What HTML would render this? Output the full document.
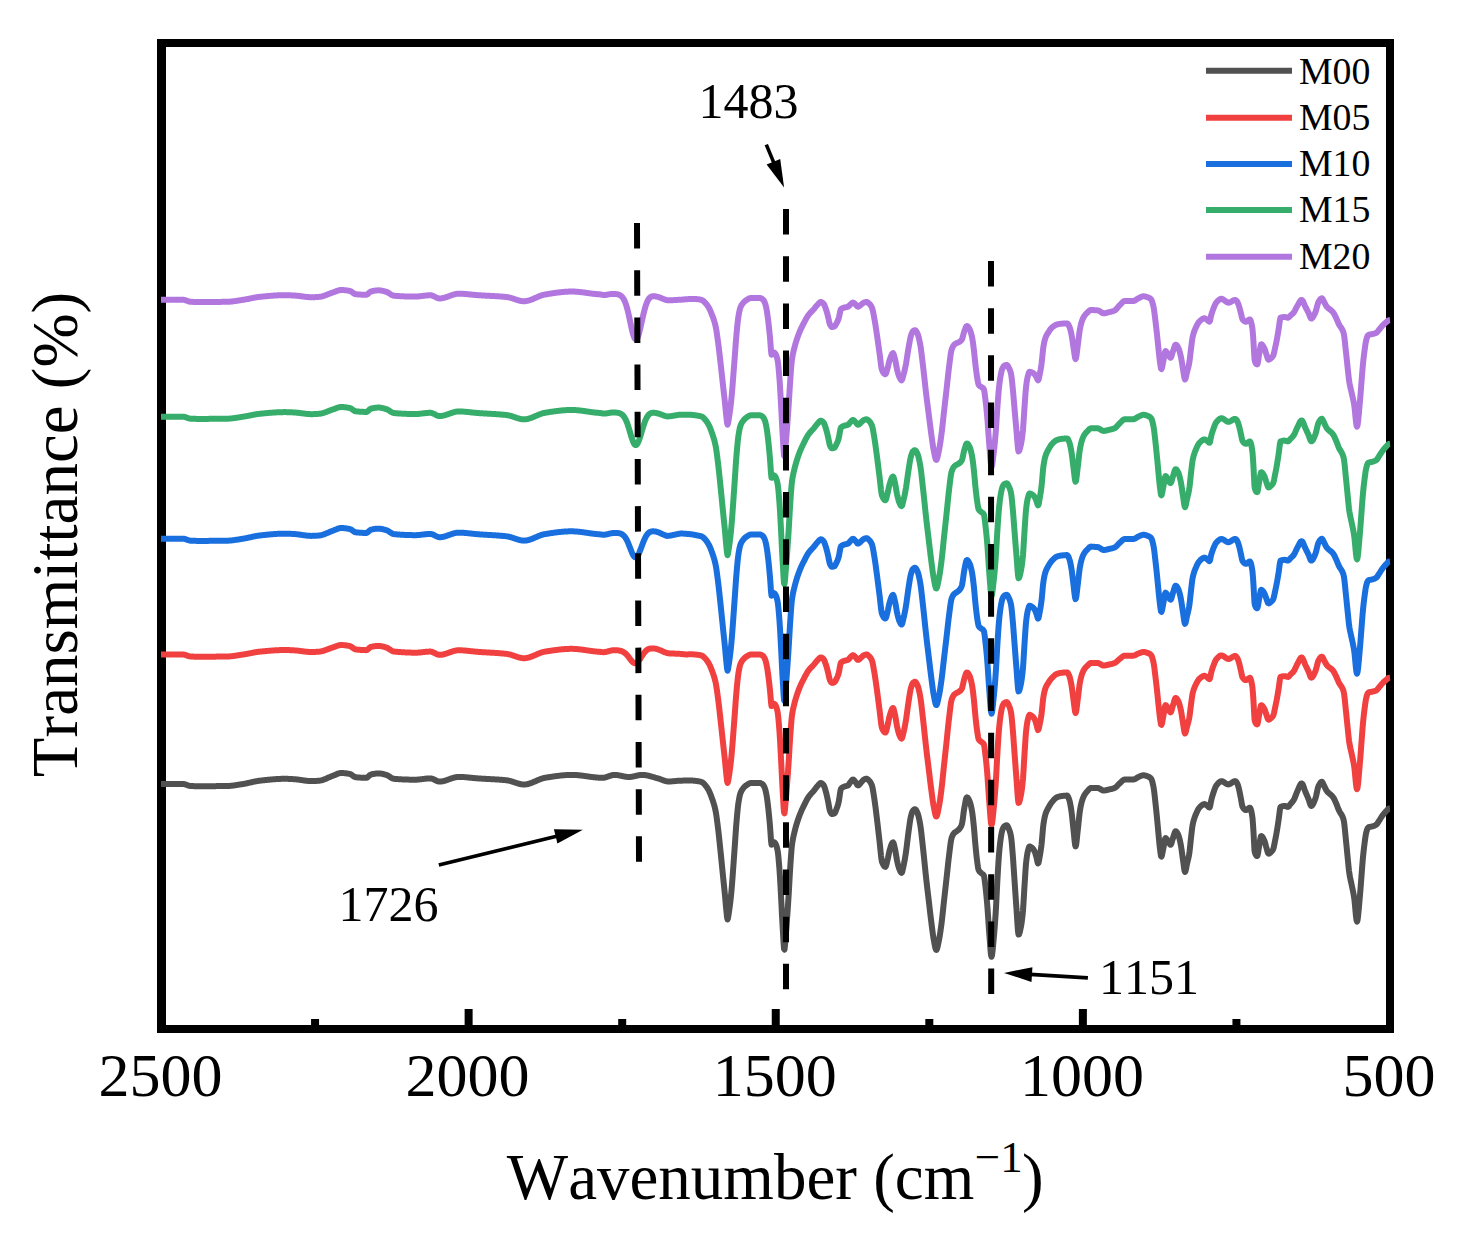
<!DOCTYPE html>
<html><head><meta charset="utf-8"><title>FTIR spectra</title>
<style>html,body{margin:0;padding:0;background:#fff;overflow:hidden}svg{display:block}text{font-family:"Liberation Serif",serif;fill:#000;font-kerning:none;font-feature-settings:"kern" 0}</style>
</head><body>
<svg width="1460" height="1238" viewBox="0 0 1460 1238">
<rect width="1460" height="1238" fill="#fff"/>
<line x1="315.06" y1="1019" x2="315.06" y2="1026" stroke="#000" stroke-width="8"/>
<line x1="622.19" y1="1019" x2="622.19" y2="1026" stroke="#000" stroke-width="8"/>
<line x1="929.31" y1="1019" x2="929.31" y2="1026" stroke="#000" stroke-width="8"/>
<line x1="1236.44" y1="1019" x2="1236.44" y2="1026" stroke="#000" stroke-width="8"/>
<line x1="468.62" y1="1009" x2="468.62" y2="1026" stroke="#000" stroke-width="8"/>
<line x1="775.75" y1="1009" x2="775.75" y2="1026" stroke="#000" stroke-width="8"/>
<line x1="1082.88" y1="1009" x2="1082.88" y2="1026" stroke="#000" stroke-width="8"/>
<line x1="161.5" y1="39" x2="161.5" y2="1033" stroke="#000" stroke-width="9"/>
<line x1="157" y1="43" x2="1394" y2="43" stroke="#000" stroke-width="8"/>
<line x1="1390" y1="39" x2="1390" y2="1033" stroke="#000" stroke-width="8"/>
<line x1="157" y1="1029" x2="1394" y2="1029" stroke="#000" stroke-width="8"/>
<polyline points="161.0,784.00 161.5,784.00 162.0,784.00 162.5,784.00 163.0,784.00 163.5,784.00 164.0,784.00 164.5,784.00 165.0,784.00 165.5,784.00 166.0,784.00 166.5,784.00 167.0,784.00 167.5,784.00 168.0,784.00 168.5,784.00 169.0,784.00 169.5,784.00 170.0,784.00 170.5,784.00 171.0,784.00 171.5,784.00 172.0,784.00 172.5,784.00 173.0,784.00 173.5,784.00 174.0,784.00 174.5,784.00 175.0,784.00 175.5,784.00 176.0,784.00 176.5,784.00 177.0,784.00 177.5,784.00 178.0,784.00 178.5,784.00 179.0,784.00 179.5,784.00 180.0,784.00 180.5,784.00 181.0,784.00 181.5,784.00 182.0,784.00 182.5,784.00 183.0,784.00 183.5,784.02 184.0,784.09 184.5,784.19 185.0,784.32 185.5,784.47 186.0,784.64 186.5,784.82 187.0,785.01 187.5,785.20 188.0,785.38 188.5,785.55 189.0,785.70 189.5,785.83 190.0,785.93 190.5,785.99 191.0,786.01 191.5,786.03 192.0,786.06 192.5,786.07 193.0,786.09 193.5,786.11 194.0,786.13 194.5,786.14 195.0,786.15 195.5,786.16 196.0,786.17 196.5,786.18 197.0,786.19 197.5,786.19 198.0,786.20 198.5,786.20 199.0,786.20 199.5,786.20 200.0,786.20 200.5,786.20 201.0,786.20 201.5,786.20 202.0,786.20 202.5,786.20 203.0,786.20 203.5,786.19 204.0,786.19 204.5,786.19 205.0,786.19 205.5,786.19 206.0,786.19 206.5,786.19 207.0,786.18 207.5,786.18 208.0,786.18 208.5,786.18 209.0,786.17 209.5,786.17 210.0,786.17 210.5,786.17 211.0,786.16 211.5,786.16 212.0,786.16 212.5,786.15 213.0,786.15 213.5,786.15 214.0,786.14 214.5,786.14 215.0,786.14 215.5,786.13 216.0,786.13 216.5,786.12 217.0,786.12 217.5,786.11 218.0,786.11 218.5,786.10 219.0,786.10 219.5,786.09 220.0,786.09 220.5,786.08 221.0,786.08 221.5,786.07 222.0,786.07 222.5,786.06 223.0,786.05 223.5,786.05 224.0,786.04 224.5,786.03 225.0,786.03 225.5,786.02 226.0,786.01 226.5,786.01 227.0,786.00 227.5,785.99 228.0,785.97 228.5,785.95 229.0,785.92 229.5,785.89 230.0,785.86 230.5,785.81 231.0,785.77 231.5,785.72 232.0,785.67 232.5,785.61 233.0,785.55 233.5,785.48 234.0,785.42 234.5,785.35 235.0,785.28 235.5,785.20 236.0,785.13 236.5,785.05 237.0,784.97 237.5,784.90 238.0,784.82 238.5,784.73 239.0,784.65 239.5,784.57 240.0,784.49 240.5,784.41 241.0,784.33 241.5,784.25 242.0,784.18 242.5,784.10 243.0,784.02 243.5,783.94 244.0,783.85 244.5,783.76 245.0,783.67 245.5,783.57 246.0,783.46 246.5,783.36 247.0,783.25 247.5,783.14 248.0,783.03 248.5,782.92 249.0,782.80 249.5,782.69 250.0,782.57 250.5,782.46 251.0,782.34 251.5,782.23 252.0,782.11 252.5,782.00 253.0,781.89 253.5,781.78 254.0,781.67 254.5,781.56 255.0,781.46 255.5,781.36 256.0,781.27 256.5,781.18 257.0,781.09 257.5,781.00 258.0,780.93 258.5,780.85 259.0,780.79 259.5,780.72 260.0,780.67 260.5,780.61 261.0,780.55 261.5,780.50 262.0,780.44 262.5,780.38 263.0,780.33 263.5,780.27 264.0,780.22 264.5,780.16 265.0,780.11 265.5,780.05 266.0,780.00 266.5,779.95 267.0,779.90 267.5,779.84 268.0,779.79 268.5,779.74 269.0,779.69 269.5,779.64 270.0,779.60 270.5,779.55 271.0,779.50 271.5,779.46 272.0,779.41 272.5,779.37 273.0,779.33 273.5,779.29 274.0,779.25 274.5,779.21 275.0,779.18 275.5,779.14 276.0,779.11 276.5,779.08 277.0,779.04 277.5,779.02 278.0,778.99 278.5,778.96 279.0,778.94 279.5,778.92 280.0,778.90 280.5,778.88 281.0,778.86 281.5,778.85 282.0,778.83 282.5,778.82 283.0,778.81 283.5,778.81 284.0,778.80 284.5,778.80 285.0,778.80 285.5,778.80 286.0,778.81 286.5,778.82 287.0,778.83 287.5,778.85 288.0,778.87 288.5,778.89 289.0,778.91 289.5,778.93 290.0,778.96 290.5,778.98 291.0,779.01 291.5,779.04 292.0,779.07 292.5,779.10 293.0,779.13 293.5,779.16 294.0,779.19 294.5,779.22 295.0,779.25 295.5,779.30 296.0,779.34 296.5,779.39 297.0,779.45 297.5,779.51 298.0,779.57 298.5,779.64 299.0,779.70 299.5,779.77 300.0,779.85 300.5,779.92 301.0,780.00 301.5,780.07 302.0,780.15 302.5,780.22 303.0,780.30 303.5,780.37 304.0,780.45 304.5,780.52 305.0,780.59 305.5,780.65 306.0,780.72 306.5,780.78 307.0,780.83 307.5,780.88 308.0,780.93 308.5,780.97 309.0,781.01 309.5,781.04 310.0,781.07 310.5,781.08 311.0,781.10 311.5,781.10 312.0,781.10 312.5,781.09 313.0,781.08 313.5,781.07 314.0,781.05 314.5,781.03 315.0,781.00 315.5,780.97 316.0,780.94 316.5,780.91 317.0,780.87 317.5,780.84 318.0,780.80 318.5,780.76 319.0,780.72 319.5,780.67 320.0,780.61 320.5,780.52 321.0,780.42 321.5,780.30 322.0,780.17 322.5,780.02 323.0,779.86 323.5,779.69 324.0,779.51 324.5,779.32 325.0,779.12 325.5,778.91 326.0,778.70 326.5,778.48 327.0,778.26 327.5,778.03 328.0,777.81 328.5,777.58 329.0,777.36 329.5,777.14 330.0,776.92 330.5,776.71 331.0,776.50 331.5,776.31 332.0,776.12 332.5,775.93 333.0,775.76 333.5,775.56 334.0,775.35 334.5,775.14 335.0,774.92 335.5,774.69 336.0,774.47 336.5,774.25 337.0,774.04 337.5,773.83 338.0,773.65 338.5,773.48 339.0,773.33 339.5,773.20 340.0,773.10 340.5,773.04 341.0,773.00 341.5,773.00 342.0,773.01 342.5,773.03 343.0,773.05 343.5,773.08 344.0,773.12 344.5,773.17 345.0,773.22 345.5,773.28 346.0,773.34 346.5,773.41 347.0,773.48 347.5,773.56 348.0,773.65 348.5,773.73 349.0,773.83 349.5,773.92 350.0,774.02 350.5,774.19 351.0,774.44 351.5,774.74 352.0,775.10 352.5,775.47 353.0,775.85 353.5,776.22 354.0,776.56 354.5,776.84 355.0,777.06 355.5,777.19 356.0,777.24 356.5,777.30 357.0,777.35 357.5,777.39 358.0,777.44 358.5,777.48 359.0,777.52 359.5,777.56 360.0,777.59 360.5,777.62 361.0,777.65 361.5,777.68 362.0,777.70 362.5,777.73 363.0,777.74 363.5,777.76 364.0,777.77 364.5,777.78 365.0,777.79 365.5,777.80 366.0,777.80 366.5,777.77 367.0,777.58 367.5,777.27 368.0,776.86 368.5,776.40 369.0,775.91 369.5,775.44 370.0,775.03 370.5,774.70 371.0,774.50 371.5,774.38 372.0,774.26 372.5,774.15 373.0,774.04 373.5,773.94 374.0,773.84 374.5,773.76 375.0,773.68 375.5,773.61 376.0,773.55 376.5,773.50 377.0,773.46 377.5,773.43 378.0,773.41 378.5,773.40 379.0,773.41 379.5,773.43 380.0,773.47 380.5,773.53 381.0,773.60 381.5,773.69 382.0,773.78 382.5,773.89 383.0,774.01 383.5,774.13 384.0,774.26 384.5,774.40 385.0,774.53 385.5,774.67 386.0,774.82 386.5,774.96 387.0,775.15 387.5,775.38 388.0,775.65 388.5,775.95 389.0,776.27 389.5,776.60 390.0,776.93 390.5,777.26 391.0,777.58 391.5,777.88 392.0,778.16 392.5,778.39 393.0,778.58 393.5,778.72 394.0,778.80 394.5,778.84 395.0,778.89 395.5,778.93 396.0,778.97 396.5,779.01 397.0,779.05 397.5,779.09 398.0,779.12 398.5,779.16 399.0,779.19 399.5,779.23 400.0,779.26 400.5,779.29 401.0,779.32 401.5,779.34 402.0,779.37 402.5,779.40 403.0,779.42 403.5,779.44 404.0,779.47 404.5,779.49 405.0,779.51 405.5,779.53 406.0,779.55 406.5,779.56 407.0,779.58 407.5,779.59 408.0,779.61 408.5,779.62 409.0,779.63 409.5,779.64 410.0,779.65 410.5,779.66 411.0,779.67 411.5,779.68 412.0,779.68 412.5,779.69 413.0,779.69 413.5,779.70 414.0,779.70 414.5,779.70 415.0,779.70 415.5,779.70 416.0,779.68 416.5,779.67 417.0,779.64 417.5,779.61 418.0,779.57 418.5,779.53 419.0,779.48 419.5,779.43 420.0,779.38 420.5,779.32 421.0,779.26 421.5,779.20 422.0,779.14 422.5,779.08 423.0,779.01 423.5,778.95 424.0,778.89 424.5,778.83 425.0,778.77 425.5,778.71 426.0,778.66 426.5,778.61 427.0,778.56 427.5,778.52 428.0,778.48 428.5,778.45 429.0,778.43 429.5,778.41 430.0,778.40 430.5,778.40 431.0,778.44 431.5,778.53 432.0,778.66 432.5,778.82 433.0,779.02 433.5,779.25 434.0,779.49 434.5,779.74 435.0,780.00 435.5,780.26 436.0,780.51 436.5,780.75 437.0,780.98 437.5,781.18 438.0,781.34 438.5,781.47 439.0,781.56 439.5,781.60 440.0,781.59 440.5,781.57 441.0,781.53 441.5,781.47 442.0,781.40 442.5,781.31 443.0,781.21 443.5,781.10 444.0,780.97 444.5,780.84 445.0,780.69 445.5,780.54 446.0,780.38 446.5,780.22 447.0,780.04 447.5,779.87 448.0,779.69 448.5,779.51 449.0,779.32 449.5,779.14 450.0,778.96 450.5,778.78 451.0,778.60 451.5,778.42 452.0,778.25 452.5,778.09 453.0,777.93 453.5,777.78 454.0,777.63 454.5,777.50 455.0,777.38 455.5,777.27 456.0,777.17 456.5,777.09 457.0,777.02 457.5,776.96 458.0,776.92 458.5,776.90 459.0,776.90 459.5,776.90 460.0,776.91 460.5,776.92 461.0,776.94 461.5,776.96 462.0,776.98 462.5,777.00 463.0,777.03 463.5,777.06 464.0,777.10 464.5,777.13 465.0,777.17 465.5,777.21 466.0,777.25 466.5,777.30 467.0,777.34 467.5,777.39 468.0,777.44 468.5,777.49 469.0,777.54 469.5,777.59 470.0,777.64 470.5,777.69 471.0,777.74 471.5,777.80 472.0,777.85 472.5,777.90 473.0,777.95 473.5,778.00 474.0,778.05 474.5,778.10 475.0,778.15 475.5,778.19 476.0,778.24 476.5,778.28 477.0,778.32 477.5,778.36 478.0,778.40 478.5,778.44 479.0,778.47 479.5,778.50 480.0,778.54 480.5,778.57 481.0,778.60 481.5,778.63 482.0,778.66 482.5,778.69 483.0,778.72 483.5,778.75 484.0,778.78 484.5,778.80 485.0,778.83 485.5,778.86 486.0,778.88 486.5,778.91 487.0,778.94 487.5,778.96 488.0,778.99 488.5,779.02 489.0,779.04 489.5,779.07 490.0,779.09 490.5,779.12 491.0,779.14 491.5,779.17 492.0,779.20 492.5,779.22 493.0,779.25 493.5,779.28 494.0,779.31 494.5,779.34 495.0,779.37 495.5,779.40 496.0,779.43 496.5,779.46 497.0,779.49 497.5,779.52 498.0,779.55 498.5,779.59 499.0,779.62 499.5,779.66 500.0,779.69 500.5,779.73 501.0,779.77 501.5,779.81 502.0,779.85 502.5,779.89 503.0,779.94 503.5,779.98 504.0,780.03 504.5,780.07 505.0,780.12 505.5,780.17 506.0,780.23 506.5,780.28 507.0,780.34 507.5,780.41 508.0,780.49 508.5,780.58 509.0,780.69 509.5,780.81 510.0,780.94 510.5,781.07 511.0,781.21 511.5,781.36 512.0,781.52 512.5,781.68 513.0,781.84 513.5,782.01 514.0,782.18 514.5,782.35 515.0,782.52 515.5,782.69 516.0,782.85 516.5,783.02 517.0,783.18 517.5,783.33 518.0,783.48 518.5,783.63 519.0,783.76 519.5,783.89 520.0,784.01 520.5,784.12 521.0,784.21 521.5,784.30 522.0,784.37 522.5,784.42 523.0,784.47 523.5,784.49 524.0,784.50 524.5,784.49 525.0,784.46 525.5,784.42 526.0,784.36 526.5,784.28 527.0,784.19 527.5,784.09 528.0,783.97 528.5,783.84 529.0,783.70 529.5,783.55 530.0,783.38 530.5,783.21 531.0,783.03 531.5,782.85 532.0,782.65 532.5,782.45 533.0,782.25 533.5,782.04 534.0,781.82 534.5,781.61 535.0,781.39 535.5,781.17 536.0,780.95 536.5,780.73 537.0,780.51 537.5,780.29 538.0,780.08 538.5,779.87 539.0,779.66 539.5,779.46 540.0,779.27 540.5,779.08 541.0,778.90 541.5,778.73 542.0,778.56 542.5,778.41 543.0,778.27 543.5,778.13 544.0,778.02 544.5,777.91 545.0,777.82 545.5,777.73 546.0,777.65 546.5,777.57 547.0,777.49 547.5,777.41 548.0,777.33 548.5,777.25 549.0,777.16 549.5,777.09 550.0,777.01 550.5,776.93 551.0,776.85 551.5,776.77 552.0,776.70 552.5,776.62 553.0,776.55 553.5,776.47 554.0,776.40 554.5,776.33 555.0,776.26 555.5,776.19 556.0,776.12 556.5,776.05 557.0,775.99 557.5,775.92 558.0,775.86 558.5,775.80 559.0,775.74 559.5,775.68 560.0,775.62 560.5,775.57 561.0,775.52 561.5,775.46 562.0,775.42 562.5,775.37 563.0,775.32 563.5,775.28 564.0,775.24 564.5,775.20 565.0,775.16 565.5,775.13 566.0,775.09 566.5,775.06 567.0,775.03 567.5,775.01 568.0,774.99 568.5,774.97 569.0,774.95 569.5,774.93 570.0,774.92 570.5,774.91 571.0,774.90 571.5,774.90 572.0,774.90 572.5,774.90 573.0,774.91 573.5,774.92 574.0,774.94 574.5,774.96 575.0,774.98 575.5,775.01 576.0,775.04 576.5,775.08 577.0,775.11 577.5,775.15 578.0,775.20 578.5,775.24 579.0,775.29 579.5,775.35 580.0,775.40 580.5,775.46 581.0,775.51 581.5,775.57 582.0,775.64 582.5,775.70 583.0,775.76 583.5,775.83 584.0,775.90 584.5,775.96 585.0,776.03 585.5,776.10 586.0,776.17 586.5,776.24 587.0,776.31 587.5,776.39 588.0,776.46 588.5,776.53 589.0,776.60 589.5,776.67 590.0,776.74 590.5,776.80 591.0,776.87 591.5,776.94 592.0,777.00 592.5,777.06 593.0,777.13 593.5,777.19 594.0,777.24 594.5,777.30 595.0,777.35 595.5,777.41 596.0,777.46 596.5,777.50 597.0,777.55 597.5,777.59 598.0,777.62 598.5,777.66 599.0,777.69 599.5,777.72 600.0,777.74 600.5,777.76 601.0,777.78 601.5,777.79 602.0,777.80 602.5,777.80 603.0,777.79 603.5,777.75 604.0,777.69 604.5,777.60 605.0,777.49 605.5,777.37 606.0,777.23 606.5,777.07 607.0,776.90 607.5,776.73 608.0,776.55 608.5,776.37 609.0,776.19 609.5,776.01 610.0,775.83 610.5,775.66 611.0,775.51 611.5,775.36 612.0,775.23 612.5,775.12 613.0,775.03 613.5,774.96 614.0,774.91 614.5,774.90 615.0,774.91 615.5,774.93 616.0,774.96 616.5,775.01 617.0,775.07 617.5,775.13 618.0,775.21 618.5,775.29 619.0,775.38 619.5,775.48 620.0,775.58 620.5,775.68 621.0,775.79 621.5,775.90 622.0,776.00 622.5,776.11 623.0,776.22 623.5,776.32 624.0,776.42 624.5,776.52 625.0,776.61 625.5,776.69 626.0,776.77 626.5,776.83 627.0,776.89 627.5,776.94 628.0,776.97 628.5,776.99 629.0,777.00 629.5,776.99 630.0,776.97 630.5,776.92 631.0,776.87 631.5,776.80 632.0,776.72 632.5,776.64 633.0,776.54 633.5,776.43 634.0,776.32 634.5,776.21 635.0,776.09 635.5,775.97 636.0,775.85 636.5,775.74 637.0,775.62 637.5,775.51 638.0,775.40 638.5,775.30 639.0,775.21 639.5,775.13 640.0,775.06 640.5,775.00 641.0,774.95 641.5,774.92 642.0,774.90 642.5,774.90 643.0,774.92 643.5,774.94 644.0,774.98 644.5,775.03 645.0,775.09 645.5,775.16 646.0,775.24 646.5,775.32 647.0,775.42 647.5,775.52 648.0,775.63 648.5,775.75 649.0,775.87 649.5,776.00 650.0,776.13 650.5,776.27 651.0,776.41 651.5,776.55 652.0,776.70 652.5,776.85 653.0,777.00 653.5,777.15 654.0,777.30 654.5,777.45 655.0,777.60 655.5,777.75 656.0,777.89 656.5,778.04 657.0,778.18 657.5,778.32 658.0,778.45 658.5,778.58 659.0,778.73 659.5,778.89 660.0,779.06 660.5,779.24 661.0,779.43 661.5,779.63 662.0,779.82 662.5,780.02 663.0,780.21 663.5,780.40 664.0,780.58 664.5,780.76 665.0,780.92 665.5,781.06 666.0,781.19 666.5,781.30 667.0,781.39 667.5,781.45 668.0,781.49 668.5,781.50 669.0,781.49 669.5,781.48 670.0,781.46 670.5,781.44 671.0,781.41 671.5,781.38 672.0,781.34 672.5,781.30 673.0,781.26 673.5,781.21 674.0,781.16 674.5,781.12 675.0,781.07 675.5,781.02 676.0,780.97 676.5,780.93 677.0,780.88 677.5,780.84 678.0,780.81 678.5,780.77 679.0,780.74 679.5,780.72 680.0,780.70 680.5,780.68 681.0,780.67 681.5,780.65 682.0,780.64 682.5,780.63 683.0,780.61 683.5,780.60 684.0,780.59 684.5,780.57 685.0,780.56 685.5,780.55 686.0,780.54 686.5,780.53 687.0,780.52 687.5,780.52 688.0,780.51 688.5,780.51 689.0,780.50 689.5,780.50 690.0,780.50 690.5,780.50 691.0,780.52 691.5,780.53 692.0,780.56 692.5,780.59 693.0,780.63 693.5,780.67 694.0,780.72 694.5,780.77 695.0,780.83 695.5,780.89 696.0,780.95 696.5,781.02 697.0,781.08 697.5,781.15 698.0,781.23 698.5,781.30 699.0,781.38 699.5,781.47 700.0,781.58 700.5,781.70 701.0,781.85 701.5,782.01 702.0,782.20 702.5,782.46 703.0,782.82 703.5,783.27 704.0,783.78 704.5,784.33 705.0,784.91 705.5,785.50 706.0,786.11 706.5,786.77 707.0,787.48 707.5,788.25 708.0,789.07 708.5,789.95 709.0,790.88 709.5,791.93 710.0,793.08 710.5,794.32 711.0,795.63 711.5,797.00 712.0,798.40 712.5,799.81 713.0,801.28 713.5,802.83 714.0,804.50 714.5,806.32 715.0,808.32 715.5,810.53 716.0,813.13 716.5,816.36 717.0,820.04 717.5,823.98 718.0,828.00 718.5,832.19 719.0,836.68 719.5,841.38 720.0,846.21 720.5,851.07 721.0,855.92 721.5,860.89 722.0,865.93 722.5,870.99 723.0,876.00 723.5,880.90 724.0,885.74 724.5,890.64 725.0,895.70 725.5,901.25 726.0,906.98 726.5,912.00 727.0,916.85 727.5,919.50 728.0,918.06 728.5,914.94 729.0,911.76 729.5,908.37 730.0,904.55 730.5,900.32 731.0,895.70 731.5,890.46 732.0,884.49 732.5,877.99 733.0,871.13 733.5,864.11 734.0,857.11 734.5,850.23 735.0,842.93 735.5,835.47 736.0,828.33 736.5,822.00 737.0,816.29 737.5,810.91 738.0,806.17 738.5,802.40 739.0,799.39 739.5,796.78 740.0,794.62 740.5,793.00 741.0,791.79 741.5,790.79 742.0,789.94 742.5,789.21 743.0,788.54 743.5,787.90 744.0,787.32 744.5,786.78 745.0,786.30 745.5,785.87 746.0,785.50 746.5,785.16 747.0,784.82 747.5,784.48 748.0,784.16 748.5,783.87 749.0,783.60 749.5,783.37 750.0,783.19 750.5,783.07 751.0,783.01 751.5,783.00 752.0,783.00 752.5,783.00 753.0,783.00 753.5,783.00 754.0,783.00 754.5,783.00 755.0,783.00 755.5,783.00 756.0,783.00 756.5,783.00 757.0,783.00 757.5,783.00 758.0,783.00 758.5,783.00 759.0,783.00 759.5,783.00 760.0,783.02 760.5,783.13 761.0,783.32 761.5,783.58 762.0,783.90 762.5,784.27 763.0,784.68 763.5,785.32 764.0,786.20 764.5,787.28 765.0,788.54 765.5,790.29 766.0,792.48 766.5,795.00 767.0,798.03 767.5,801.71 768.0,805.80 768.5,810.20 769.0,815.16 769.5,820.51 770.0,826.00 770.5,832.96 771.0,840.40 771.5,844.65 772.0,844.48 772.5,843.51 773.0,842.48 773.5,842.00 774.0,842.15 774.5,842.51 775.0,843.00 775.5,843.70 776.0,844.76 776.5,846.17 777.0,847.92 777.5,850.00 778.0,853.18 778.5,857.92 779.0,863.70 779.5,870.00 780.0,877.50 780.5,886.45 781.0,895.70 781.5,905.30 782.0,915.40 782.5,924.96 783.0,933.32 783.5,942.11 784.0,948.67 784.5,949.54 785.0,945.25 785.5,938.77 786.0,932.65 786.5,926.39 787.0,919.63 787.5,912.46 788.0,904.98 788.5,897.26 789.0,888.96 789.5,879.85 790.0,871.12 790.5,863.51 791.0,856.15 791.5,849.65 792.0,844.80 792.5,841.41 793.0,838.62 793.5,836.25 794.0,834.10 794.5,832.00 795.0,829.93 795.5,827.99 796.0,826.16 796.5,824.44 797.0,822.80 797.5,821.23 798.0,819.72 798.5,818.27 799.0,816.88 799.5,815.54 800.0,814.25 800.5,813.00 801.0,811.80 801.5,810.65 802.0,809.55 802.5,808.48 803.0,807.43 803.5,806.41 804.0,805.39 804.5,804.38 805.0,803.36 805.5,802.35 806.0,801.36 806.5,800.40 807.0,799.47 807.5,798.59 808.0,797.76 808.5,797.00 809.0,796.30 809.5,795.64 810.0,795.02 810.5,794.44 811.0,793.87 811.5,793.32 812.0,792.78 812.5,792.23 813.0,791.68 813.5,791.10 814.0,790.50 814.5,789.86 815.0,789.19 815.5,788.51 816.0,787.84 816.5,787.18 817.0,786.56 817.5,786.00 818.0,785.43 818.5,784.82 819.0,784.23 819.5,783.70 820.0,783.29 820.5,783.04 821.0,783.02 821.5,783.17 822.0,783.48 822.5,783.91 823.0,784.43 823.5,785.00 824.0,785.85 824.5,787.12 825.0,788.69 825.5,790.42 826.0,792.20 826.5,794.12 827.0,796.31 827.5,798.64 828.0,801.00 828.5,803.66 829.0,806.59 829.5,809.23 830.0,811.00 830.5,812.12 831.0,813.08 831.5,813.75 832.0,814.00 832.5,813.97 833.0,813.88 833.5,813.75 834.0,813.57 834.5,813.34 835.0,812.70 835.5,811.62 836.0,810.32 836.5,809.00 837.0,807.69 837.5,806.25 838.0,804.63 838.5,802.80 839.0,800.35 839.5,796.95 840.0,793.36 840.5,790.38 841.0,788.80 841.5,788.24 842.0,787.80 842.5,787.44 843.0,787.16 843.5,786.92 844.0,786.71 844.5,786.50 845.0,786.32 845.5,786.17 846.0,786.05 846.5,785.94 847.0,785.80 847.5,785.63 848.0,785.40 848.5,784.97 849.0,784.29 849.5,783.48 850.0,782.68 850.5,782.00 851.0,781.37 851.5,780.71 852.0,780.10 852.5,779.67 853.0,779.50 853.5,779.67 854.0,780.10 854.5,780.71 855.0,781.37 855.5,782.00 856.0,782.72 856.5,783.61 857.0,784.48 857.5,785.14 858.0,785.40 858.5,785.27 859.0,784.93 859.5,784.42 860.0,783.82 860.5,783.18 861.0,782.55 861.5,782.00 862.0,781.46 862.5,780.88 863.0,780.31 863.5,779.83 864.0,779.50 864.5,779.27 865.0,779.06 865.5,778.88 866.0,778.76 866.5,778.70 867.0,778.78 867.5,779.05 868.0,779.47 868.5,779.98 869.0,780.50 869.5,781.05 870.0,781.69 870.5,782.45 871.0,783.35 871.5,784.42 872.0,785.68 872.5,787.61 873.0,790.24 873.5,793.33 874.0,796.66 874.5,800.00 875.0,803.45 875.5,807.21 876.0,811.19 876.5,815.29 877.0,819.40 877.5,823.58 878.0,827.91 878.5,832.31 879.0,836.70 879.5,841.00 880.0,845.67 880.5,850.74 881.0,855.56 881.5,859.47 882.0,861.80 882.5,863.06 883.0,864.18 883.5,865.14 884.0,865.91 884.5,866.48 885.0,866.81 885.5,866.87 886.0,866.00 886.5,864.25 887.0,862.09 887.5,860.00 888.0,857.82 888.5,855.33 889.0,852.84 889.5,850.69 890.0,849.04 890.5,847.41 891.0,845.85 891.5,844.45 892.0,843.33 892.5,842.57 893.0,842.30 893.5,842.96 894.0,844.61 894.5,846.78 895.0,849.00 895.5,851.46 896.0,854.43 896.5,857.53 897.0,860.37 897.5,862.65 898.0,864.71 898.5,866.59 899.0,868.22 899.5,869.50 900.0,870.60 900.5,871.63 901.0,872.41 901.5,872.79 902.0,872.31 902.5,870.64 903.0,868.34 903.5,866.00 904.0,863.69 904.5,861.10 905.0,858.26 905.5,855.21 906.0,851.95 906.5,848.21 907.0,844.11 907.5,839.89 908.0,835.78 908.5,832.00 909.0,828.38 909.5,824.74 910.0,821.30 910.5,818.31 911.0,816.00 911.5,814.17 912.0,812.57 912.5,811.30 913.0,810.50 913.5,810.00 914.0,809.59 914.5,809.30 915.0,809.20 915.5,809.42 916.0,810.00 916.5,810.86 917.0,811.89 917.5,813.00 918.0,814.35 918.5,816.13 919.0,818.28 919.5,820.72 920.0,823.38 920.5,826.34 921.0,830.00 921.5,834.21 922.0,838.75 922.5,843.42 923.0,848.00 923.5,852.60 924.0,857.40 924.5,862.32 925.0,867.26 925.5,872.14 926.0,876.87 926.5,881.38 927.0,885.75 927.5,890.03 928.0,894.25 928.5,898.46 929.0,902.71 929.5,907.01 930.0,911.31 930.5,915.54 931.0,919.62 931.5,923.56 932.0,927.55 932.5,931.46 933.0,935.11 933.5,938.34 934.0,941.05 934.5,943.78 935.0,946.37 935.5,948.48 936.0,949.77 936.5,949.90 937.0,948.93 937.5,947.14 938.0,944.87 938.5,942.42 939.0,940.05 939.5,937.37 940.0,934.33 940.5,931.00 941.0,927.45 941.5,923.74 942.0,919.63 942.5,915.12 943.0,910.39 943.5,905.62 944.0,901.00 944.5,896.53 945.0,892.08 945.5,887.63 946.0,883.18 946.5,878.70 947.0,874.09 947.5,869.36 948.0,864.66 948.5,860.16 949.0,856.00 949.5,851.93 950.0,847.79 950.5,843.93 951.0,840.66 951.5,838.33 952.0,836.87 952.5,835.67 953.0,834.68 953.5,833.87 954.0,833.22 954.5,832.71 955.0,832.31 955.5,831.99 956.0,831.68 956.5,831.35 957.0,830.97 957.5,830.60 958.0,830.22 958.5,829.81 959.0,829.33 959.5,828.76 960.0,828.12 960.5,827.36 961.0,826.43 961.5,825.30 962.0,823.80 962.5,821.03 963.0,817.35 963.5,813.37 964.0,809.75 964.5,806.95 965.0,804.19 965.5,801.50 966.0,799.22 966.5,797.72 967.0,797.31 967.5,797.58 968.0,798.16 968.5,798.98 969.0,799.96 969.5,801.00 970.0,802.27 970.5,803.96 971.0,806.00 971.5,808.37 972.0,811.00 972.5,814.28 973.0,818.42 973.5,823.08 974.0,828.08 974.5,834.00 975.0,840.23 975.5,845.85 976.0,851.03 976.5,855.85 977.0,860.00 977.5,863.80 978.0,867.29 978.5,869.76 979.0,870.82 979.5,871.49 980.0,871.98 980.5,872.39 981.0,872.81 981.5,873.27 982.0,873.63 982.5,873.97 983.0,874.37 983.5,874.94 984.0,875.94 984.5,878.71 985.0,882.73 985.5,887.00 986.0,891.40 986.5,896.39 987.0,901.88 987.5,908.00 988.0,915.22 988.5,922.86 989.0,930.14 989.5,936.51 990.0,943.36 990.5,949.92 991.0,954.86 991.5,956.80 992.0,955.29 992.5,951.47 993.0,946.36 993.5,941.01 994.0,935.77 994.5,929.79 995.0,923.10 995.5,915.78 996.0,907.58 996.5,897.74 997.0,887.50 997.5,878.27 998.0,869.59 998.5,861.44 999.0,854.48 999.5,848.94 1000.0,844.14 1000.5,840.07 1001.0,836.73 1001.5,833.74 1002.0,831.24 1002.5,829.50 1003.0,828.31 1003.5,827.32 1004.0,826.55 1004.5,826.06 1005.0,825.79 1005.5,825.56 1006.0,825.40 1006.5,825.31 1007.0,825.41 1007.5,825.99 1008.0,826.93 1008.5,828.07 1009.0,829.23 1009.5,830.49 1010.0,832.02 1010.5,833.92 1011.0,836.30 1011.5,840.06 1012.0,845.43 1012.5,851.54 1013.0,857.87 1013.5,865.10 1014.0,872.73 1014.5,880.15 1015.0,887.52 1015.5,894.91 1016.0,902.13 1016.5,909.00 1017.0,916.52 1017.5,924.57 1018.0,931.23 1018.5,934.59 1019.0,934.34 1019.5,933.04 1020.0,931.12 1020.5,928.90 1021.0,926.54 1021.5,923.57 1022.0,919.92 1022.5,915.61 1023.0,910.42 1023.5,902.94 1024.0,894.24 1024.5,886.00 1025.0,878.14 1025.5,870.33 1026.0,863.78 1026.5,859.29 1027.0,855.65 1027.5,852.75 1028.0,850.62 1028.5,848.78 1029.0,847.27 1029.5,846.52 1030.0,846.55 1030.5,846.75 1031.0,847.05 1031.5,847.42 1032.0,847.83 1032.5,848.27 1033.0,848.82 1033.5,849.50 1034.0,850.29 1034.5,851.20 1035.0,852.31 1035.5,853.83 1036.0,855.58 1036.5,857.37 1037.0,859.73 1037.5,862.12 1038.0,863.45 1038.5,862.83 1039.0,860.60 1039.5,857.69 1040.0,854.92 1040.5,851.96 1041.0,848.61 1041.5,844.80 1042.0,839.78 1042.5,833.74 1043.0,827.99 1043.5,823.82 1044.0,820.70 1044.5,818.02 1045.0,815.78 1045.5,814.00 1046.0,812.57 1046.5,811.35 1047.0,810.28 1047.5,809.31 1048.0,808.41 1048.5,807.50 1049.0,806.59 1049.5,805.71 1050.0,804.87 1050.5,804.07 1051.0,803.33 1051.5,802.65 1052.0,802.03 1052.5,801.42 1053.0,800.82 1053.5,800.24 1054.0,799.68 1054.5,799.15 1055.0,798.67 1055.5,798.24 1056.0,797.86 1056.5,797.54 1057.0,797.30 1057.5,797.10 1058.0,796.92 1058.5,796.76 1059.0,796.61 1059.5,796.47 1060.0,796.35 1060.5,796.24 1061.0,796.15 1061.5,796.07 1062.0,796.00 1062.5,795.94 1063.0,795.88 1063.5,795.83 1064.0,795.77 1064.5,795.73 1065.0,795.69 1065.5,795.65 1066.0,795.63 1066.5,795.61 1067.0,795.60 1067.5,795.81 1068.0,796.58 1068.5,797.74 1069.0,799.13 1069.5,800.64 1070.0,802.70 1070.5,805.31 1071.0,808.31 1071.5,811.59 1072.0,815.68 1072.5,820.47 1073.0,825.42 1073.5,830.00 1074.0,834.81 1074.5,839.97 1075.0,844.26 1075.5,846.43 1076.0,845.55 1076.5,842.27 1077.0,837.62 1077.5,832.68 1078.0,828.27 1078.5,823.45 1079.0,818.43 1079.5,813.84 1080.0,810.29 1080.5,807.44 1081.0,804.96 1081.5,802.82 1082.0,801.00 1082.5,799.43 1083.0,798.03 1083.5,796.82 1084.0,795.79 1084.5,794.90 1085.0,794.11 1085.5,793.38 1086.0,792.72 1086.5,792.11 1087.0,791.54 1087.5,791.00 1088.0,790.44 1088.5,789.84 1089.0,789.26 1089.5,788.74 1090.0,788.33 1090.5,788.07 1091.0,788.00 1091.5,788.00 1092.0,788.00 1092.5,788.00 1093.0,788.00 1093.5,788.00 1094.0,788.00 1094.5,788.00 1095.0,788.00 1095.5,788.00 1096.0,788.00 1096.5,788.00 1097.0,788.00 1097.5,788.00 1098.0,788.02 1098.5,788.13 1099.0,788.31 1099.5,788.56 1100.0,788.84 1100.5,789.15 1101.0,789.47 1101.5,789.78 1102.0,790.05 1102.5,790.27 1103.0,790.43 1103.5,790.50 1104.0,790.49 1104.5,790.45 1105.0,790.39 1105.5,790.31 1106.0,790.21 1106.5,790.10 1107.0,789.98 1107.5,789.86 1108.0,789.74 1108.5,789.61 1109.0,789.50 1109.5,789.39 1110.0,789.29 1110.5,789.18 1111.0,789.07 1111.5,788.96 1112.0,788.84 1112.5,788.71 1113.0,788.57 1113.5,788.41 1114.0,788.24 1114.5,788.04 1115.0,787.80 1115.5,787.46 1116.0,787.04 1116.5,786.57 1117.0,786.05 1117.5,785.52 1118.0,784.97 1118.5,784.44 1119.0,783.95 1119.5,783.50 1120.0,783.06 1120.5,782.58 1121.0,782.08 1121.5,781.58 1122.0,781.09 1122.5,780.64 1123.0,780.24 1123.5,779.90 1124.0,779.66 1124.5,779.52 1125.0,779.50 1125.5,779.50 1126.0,779.50 1126.5,779.50 1127.0,779.50 1127.5,779.50 1128.0,779.50 1128.5,779.50 1129.0,779.50 1129.5,779.50 1130.0,779.50 1130.5,779.50 1131.0,779.50 1131.5,779.50 1132.0,779.50 1132.5,779.50 1133.0,779.50 1133.5,779.49 1134.0,779.41 1134.5,779.25 1135.0,779.02 1135.5,778.75 1136.0,778.45 1136.5,778.13 1137.0,777.81 1137.5,777.50 1138.0,777.23 1138.5,777.00 1139.0,776.79 1139.5,776.57 1140.0,776.34 1140.5,776.12 1141.0,775.90 1141.5,775.71 1142.0,775.54 1142.5,775.41 1143.0,775.33 1143.5,775.30 1144.0,775.32 1144.5,775.38 1145.0,775.48 1145.5,775.60 1146.0,775.75 1146.5,775.92 1147.0,776.11 1147.5,776.30 1148.0,776.50 1148.5,776.71 1149.0,776.96 1149.5,777.25 1150.0,777.61 1150.5,778.05 1151.0,778.58 1151.5,779.38 1152.0,780.71 1152.5,782.50 1153.0,784.63 1153.5,787.00 1154.0,790.11 1154.5,794.20 1155.0,798.75 1155.5,803.30 1156.0,807.98 1156.5,812.92 1157.0,818.00 1157.5,823.30 1158.0,828.81 1158.5,834.22 1159.0,839.44 1159.5,844.62 1160.0,849.00 1160.5,852.94 1161.0,856.05 1161.5,856.55 1162.0,855.13 1162.5,852.73 1163.0,849.99 1163.5,847.53 1164.0,844.66 1164.5,841.54 1165.0,839.03 1165.5,838.00 1166.0,838.21 1166.5,838.74 1167.0,839.47 1167.5,840.27 1168.0,841.00 1168.5,841.80 1169.0,842.75 1169.5,843.69 1170.0,844.43 1170.5,844.79 1171.0,844.44 1171.5,843.21 1172.0,841.47 1172.5,839.60 1173.0,838.00 1173.5,836.50 1174.0,834.83 1174.5,833.24 1175.0,831.98 1175.5,831.27 1176.0,831.27 1176.5,831.69 1177.0,832.41 1177.5,833.32 1178.0,834.36 1178.5,835.47 1179.0,836.94 1179.5,838.79 1180.0,840.94 1180.5,843.31 1181.0,845.88 1181.5,849.10 1182.0,852.77 1182.5,856.53 1183.0,860.00 1183.5,863.68 1184.0,867.60 1184.5,870.73 1185.0,872.00 1185.5,871.15 1186.0,869.07 1186.5,866.46 1187.0,864.00 1187.5,861.92 1188.0,859.85 1188.5,857.62 1189.0,855.07 1189.5,851.92 1190.0,847.57 1190.5,842.65 1191.0,838.00 1191.5,833.58 1192.0,829.20 1192.5,825.58 1193.0,823.13 1193.5,821.11 1194.0,819.35 1194.5,817.82 1195.0,816.45 1195.5,815.19 1196.0,814.00 1196.5,812.84 1197.0,811.72 1197.5,810.67 1198.0,809.70 1198.5,808.83 1199.0,808.09 1199.5,807.50 1200.0,806.99 1200.5,806.49 1201.0,806.01 1201.5,805.57 1202.0,805.16 1202.5,804.81 1203.0,804.51 1203.5,804.29 1204.0,804.15 1204.5,804.10 1205.0,804.19 1205.5,804.44 1206.0,804.77 1206.5,805.15 1207.0,805.50 1207.5,805.90 1208.0,806.41 1208.5,806.90 1209.0,807.30 1209.5,807.49 1210.0,806.73 1210.5,804.30 1211.0,801.42 1211.5,799.22 1212.0,797.34 1212.5,795.59 1213.0,794.00 1213.5,792.49 1214.0,790.98 1214.5,789.52 1215.0,788.18 1215.5,786.99 1216.0,786.00 1216.5,785.27 1217.0,784.64 1217.5,784.03 1218.0,783.45 1218.5,782.92 1219.0,782.43 1219.5,782.02 1220.0,781.68 1220.5,781.42 1221.0,781.26 1221.5,781.20 1222.0,781.25 1222.5,781.39 1223.0,781.60 1223.5,781.87 1224.0,782.18 1224.5,782.52 1225.0,782.87 1225.5,783.22 1226.0,783.55 1226.5,783.85 1227.0,784.09 1227.5,784.28 1228.0,784.38 1228.5,784.39 1229.0,784.31 1229.5,784.14 1230.0,783.91 1230.5,783.63 1231.0,783.31 1231.5,782.96 1232.0,782.61 1232.5,782.26 1233.0,781.93 1233.5,781.64 1234.0,781.40 1234.5,781.22 1235.0,781.12 1235.5,781.14 1236.0,781.53 1236.5,782.20 1237.0,783.00 1237.5,784.05 1238.0,785.48 1238.5,787.15 1239.0,789.06 1239.5,791.37 1240.0,793.92 1240.5,796.50 1241.0,799.04 1241.5,801.98 1242.0,804.79 1242.5,806.70 1243.0,807.55 1243.5,808.27 1244.0,808.89 1244.5,809.38 1245.0,809.74 1245.5,809.95 1246.0,810.00 1246.5,809.86 1247.0,809.57 1247.5,809.19 1248.0,808.76 1248.5,808.35 1249.0,808.00 1249.5,807.76 1250.0,807.72 1250.5,808.39 1251.0,809.89 1251.5,812.05 1252.0,814.72 1252.5,818.09 1253.0,824.43 1253.5,832.00 1254.0,841.65 1254.5,850.57 1255.0,853.01 1255.5,854.26 1256.0,855.19 1256.5,855.79 1257.0,856.07 1257.5,855.67 1258.0,853.44 1258.5,850.14 1259.0,846.72 1259.5,843.92 1260.0,840.84 1260.5,837.95 1261.0,836.18 1261.5,836.06 1262.0,836.43 1262.5,837.06 1263.0,837.90 1263.5,838.88 1264.0,839.94 1264.5,841.03 1265.0,842.50 1265.5,844.34 1266.0,846.26 1266.5,848.00 1267.0,849.77 1267.5,851.63 1268.0,853.10 1268.5,853.70 1269.0,853.60 1269.5,853.32 1270.0,852.93 1270.5,852.47 1271.0,852.00 1271.5,851.53 1272.0,850.99 1272.5,850.33 1273.0,849.50 1273.5,848.36 1274.0,846.30 1274.5,843.65 1275.0,841.00 1275.5,838.53 1276.0,835.97 1276.5,833.26 1277.0,830.34 1277.5,827.19 1278.0,823.92 1278.5,820.65 1279.0,817.02 1279.5,812.78 1280.0,809.06 1280.5,807.01 1281.0,806.72 1281.5,806.52 1282.0,806.36 1282.5,806.23 1283.0,806.13 1283.5,806.06 1284.0,806.02 1284.5,806.00 1285.0,806.04 1285.5,806.16 1286.0,806.35 1286.5,806.55 1287.0,806.74 1287.5,806.86 1288.0,806.89 1288.5,806.63 1289.0,806.09 1289.5,805.39 1290.0,804.66 1290.5,804.00 1291.0,803.44 1291.5,802.90 1292.0,802.35 1292.5,801.77 1293.0,801.13 1293.5,800.40 1294.0,799.51 1294.5,798.43 1295.0,797.23 1295.5,795.93 1296.0,794.61 1296.5,793.29 1297.0,792.05 1297.5,790.91 1298.0,789.83 1298.5,788.64 1299.0,787.43 1299.5,786.25 1300.0,785.18 1300.5,784.30 1301.0,783.69 1301.5,783.41 1302.0,783.57 1302.5,784.19 1303.0,785.18 1303.5,786.44 1304.0,787.86 1304.5,789.34 1305.0,790.78 1305.5,792.07 1306.0,793.21 1306.5,794.34 1307.0,795.49 1307.5,796.64 1308.0,797.81 1308.5,799.00 1309.0,800.40 1309.5,802.03 1310.0,803.65 1310.5,805.00 1311.0,805.85 1311.5,805.97 1312.0,805.67 1312.5,805.07 1313.0,804.24 1313.5,803.22 1314.0,802.06 1314.5,800.83 1315.0,799.56 1315.5,798.25 1316.0,796.45 1316.5,794.25 1317.0,791.88 1317.5,789.58 1318.0,787.57 1318.5,786.11 1319.0,785.13 1319.5,784.21 1320.0,783.38 1320.5,782.68 1321.0,782.15 1321.5,781.85 1322.0,781.85 1322.5,782.40 1323.0,783.35 1323.5,784.49 1324.0,785.61 1324.5,786.58 1325.0,787.63 1325.5,788.70 1326.0,789.70 1326.5,790.56 1327.0,791.23 1327.5,791.82 1328.0,792.35 1328.5,792.82 1329.0,793.26 1329.5,793.67 1330.0,794.07 1330.5,794.48 1331.0,794.90 1331.5,795.36 1332.0,795.86 1332.5,796.43 1333.0,797.06 1333.5,797.81 1334.0,798.70 1334.5,799.69 1335.0,800.77 1335.5,801.88 1336.0,803.00 1336.5,804.17 1337.0,805.44 1337.5,806.75 1338.0,808.05 1338.5,809.30 1339.0,810.44 1339.5,811.41 1340.0,812.26 1340.5,813.04 1341.0,813.81 1341.5,814.62 1342.0,815.54 1342.5,816.61 1343.0,817.89 1343.5,819.45 1344.0,821.82 1344.5,825.71 1345.0,830.56 1345.5,835.78 1346.0,840.80 1346.5,845.73 1347.0,850.91 1347.5,856.01 1348.0,861.07 1348.5,866.22 1349.0,870.85 1349.5,874.37 1350.0,877.14 1350.5,879.53 1351.0,881.74 1351.5,884.02 1352.0,886.48 1352.5,888.86 1353.0,891.26 1353.5,893.81 1354.0,896.68 1354.5,900.44 1355.0,905.57 1355.5,911.19 1356.0,916.35 1356.5,920.13 1357.0,921.60 1357.5,920.32 1358.0,916.92 1358.5,912.06 1359.0,906.40 1359.5,900.58 1360.0,895.10 1360.5,888.89 1361.0,882.22 1361.5,875.73 1362.0,869.17 1362.5,862.72 1363.0,857.00 1363.5,852.12 1364.0,847.72 1364.5,843.75 1365.0,840.00 1365.5,836.45 1366.0,833.56 1366.5,831.59 1367.0,829.89 1367.5,828.53 1368.0,827.67 1368.5,827.35 1369.0,827.14 1369.5,826.98 1370.0,826.86 1370.5,826.76 1371.0,826.68 1371.5,826.58 1372.0,826.47 1372.5,826.33 1373.0,826.17 1373.5,826.00 1374.0,825.83 1374.5,825.64 1375.0,825.43 1375.5,825.18 1376.0,824.89 1376.5,824.54 1377.0,824.00 1377.5,823.29 1378.0,822.49 1378.5,821.65 1379.0,820.85 1379.5,820.10 1380.0,819.31 1380.5,818.52 1381.0,817.73 1381.5,816.95 1382.0,816.22 1382.5,815.53 1383.0,814.87 1383.5,814.23 1384.0,813.62 1384.5,813.01 1385.0,812.43 1385.5,811.87 1386.0,811.32 1386.5,810.78 1387.0,810.19 1387.5,809.59 1388.0,809.07 1388.5,808.71 1389.0,808.56 1389.5,808.47 1390.0,808.42" fill="none" stroke="#515151" stroke-width="6" stroke-linejoin="round" stroke-linecap="butt"/>
<polyline points="161.0,654.50 161.5,654.50 162.0,654.50 162.5,654.50 163.0,654.50 163.5,654.50 164.0,654.50 164.5,654.50 165.0,654.50 165.5,654.50 166.0,654.50 166.5,654.50 167.0,654.50 167.5,654.50 168.0,654.50 168.5,654.50 169.0,654.50 169.5,654.50 170.0,654.50 170.5,654.50 171.0,654.50 171.5,654.50 172.0,654.50 172.5,654.50 173.0,654.50 173.5,654.50 174.0,654.50 174.5,654.50 175.0,654.50 175.5,654.50 176.0,654.50 176.5,654.50 177.0,654.50 177.5,654.50 178.0,654.50 178.5,654.50 179.0,654.50 179.5,654.50 180.0,654.50 180.5,654.50 181.0,654.50 181.5,654.50 182.0,654.50 182.5,654.50 183.0,654.50 183.5,654.52 184.0,654.59 184.5,654.69 185.0,654.82 185.5,654.97 186.0,655.14 186.5,655.32 187.0,655.51 187.5,655.70 188.0,655.88 188.5,656.05 189.0,656.20 189.5,656.33 190.0,656.43 190.5,656.49 191.0,656.51 191.5,656.53 192.0,656.56 192.5,656.57 193.0,656.59 193.5,656.61 194.0,656.63 194.5,656.64 195.0,656.65 195.5,656.66 196.0,656.67 196.5,656.68 197.0,656.69 197.5,656.69 198.0,656.70 198.5,656.70 199.0,656.70 199.5,656.70 200.0,656.70 200.5,656.70 201.0,656.70 201.5,656.70 202.0,656.70 202.5,656.70 203.0,656.70 203.5,656.69 204.0,656.69 204.5,656.69 205.0,656.69 205.5,656.69 206.0,656.69 206.5,656.69 207.0,656.68 207.5,656.68 208.0,656.68 208.5,656.68 209.0,656.67 209.5,656.67 210.0,656.67 210.5,656.67 211.0,656.66 211.5,656.66 212.0,656.66 212.5,656.65 213.0,656.65 213.5,656.65 214.0,656.64 214.5,656.64 215.0,656.64 215.5,656.63 216.0,656.63 216.5,656.62 217.0,656.62 217.5,656.61 218.0,656.61 218.5,656.60 219.0,656.60 219.5,656.59 220.0,656.59 220.5,656.58 221.0,656.58 221.5,656.57 222.0,656.57 222.5,656.56 223.0,656.55 223.5,656.55 224.0,656.54 224.5,656.53 225.0,656.53 225.5,656.52 226.0,656.51 226.5,656.51 227.0,656.50 227.5,656.49 228.0,656.47 228.5,656.45 229.0,656.42 229.5,656.39 230.0,656.36 230.5,656.31 231.0,656.27 231.5,656.22 232.0,656.17 232.5,656.11 233.0,656.05 233.5,655.98 234.0,655.92 234.5,655.85 235.0,655.78 235.5,655.70 236.0,655.63 236.5,655.55 237.0,655.47 237.5,655.40 238.0,655.32 238.5,655.23 239.0,655.15 239.5,655.07 240.0,654.99 240.5,654.91 241.0,654.83 241.5,654.75 242.0,654.68 242.5,654.60 243.0,654.52 243.5,654.45 244.0,654.37 244.5,654.29 245.0,654.21 245.5,654.13 246.0,654.04 246.5,653.95 247.0,653.85 247.5,653.76 248.0,653.66 248.5,653.57 249.0,653.47 249.5,653.37 250.0,653.27 250.5,653.17 251.0,653.07 251.5,652.97 252.0,652.87 252.5,652.77 253.0,652.68 253.5,652.58 254.0,652.49 254.5,652.40 255.0,652.31 255.5,652.22 256.0,652.14 256.5,652.06 257.0,651.99 257.5,651.91 258.0,651.85 258.5,651.78 259.0,651.72 259.5,651.67 260.0,651.62 260.5,651.57 261.0,651.52 261.5,651.47 262.0,651.43 262.5,651.38 263.0,651.33 263.5,651.28 264.0,651.23 264.5,651.19 265.0,651.14 265.5,651.09 266.0,651.05 266.5,651.00 267.0,650.96 267.5,650.91 268.0,650.87 268.5,650.82 269.0,650.78 269.5,650.74 270.0,650.70 270.5,650.66 271.0,650.62 271.5,650.58 272.0,650.54 272.5,650.50 273.0,650.47 273.5,650.43 274.0,650.40 274.5,650.37 275.0,650.33 275.5,650.30 276.0,650.27 276.5,650.25 277.0,650.22 277.5,650.20 278.0,650.17 278.5,650.15 279.0,650.13 279.5,650.11 280.0,650.09 280.5,650.08 281.0,650.06 281.5,650.05 282.0,650.04 282.5,650.03 283.0,650.02 283.5,650.01 284.0,650.01 284.5,650.01 285.0,650.01 285.5,650.01 286.0,650.02 286.5,650.03 287.0,650.04 287.5,650.05 288.0,650.07 288.5,650.08 289.0,650.10 289.5,650.12 290.0,650.15 290.5,650.17 291.0,650.19 291.5,650.22 292.0,650.24 292.5,650.27 293.0,650.29 293.5,650.32 294.0,650.34 294.5,650.37 295.0,650.40 295.5,650.44 296.0,650.48 296.5,650.52 297.0,650.57 297.5,650.62 298.0,650.67 298.5,650.73 299.0,650.79 299.5,650.85 300.0,650.91 300.5,650.98 301.0,651.04 301.5,651.11 302.0,651.17 302.5,651.24 303.0,651.30 303.5,651.37 304.0,651.43 304.5,651.49 305.0,651.55 305.5,651.61 306.0,651.66 306.5,651.72 307.0,651.76 307.5,651.81 308.0,651.85 308.5,651.89 309.0,651.92 309.5,651.95 310.0,651.97 310.5,651.98 311.0,651.99 311.5,652.00 312.0,651.99 312.5,651.99 313.0,651.98 313.5,651.97 314.0,651.95 314.5,651.93 315.0,651.91 315.5,651.89 316.0,651.86 316.5,651.83 317.0,651.80 317.5,651.77 318.0,651.74 318.5,651.70 319.0,651.66 319.5,651.62 320.0,651.57 320.5,651.50 321.0,651.41 321.5,651.31 322.0,651.19 322.5,651.07 323.0,650.93 323.5,650.78 324.0,650.62 324.5,650.45 325.0,650.28 325.5,650.10 326.0,649.92 326.5,649.73 327.0,649.54 327.5,649.35 328.0,649.15 328.5,648.96 329.0,648.77 329.5,648.58 330.0,648.39 330.5,648.21 331.0,648.03 331.5,647.86 332.0,647.69 332.5,647.53 333.0,647.38 333.5,647.21 334.0,647.03 334.5,646.85 335.0,646.66 335.5,646.46 336.0,646.27 336.5,646.08 337.0,645.89 337.5,645.72 338.0,645.56 338.5,645.41 339.0,645.28 339.5,645.17 340.0,645.09 340.5,645.03 341.0,645.00 341.5,645.01 342.0,645.02 342.5,645.05 343.0,645.08 343.5,645.12 344.0,645.16 344.5,645.21 345.0,645.27 345.5,645.34 346.0,645.41 346.5,645.48 347.0,645.56 347.5,645.65 348.0,645.74 348.5,645.83 349.0,645.93 349.5,646.04 350.0,646.14 350.5,646.32 351.0,646.57 351.5,646.89 352.0,647.24 352.5,647.63 353.0,648.01 353.5,648.39 354.0,648.73 354.5,649.02 355.0,649.25 355.5,649.38 356.0,649.45 356.5,649.51 357.0,649.56 357.5,649.62 358.0,649.67 358.5,649.72 359.0,649.76 359.5,649.81 360.0,649.85 360.5,649.89 361.0,649.92 361.5,649.96 362.0,649.99 362.5,650.02 363.0,650.04 363.5,650.06 364.0,650.08 364.5,650.10 365.0,650.12 365.5,650.13 366.0,650.14 366.5,650.11 367.0,649.93 367.5,649.63 368.0,649.23 368.5,648.77 369.0,648.29 369.5,647.83 370.0,647.42 370.5,647.10 371.0,646.90 371.5,646.79 372.0,646.68 372.5,646.57 373.0,646.47 373.5,646.38 374.0,646.29 374.5,646.21 375.0,646.14 375.5,646.08 376.0,646.02 376.5,645.98 377.0,645.94 377.5,645.92 378.0,645.91 378.5,645.91 379.0,645.92 379.5,645.95 380.0,646.00 380.5,646.06 381.0,646.14 381.5,646.23 382.0,646.34 382.5,646.45 383.0,646.57 383.5,646.70 384.0,646.84 384.5,646.98 385.0,647.13 385.5,647.27 386.0,647.42 386.5,647.57 387.0,647.77 387.5,648.01 388.0,648.28 388.5,648.59 389.0,648.91 389.5,649.25 390.0,649.59 390.5,649.93 391.0,650.26 391.5,650.57 392.0,650.84 392.5,651.09 393.0,651.28 393.5,651.43 394.0,651.51 394.5,651.57 395.0,651.62 395.5,651.67 396.0,651.71 396.5,651.76 397.0,651.81 397.5,651.85 398.0,651.89 398.5,651.93 399.0,651.97 399.5,652.01 400.0,652.05 400.5,652.09 401.0,652.13 401.5,652.16 402.0,652.19 402.5,652.23 403.0,652.26 403.5,652.29 404.0,652.32 404.5,652.34 405.0,652.37 405.5,652.40 406.0,652.42 406.5,652.45 407.0,652.47 407.5,652.49 408.0,652.51 408.5,652.53 409.0,652.55 409.5,652.57 410.0,652.58 410.5,652.60 411.0,652.61 411.5,652.63 412.0,652.64 412.5,652.65 413.0,652.66 413.5,652.67 414.0,652.68 414.5,652.69 415.0,652.70 415.5,652.70 416.0,652.70 416.5,652.68 417.0,652.66 417.5,652.64 418.0,652.61 418.5,652.57 419.0,652.53 419.5,652.49 420.0,652.44 420.5,652.39 421.0,652.34 421.5,652.29 422.0,652.23 422.5,652.17 423.0,652.12 423.5,652.06 424.0,652.01 424.5,651.95 425.0,651.90 425.5,651.85 426.0,651.80 426.5,651.76 427.0,651.72 427.5,651.69 428.0,651.66 428.5,651.63 429.0,651.62 429.5,651.61 430.0,651.60 430.5,651.60 431.0,651.64 431.5,651.73 432.0,651.87 432.5,652.04 433.0,652.24 433.5,652.46 434.0,652.71 434.5,652.96 435.0,653.23 435.5,653.49 436.0,653.75 436.5,653.99 437.0,654.21 437.5,654.42 438.0,654.59 438.5,654.72 439.0,654.81 439.5,654.85 440.0,654.85 440.5,654.83 441.0,654.79 441.5,654.73 442.0,654.66 442.5,654.58 443.0,654.48 443.5,654.37 444.0,654.25 444.5,654.11 445.0,653.97 445.5,653.82 446.0,653.67 446.5,653.50 447.0,653.33 447.5,653.16 448.0,652.98 448.5,652.80 449.0,652.62 449.5,652.44 450.0,652.26 450.5,652.08 451.0,651.91 451.5,651.74 452.0,651.57 452.5,651.41 453.0,651.25 453.5,651.10 454.0,650.96 454.5,650.83 455.0,650.71 455.5,650.60 456.0,650.51 456.5,650.43 457.0,650.36 457.5,650.31 458.0,650.27 458.5,650.25 459.0,650.25 459.5,650.26 460.0,650.27 460.5,650.28 461.0,650.30 461.5,650.32 462.0,650.35 462.5,650.38 463.0,650.41 463.5,650.44 464.0,650.48 464.5,650.52 465.0,650.56 465.5,650.60 466.0,650.64 466.5,650.69 467.0,650.74 467.5,650.79 468.0,650.84 468.5,650.89 469.0,650.94 469.5,651.00 470.0,651.05 470.5,651.11 471.0,651.16 471.5,651.22 472.0,651.27 472.5,651.32 473.0,651.38 473.5,651.43 474.0,651.48 474.5,651.54 475.0,651.59 475.5,651.63 476.0,651.68 476.5,651.73 477.0,651.77 477.5,651.81 478.0,651.85 478.5,651.89 479.0,651.93 479.5,651.97 480.0,652.00 480.5,652.04 481.0,652.07 481.5,652.10 482.0,652.14 482.5,652.17 483.0,652.20 483.5,652.23 484.0,652.26 484.5,652.29 485.0,652.32 485.5,652.35 486.0,652.38 486.5,652.41 487.0,652.44 487.5,652.47 488.0,652.50 488.5,652.52 489.0,652.55 489.5,652.58 490.0,652.61 490.5,652.64 491.0,652.67 491.5,652.70 492.0,652.73 492.5,652.76 493.0,652.79 493.5,652.82 494.0,652.85 494.5,652.88 495.0,652.91 495.5,652.94 496.0,652.97 496.5,653.01 497.0,653.04 497.5,653.08 498.0,653.11 498.5,653.15 499.0,653.19 499.5,653.23 500.0,653.26 500.5,653.31 501.0,653.35 501.5,653.39 502.0,653.43 502.5,653.48 503.0,653.52 503.5,653.57 504.0,653.62 504.5,653.67 505.0,653.72 505.5,653.77 506.0,653.83 506.5,653.88 507.0,653.94 507.5,654.02 508.0,654.10 508.5,654.20 509.0,654.31 509.5,654.43 510.0,654.56 510.5,654.70 511.0,654.84 511.5,655.00 512.0,655.15 512.5,655.32 513.0,655.48 513.5,655.65 514.0,655.82 514.5,656.00 515.0,656.17 515.5,656.34 516.0,656.51 516.5,656.68 517.0,656.84 517.5,657.00 518.0,657.15 518.5,657.30 519.0,657.43 519.5,657.56 520.0,657.68 520.5,657.79 521.0,657.89 521.5,657.98 522.0,658.05 522.5,658.11 523.0,658.16 523.5,658.19 524.0,658.20 524.5,658.19 525.0,658.17 525.5,658.13 526.0,658.07 526.5,657.99 527.0,657.91 527.5,657.80 528.0,657.69 528.5,657.56 529.0,657.42 529.5,657.27 530.0,657.11 530.5,656.94 531.0,656.77 531.5,656.58 532.0,656.39 532.5,656.19 533.0,655.99 533.5,655.78 534.0,655.57 534.5,655.36 535.0,655.14 535.5,654.93 536.0,654.71 536.5,654.49 537.0,654.28 537.5,654.06 538.0,653.85 538.5,653.64 539.0,653.44 539.5,653.24 540.0,653.05 540.5,652.86 541.0,652.69 541.5,652.52 542.0,652.36 542.5,652.20 543.0,652.06 543.5,651.94 544.0,651.82 544.5,651.72 545.0,651.63 545.5,651.55 546.0,651.47 546.5,651.39 547.0,651.31 547.5,651.23 548.0,651.15 548.5,651.07 549.0,650.99 549.5,650.92 550.0,650.84 550.5,650.77 551.0,650.69 551.5,650.62 552.0,650.54 552.5,650.47 553.0,650.40 553.5,650.33 554.0,650.26 554.5,650.19 555.0,650.12 555.5,650.05 556.0,649.99 556.5,649.92 557.0,649.86 557.5,649.80 558.0,649.74 558.5,649.68 559.0,649.62 559.5,649.57 560.0,649.51 560.5,649.46 561.0,649.41 561.5,649.36 562.0,649.31 562.5,649.27 563.0,649.23 563.5,649.19 564.0,649.15 564.5,649.11 565.0,649.08 565.5,649.04 566.0,649.01 566.5,648.99 567.0,648.96 567.5,648.94 568.0,648.92 568.5,648.90 569.0,648.88 569.5,648.87 570.0,648.86 570.5,648.86 571.0,648.85 571.5,648.85 572.0,648.85 572.5,648.86 573.0,648.87 573.5,648.88 574.0,648.90 574.5,648.92 575.0,648.95 575.5,648.98 576.0,649.01 576.5,649.05 577.0,649.09 577.5,649.14 578.0,649.18 578.5,649.23 579.0,649.28 579.5,649.34 580.0,649.39 580.5,649.45 581.0,649.51 581.5,649.58 582.0,649.64 582.5,649.71 583.0,649.77 583.5,649.84 584.0,649.91 584.5,649.98 585.0,650.05 585.5,650.13 586.0,650.20 586.5,650.27 587.0,650.35 587.5,650.42 588.0,650.49 588.5,650.57 589.0,650.64 589.5,650.71 590.0,650.78 590.5,650.85 591.0,650.92 591.5,650.99 592.0,651.06 592.5,651.13 593.0,651.19 593.5,651.25 594.0,651.31 594.5,651.37 595.0,651.43 595.5,651.48 596.0,651.53 596.5,651.58 597.0,651.63 597.5,651.67 598.0,651.71 598.5,651.75 599.0,651.78 599.5,651.81 600.0,651.84 600.5,651.91 601.0,651.97 601.5,652.02 602.0,652.08 602.5,652.12 603.0,652.16 603.5,652.17 604.0,652.15 604.5,652.11 605.0,652.04 605.5,651.96 606.0,651.86 606.5,651.75 607.0,651.63 607.5,651.50 608.0,651.37 608.5,651.23 609.0,651.09 609.5,650.96 610.0,650.83 610.5,650.70 611.0,650.59 611.5,650.49 612.0,650.41 612.5,650.34 613.0,650.30 613.5,650.27 614.0,650.28 614.5,650.31 615.0,650.27 615.5,650.26 616.0,650.25 616.5,650.26 617.0,650.28 617.5,650.32 618.0,650.37 618.5,650.44 619.0,650.51 619.5,650.61 620.0,650.72 620.5,650.84 621.0,650.99 621.5,651.15 622.0,651.34 622.5,651.56 623.0,651.80 623.5,652.07 624.0,652.37 624.5,652.72 625.0,653.09 625.5,653.51 626.0,653.97 626.5,654.47 627.0,655.01 627.5,655.59 628.0,656.20 628.5,656.84 629.0,657.50 629.5,658.17 630.0,658.85 630.5,659.51 631.0,660.14 631.5,660.75 632.0,661.33 632.5,661.84 633.0,662.30 633.5,662.68 634.0,662.97 634.5,663.16 635.0,663.26 635.5,663.24 636.0,663.12 636.5,662.89 637.0,662.57 637.5,662.16 638.0,661.66 638.5,661.09 639.0,660.46 639.5,659.77 640.0,659.04 640.5,658.27 641.0,657.49 641.5,656.70 642.0,655.92 642.5,655.15 643.0,654.41 643.5,653.69 644.0,653.01 644.5,652.38 645.0,651.79 645.5,651.25 646.0,650.76 646.5,650.32 647.0,649.93 647.5,649.60 648.0,649.31 648.5,649.07 649.0,648.87 649.5,648.71 650.0,648.59 650.5,648.50 651.0,648.44 651.5,648.40 652.0,648.39 652.5,648.40 653.0,648.42 653.5,648.45 654.0,648.50 654.5,648.55 655.0,648.61 655.5,648.68 656.0,648.75 656.5,648.91 657.0,649.08 657.5,649.25 658.0,649.41 658.5,649.57 659.0,649.75 659.5,649.95 660.0,650.16 660.5,650.37 661.0,650.60 661.5,650.83 662.0,651.06 662.5,651.29 663.0,651.52 663.5,651.75 664.0,651.97 664.5,652.18 665.0,652.37 665.5,652.55 666.0,652.72 666.5,652.86 667.0,652.99 667.5,653.11 668.0,653.21 668.5,653.28 669.0,653.34 669.5,653.39 670.0,653.43 670.5,653.46 671.0,653.50 671.5,653.52 672.0,653.55 672.5,653.57 673.0,653.58 673.5,653.60 674.0,653.61 674.5,653.62 675.0,653.64 675.5,653.65 676.0,653.66 676.5,653.68 677.0,653.69 677.5,653.71 678.0,653.74 678.5,653.76 679.0,653.79 679.5,653.83 680.0,653.87 680.5,653.92 681.0,653.96 681.5,654.01 682.0,654.06 682.5,654.10 683.0,654.15 683.5,654.20 684.0,654.24 684.5,654.29 685.0,654.34 685.5,654.39 686.0,654.44 686.5,654.42 687.0,654.40 687.5,654.38 688.0,654.36 688.5,654.34 689.0,654.33 689.5,654.31 690.0,654.30 690.5,654.29 691.0,654.29 691.5,654.30 692.0,654.31 692.5,654.33 693.0,654.35 693.5,654.38 694.0,654.42 694.5,654.46 695.0,654.50 695.5,654.55 696.0,654.60 696.5,654.65 697.0,654.71 697.5,654.77 698.0,654.83 698.5,654.89 699.0,654.97 699.5,655.05 700.0,655.15 700.5,655.27 701.0,655.40 701.5,655.55 702.0,655.73 702.5,655.97 703.0,656.31 703.5,656.72 704.0,657.19 704.5,657.71 705.0,658.24 705.5,658.79 706.0,659.35 706.5,659.96 707.0,660.63 707.5,661.34 708.0,662.10 708.5,662.91 709.0,663.78 709.5,664.75 710.0,665.81 710.5,666.96 711.0,668.18 711.5,669.45 712.0,670.74 712.5,672.05 713.0,673.42 713.5,674.86 714.0,676.40 714.5,678.09 715.0,679.94 715.5,681.99 716.0,684.40 716.5,687.39 717.0,690.80 717.5,694.45 718.0,698.18 718.5,702.06 719.0,706.23 719.5,710.59 720.0,715.06 720.5,719.57 721.0,724.06 721.5,728.67 722.0,733.35 722.5,738.04 723.0,742.68 723.5,747.22 724.0,751.71 724.5,756.25 725.0,760.94 725.5,766.09 726.0,771.39 726.5,776.05 727.0,780.54 727.5,783.00 728.0,781.65 728.5,778.71 729.0,775.72 729.5,772.52 730.0,768.93 730.5,764.95 731.0,760.59 731.5,755.66 732.0,750.05 732.5,743.92 733.0,737.47 733.5,730.86 734.0,724.27 734.5,717.79 735.0,710.92 735.5,703.89 736.0,697.17 736.5,691.21 737.0,685.84 737.5,680.77 738.0,676.31 738.5,672.76 739.0,669.93 739.5,667.47 740.0,665.44 740.5,663.91 741.0,662.78 741.5,661.83 742.0,661.04 742.5,660.35 743.0,659.71 743.5,659.12 744.0,658.57 744.5,658.06 745.0,657.60 745.5,657.20 746.0,656.85 746.5,656.53 747.0,656.21 747.5,655.90 748.0,655.60 748.5,655.32 749.0,655.07 749.5,654.85 750.0,654.68 750.5,654.56 751.0,654.51 751.5,654.50 752.0,654.50 752.5,654.50 753.0,654.50 753.5,654.50 754.0,654.50 754.5,654.50 755.0,654.50 755.5,654.50 756.0,654.50 756.5,654.50 757.0,654.50 757.5,654.50 758.0,654.50 758.5,654.50 759.0,654.50 759.5,654.50 760.0,654.52 760.5,654.61 761.0,654.77 761.5,654.99 762.0,655.25 762.5,655.55 763.0,655.90 763.5,656.43 764.0,657.17 764.5,658.06 765.0,659.11 765.5,660.56 766.0,662.39 766.5,664.48 767.0,667.00 767.5,670.06 768.0,673.46 768.5,677.12 769.0,681.25 769.5,685.69 770.0,690.26 770.5,696.05 771.0,702.23 771.5,706.05 772.0,705.88 772.5,704.91 773.0,703.97 773.5,703.57 774.0,703.69 774.5,704.00 775.0,704.40 775.5,705.11 776.0,706.20 776.5,707.64 777.0,709.43 777.5,711.55 778.0,714.80 778.5,719.64 779.0,725.54 779.5,731.98 780.0,739.65 780.5,748.79 781.0,758.23 781.5,768.04 782.0,778.36 782.5,788.12 783.0,796.66 783.5,805.64 784.0,812.34 784.5,813.27 785.0,809.25 785.5,803.18 786.0,797.47 786.5,791.60 787.0,785.28 787.5,778.57 788.0,771.56 788.5,764.34 789.0,756.57 789.5,748.05 790.0,739.87 790.5,732.75 791.0,725.86 791.5,719.78 792.0,715.24 792.5,712.07 793.0,709.46 793.5,707.23 794.0,705.23 794.5,703.26 795.0,701.32 795.5,699.51 796.0,697.80 796.5,696.18 797.0,694.65 797.5,693.18 798.0,691.77 798.5,690.41 799.0,689.11 799.5,687.85 800.0,686.64 800.5,685.48 801.0,684.36 801.5,683.28 802.0,682.25 802.5,681.25 803.0,680.27 803.5,679.31 804.0,678.36 804.5,677.41 805.0,676.45 805.5,675.51 806.0,674.58 806.5,673.68 807.0,672.82 807.5,671.99 808.0,671.22 808.5,670.50 809.0,669.85 809.5,669.23 810.0,668.65 810.5,668.10 811.0,667.58 811.5,667.06 812.0,666.55 812.5,666.04 813.0,665.52 813.5,664.98 814.0,664.42 814.5,663.82 815.0,663.20 815.5,662.56 816.0,661.93 816.5,661.31 817.0,660.74 817.5,660.21 818.0,659.68 818.5,659.11 819.0,658.55 819.5,658.06 820.0,657.67 820.5,657.44 821.0,657.41 821.5,657.54 822.0,657.79 822.5,658.14 823.0,658.57 823.5,659.04 824.0,659.73 824.5,660.77 825.0,662.06 825.5,663.48 826.0,664.94 826.5,666.51 827.0,668.30 827.5,670.21 828.0,672.14 828.5,674.32 829.0,676.72 829.5,678.88 830.0,680.33 830.5,681.25 831.0,682.04 831.5,682.65 832.0,682.90 832.5,682.87 833.0,682.78 833.5,682.65 834.0,682.47 834.5,682.25 835.0,681.74 835.5,680.87 836.0,679.83 836.5,678.77 837.0,677.73 837.5,676.57 838.0,675.27 838.5,673.80 839.0,671.84 839.5,669.12 840.0,666.25 840.5,663.86 841.0,662.59 841.5,662.15 842.0,661.79 842.5,661.51 843.0,661.28 843.5,661.09 844.0,660.92 844.5,660.75 845.0,660.60 845.5,660.49 846.0,660.39 846.5,660.30 847.0,660.19 847.5,660.05 848.0,659.87 848.5,659.52 849.0,658.98 849.5,658.33 850.0,657.69 850.5,657.14 851.0,656.64 851.5,656.11 852.0,655.62 852.5,655.28 853.0,655.14 853.5,655.28 854.0,655.62 854.5,656.11 855.0,656.64 855.5,657.14 856.0,657.72 856.5,658.44 857.0,659.13 857.5,659.66 858.0,659.87 858.5,659.77 859.0,659.49 859.5,659.09 860.0,658.60 860.5,658.09 861.0,657.58 861.5,657.14 862.0,656.71 862.5,656.25 863.0,655.79 863.5,655.41 864.0,655.14 864.5,654.96 865.0,654.79 865.5,654.65 866.0,654.55 866.5,654.50 867.0,654.57 867.5,654.81 868.0,655.18 868.5,655.63 869.0,656.09 869.5,656.58 870.0,657.15 870.5,657.82 871.0,658.62 871.5,659.56 872.0,660.68 872.5,662.39 873.0,664.71 873.5,667.45 874.0,670.40 874.5,673.35 875.0,676.41 875.5,679.74 876.0,683.26 876.5,686.88 877.0,690.52 877.5,694.23 878.0,698.06 878.5,701.95 879.0,705.83 879.5,709.64 880.0,713.77 880.5,718.26 881.0,722.53 881.5,725.99 882.0,728.05 882.5,729.16 883.0,730.15 883.5,731.00 884.0,731.69 884.5,732.19 885.0,732.51 885.5,732.57 886.0,731.70 886.5,729.95 887.0,727.79 887.5,725.70 888.0,723.52 888.5,721.03 889.0,718.54 889.5,716.39 890.0,714.74 890.5,713.11 891.0,711.55 891.5,710.15 892.0,709.03 892.5,708.27 893.0,708.00 893.5,708.66 894.0,710.32 894.5,712.50 895.0,714.72 895.5,717.19 896.0,720.17 896.5,723.28 897.0,726.13 897.5,728.42 898.0,730.49 898.5,732.38 899.0,734.01 899.5,735.29 900.0,736.40 900.5,737.42 901.0,738.21 901.5,738.59 902.0,738.11 902.5,736.58 903.0,734.52 903.5,732.44 904.0,730.37 904.5,728.06 905.0,725.52 905.5,722.80 906.0,719.89 906.5,716.55 907.0,712.89 907.5,709.12 908.0,705.44 908.5,702.07 909.0,698.83 909.5,695.58 910.0,692.51 910.5,689.84 911.0,687.77 911.5,686.14 912.0,684.71 912.5,683.58 913.0,682.86 913.5,682.42 914.0,682.05 914.5,681.79 915.0,681.70 915.5,681.91 916.0,682.47 916.5,683.29 917.0,684.28 917.5,685.34 918.0,686.63 918.5,688.34 919.0,690.40 919.5,692.73 920.0,695.29 920.5,698.13 921.0,701.63 921.5,705.66 922.0,710.01 922.5,714.48 923.0,718.87 923.5,723.28 924.0,727.88 924.5,732.59 925.0,737.33 925.5,742.01 926.0,746.54 926.5,750.86 927.0,755.05 927.5,759.14 928.0,763.18 928.5,767.22 929.0,771.29 929.5,775.41 930.0,779.53 930.5,783.58 931.0,787.50 931.5,791.27 932.0,795.09 932.5,798.84 933.0,802.34 933.5,805.43 934.0,808.03 934.5,810.64 935.0,813.12 935.5,815.14 936.0,816.38 936.5,816.50 937.0,815.48 937.5,813.62 938.0,811.26 938.5,808.70 939.0,806.23 939.5,803.44 940.0,800.27 940.5,796.80 941.0,793.10 941.5,789.24 942.0,784.95 942.5,780.25 943.0,775.32 943.5,770.35 944.0,765.54 944.5,760.88 945.0,756.24 945.5,751.61 946.0,746.97 946.5,742.30 947.0,737.49 947.5,732.56 948.0,727.67 948.5,722.98 949.0,718.64 949.5,714.40 950.0,710.09 950.5,706.07 951.0,702.66 951.5,700.23 952.0,698.71 952.5,697.46 953.0,696.42 953.5,695.58 954.0,694.90 954.5,694.37 955.0,693.96 955.5,693.62 956.0,693.30 956.5,692.96 957.0,692.66 957.5,692.44 958.0,692.21 958.5,691.96 959.0,691.67 959.5,691.33 960.0,690.95 960.5,690.49 961.0,689.93 961.5,689.25 962.0,688.34 962.5,686.68 963.0,684.46 963.5,682.07 964.0,679.89 964.5,678.21 965.0,676.55 965.5,674.93 966.0,673.56 966.5,672.65 967.0,672.41 967.5,672.65 968.0,673.19 968.5,673.94 969.0,674.83 969.5,675.79 970.0,676.96 970.5,678.50 971.0,680.38 971.5,682.55 972.0,684.96 972.5,687.97 973.0,691.76 973.5,696.04 974.0,700.62 974.5,706.06 975.0,711.77 975.5,716.92 976.0,721.67 976.5,726.09 977.0,729.89 977.5,733.38 978.0,736.58 978.5,738.84 979.0,739.82 979.5,740.43 980.0,740.88 980.5,741.26 981.0,741.64 981.5,742.06 982.0,742.39 982.5,742.70 983.0,743.07 983.5,743.64 984.0,744.63 984.5,747.39 985.0,751.39 985.5,755.64 986.0,760.02 986.5,764.98 987.0,770.45 987.5,776.54 988.0,783.72 988.5,791.32 989.0,798.57 989.5,804.91 990.0,811.72 990.5,818.26 991.0,823.16 991.5,825.10 992.0,823.69 992.5,820.11 993.0,815.34 993.5,810.33 994.0,805.43 994.5,799.83 995.0,793.58 995.5,786.73 996.0,779.06 996.5,769.85 997.0,760.28 997.5,751.64 998.0,743.53 998.5,735.90 999.0,729.40 999.5,724.22 1000.0,719.72 1000.5,715.92 1001.0,712.79 1001.5,709.99 1002.0,707.66 1002.5,706.03 1003.0,704.92 1003.5,703.99 1004.0,703.27 1004.5,702.81 1005.0,702.56 1005.5,702.34 1006.0,702.19 1006.5,702.11 1007.0,702.20 1007.5,702.74 1008.0,703.61 1008.5,704.65 1009.0,705.72 1009.5,706.89 1010.0,708.30 1010.5,710.05 1011.0,712.25 1011.5,715.71 1012.0,720.67 1012.5,726.30 1013.0,732.14 1013.5,738.80 1014.0,745.84 1014.5,752.69 1015.0,759.48 1015.5,766.30 1016.0,772.96 1016.5,779.30 1017.0,786.23 1017.5,793.65 1018.0,799.80 1018.5,802.90 1019.0,802.64 1019.5,801.34 1020.0,799.42 1020.5,797.20 1021.0,794.84 1021.5,791.87 1022.0,788.22 1022.5,783.91 1023.0,778.72 1023.5,771.24 1024.0,762.54 1024.5,754.30 1025.0,746.44 1025.5,738.63 1026.0,732.08 1026.5,727.59 1027.0,723.95 1027.5,721.05 1028.0,718.92 1028.5,717.08 1029.0,715.57 1029.5,714.82 1030.0,714.85 1030.5,715.02 1031.0,715.29 1031.5,715.63 1032.0,716.00 1032.5,716.39 1033.0,716.89 1033.5,717.50 1034.0,718.21 1034.5,719.03 1035.0,720.03 1035.5,721.39 1036.0,722.97 1036.5,724.58 1037.0,726.71 1037.5,728.86 1038.0,730.06 1038.5,729.53 1039.0,727.64 1039.5,725.17 1040.0,722.81 1040.5,720.30 1041.0,717.45 1041.5,714.21 1042.0,709.95 1042.5,704.81 1043.0,699.92 1043.5,696.38 1044.0,693.73 1044.5,691.45 1045.0,689.55 1045.5,688.04 1046.0,686.82 1046.5,685.78 1047.0,684.87 1047.5,684.05 1048.0,683.28 1048.5,682.51 1049.0,681.74 1049.5,680.99 1050.0,680.28 1050.5,679.60 1051.0,678.97 1051.5,678.39 1052.0,677.87 1052.5,677.35 1053.0,676.84 1053.5,676.34 1054.0,675.87 1054.5,675.42 1055.0,675.01 1055.5,674.64 1056.0,674.32 1056.5,674.05 1057.0,673.84 1057.5,673.68 1058.0,673.52 1058.5,673.38 1059.0,673.26 1059.5,673.14 1060.0,673.04 1060.5,672.94 1061.0,672.87 1061.5,672.80 1062.0,672.74 1062.5,672.69 1063.0,672.64 1063.5,672.59 1064.0,672.55 1064.5,672.51 1065.0,672.47 1065.5,672.44 1066.0,672.42 1066.5,672.41 1067.0,672.40 1067.5,672.57 1068.0,673.18 1068.5,674.11 1069.0,675.22 1069.5,676.43 1070.0,678.08 1070.5,680.16 1071.0,682.56 1071.5,685.18 1072.0,688.45 1072.5,692.28 1073.0,696.24 1073.5,699.91 1074.0,703.75 1074.5,707.88 1075.0,711.31 1075.5,713.04 1076.0,712.29 1076.5,709.47 1077.0,705.50 1077.5,701.26 1078.0,697.49 1078.5,693.36 1079.0,689.06 1079.5,685.13 1080.0,682.09 1080.5,679.65 1081.0,677.53 1081.5,675.69 1082.0,674.13 1082.5,672.79 1083.0,671.59 1083.5,670.55 1084.0,669.67 1084.5,668.91 1085.0,668.23 1085.5,667.61 1086.0,667.05 1086.5,666.52 1087.0,666.03 1087.5,665.57 1088.0,665.09 1088.5,664.58 1089.0,664.08 1089.5,663.64 1090.0,663.28 1090.5,663.06 1091.0,663.00 1091.5,663.00 1092.0,663.00 1092.5,663.00 1093.0,663.00 1093.5,663.00 1094.0,663.00 1094.5,663.00 1095.0,663.00 1095.5,663.00 1096.0,663.00 1096.5,663.00 1097.0,663.00 1097.5,663.00 1098.0,663.02 1098.5,663.13 1099.0,663.31 1099.5,663.56 1100.0,663.84 1100.5,664.15 1101.0,664.47 1101.5,664.78 1102.0,665.05 1102.5,665.27 1103.0,665.43 1103.5,665.50 1104.0,665.49 1104.5,665.45 1105.0,665.39 1105.5,665.31 1106.0,665.21 1106.5,665.10 1107.0,664.98 1107.5,664.86 1108.0,664.74 1108.5,664.61 1109.0,664.50 1109.5,664.39 1110.0,664.29 1110.5,664.18 1111.0,664.07 1111.5,663.96 1112.0,663.84 1112.5,663.71 1113.0,663.57 1113.5,663.41 1114.0,663.24 1114.5,663.04 1115.0,662.83 1115.5,662.53 1116.0,662.17 1116.5,661.76 1117.0,661.31 1117.5,660.85 1118.0,660.38 1118.5,659.92 1119.0,659.49 1119.5,659.10 1120.0,658.72 1120.5,658.31 1121.0,657.87 1121.5,657.44 1122.0,657.02 1122.5,656.62 1123.0,656.28 1123.5,655.99 1124.0,655.78 1124.5,655.66 1125.0,655.64 1125.5,655.64 1126.0,655.64 1126.5,655.64 1127.0,655.64 1127.5,655.64 1128.0,655.64 1128.5,655.64 1129.0,655.64 1129.5,655.64 1130.0,655.64 1130.5,655.64 1131.0,655.64 1131.5,655.64 1132.0,655.64 1132.5,655.64 1133.0,655.64 1133.5,655.63 1134.0,655.56 1134.5,655.42 1135.0,655.22 1135.5,654.99 1136.0,654.72 1136.5,654.45 1137.0,654.17 1137.5,653.91 1138.0,653.67 1138.5,653.47 1139.0,653.29 1139.5,653.10 1140.0,652.90 1140.5,652.71 1141.0,652.52 1141.5,652.35 1142.0,652.21 1142.5,652.10 1143.0,652.03 1143.5,652.00 1144.0,652.02 1144.5,652.07 1145.0,652.16 1145.5,652.27 1146.0,652.41 1146.5,652.56 1147.0,652.72 1147.5,652.90 1148.0,653.08 1148.5,653.27 1149.0,653.49 1149.5,653.75 1150.0,654.07 1150.5,654.47 1151.0,654.94 1151.5,655.66 1152.0,656.85 1152.5,658.45 1153.0,660.36 1153.5,662.49 1154.0,665.29 1154.5,668.95 1155.0,673.03 1155.5,677.11 1156.0,681.31 1156.5,685.74 1157.0,690.29 1157.5,695.05 1158.0,699.98 1158.5,704.84 1159.0,709.52 1159.5,714.17 1160.0,718.09 1160.5,721.63 1161.0,724.42 1161.5,724.85 1162.0,723.34 1162.5,720.78 1163.0,717.87 1163.5,715.26 1164.0,712.21 1164.5,708.89 1165.0,706.22 1165.5,705.13 1166.0,705.35 1166.5,705.91 1167.0,706.69 1167.5,707.54 1168.0,708.31 1168.5,709.16 1169.0,710.18 1169.5,711.17 1170.0,711.96 1170.5,712.34 1171.0,711.98 1171.5,710.67 1172.0,708.81 1172.5,706.83 1173.0,705.13 1173.5,703.53 1174.0,701.76 1174.5,700.07 1175.0,698.72 1175.5,697.97 1176.0,697.97 1176.5,698.33 1177.0,698.95 1177.5,699.75 1178.0,700.66 1178.5,701.62 1179.0,702.91 1179.5,704.52 1180.0,706.40 1180.5,708.47 1181.0,710.71 1181.5,713.52 1182.0,716.72 1182.5,720.00 1183.0,723.03 1183.5,726.24 1184.0,729.66 1184.5,732.39 1185.0,733.50 1185.5,732.78 1186.0,731.01 1186.5,728.79 1187.0,726.70 1187.5,724.93 1188.0,723.18 1188.5,721.28 1189.0,719.11 1189.5,716.44 1190.0,712.74 1190.5,708.56 1191.0,704.61 1191.5,700.85 1192.0,697.13 1192.5,694.06 1193.0,691.97 1193.5,690.25 1194.0,688.76 1194.5,687.45 1195.0,686.29 1195.5,685.22 1196.0,684.21 1196.5,683.23 1197.0,682.28 1197.5,681.38 1198.0,680.56 1198.5,679.82 1199.0,679.19 1199.5,678.69 1200.0,678.26 1200.5,677.83 1201.0,677.43 1201.5,677.05 1202.0,676.70 1202.5,676.40 1203.0,676.15 1203.5,675.96 1204.0,675.84 1204.5,675.80 1205.0,675.89 1205.5,676.14 1206.0,676.47 1206.5,676.85 1207.0,677.20 1207.5,677.60 1208.0,678.11 1208.5,678.60 1209.0,679.00 1209.5,679.19 1210.0,678.43 1210.5,676.00 1211.0,673.41 1211.5,671.45 1212.0,669.78 1212.5,668.22 1213.0,666.80 1213.5,665.45 1214.0,664.11 1214.5,662.82 1215.0,661.62 1215.5,660.56 1216.0,659.68 1216.5,659.03 1217.0,658.46 1217.5,657.92 1218.0,657.40 1218.5,656.93 1219.0,656.50 1219.5,656.13 1220.0,655.82 1220.5,655.59 1221.0,655.45 1221.5,655.40 1222.0,655.47 1222.5,655.64 1223.0,655.87 1223.5,656.17 1224.0,656.51 1224.5,656.87 1225.0,657.25 1225.5,657.62 1226.0,657.98 1226.5,658.30 1227.0,658.57 1227.5,658.78 1228.0,658.91 1228.5,658.94 1229.0,658.89 1229.5,658.75 1230.0,658.54 1230.5,658.28 1231.0,657.98 1231.5,657.67 1232.0,657.34 1232.5,657.02 1233.0,656.71 1233.5,656.45 1234.0,656.23 1234.5,656.07 1235.0,656.00 1235.5,656.03 1236.0,656.36 1236.5,656.92 1237.0,657.59 1237.5,658.46 1238.0,659.66 1238.5,661.05 1239.0,662.64 1239.5,664.57 1240.0,666.69 1240.5,668.85 1241.0,670.96 1241.5,673.41 1242.0,675.76 1242.5,677.34 1243.0,678.06 1243.5,678.66 1244.0,679.17 1244.5,679.58 1245.0,679.88 1245.5,680.06 1246.0,680.10 1246.5,679.96 1247.0,679.67 1247.5,679.29 1248.0,678.86 1248.5,678.45 1249.0,678.10 1249.5,677.86 1250.0,677.82 1250.5,678.49 1251.0,679.99 1251.5,682.08 1252.0,684.65 1252.5,687.89 1253.0,694.00 1253.5,701.29 1254.0,710.58 1254.5,719.17 1255.0,721.52 1255.5,722.73 1256.0,723.62 1256.5,724.20 1257.0,724.48 1257.5,724.08 1258.0,721.93 1258.5,718.74 1259.0,715.44 1259.5,712.75 1260.0,709.77 1260.5,706.98 1261.0,705.28 1261.5,705.15 1262.0,705.45 1262.5,705.97 1263.0,706.67 1263.5,707.47 1264.0,708.35 1264.5,709.25 1265.0,710.46 1265.5,711.98 1266.0,713.56 1266.5,715.00 1267.0,716.45 1267.5,717.99 1268.0,719.21 1268.5,719.70 1269.0,719.60 1269.5,719.35 1270.0,718.99 1270.5,718.57 1271.0,718.15 1271.5,717.71 1272.0,717.22 1272.5,716.62 1273.0,715.86 1273.5,714.82 1274.0,712.93 1274.5,710.51 1275.0,708.09 1275.5,705.82 1276.0,703.49 1276.5,701.01 1277.0,698.33 1277.5,695.45 1278.0,692.47 1278.5,689.47 1279.0,686.15 1279.5,682.28 1280.0,678.88 1280.5,677.00 1281.0,676.75 1281.5,676.59 1282.0,676.45 1282.5,676.35 1283.0,676.26 1283.5,676.21 1284.0,676.17 1284.5,676.16 1285.0,676.19 1285.5,676.29 1286.0,676.44 1286.5,676.61 1287.0,676.76 1287.5,676.87 1288.0,676.89 1288.5,676.68 1289.0,676.23 1289.5,675.66 1290.0,675.05 1290.5,674.51 1291.0,674.04 1291.5,673.60 1292.0,673.15 1292.5,672.67 1293.0,672.14 1293.5,671.53 1294.0,670.80 1294.5,669.91 1295.0,668.91 1295.5,667.85 1296.0,666.75 1296.5,665.67 1297.0,664.64 1297.5,663.70 1298.0,662.81 1298.5,661.83 1299.0,660.82 1299.5,659.85 1300.0,658.97 1300.5,658.24 1301.0,657.74 1301.5,657.51 1302.0,657.65 1302.5,658.21 1303.0,659.10 1303.5,660.22 1304.0,661.49 1304.5,662.81 1305.0,664.09 1305.5,665.25 1306.0,666.27 1306.5,667.28 1307.0,668.30 1307.5,669.33 1308.0,670.38 1308.5,671.44 1309.0,672.69 1309.5,674.15 1310.0,675.60 1310.5,676.81 1311.0,677.56 1311.5,677.68 1312.0,677.41 1312.5,676.90 1313.0,676.17 1313.5,675.29 1314.0,674.29 1314.5,673.21 1315.0,672.11 1315.5,670.97 1316.0,669.41 1316.5,667.50 1317.0,665.44 1317.5,663.45 1318.0,661.71 1318.5,660.44 1319.0,659.59 1319.5,658.80 1320.0,658.07 1320.5,657.46 1321.0,657.01 1321.5,656.75 1322.0,656.75 1322.5,657.24 1323.0,658.11 1323.5,659.15 1324.0,660.18 1324.5,661.07 1325.0,662.02 1325.5,663.00 1326.0,663.92 1326.5,664.70 1327.0,665.31 1327.5,665.85 1328.0,666.33 1328.5,666.76 1329.0,667.16 1329.5,667.54 1330.0,667.91 1330.5,668.28 1331.0,668.66 1331.5,669.08 1332.0,669.54 1332.5,670.06 1333.0,670.64 1333.5,671.32 1334.0,672.13 1334.5,673.04 1335.0,674.02 1335.5,675.04 1336.0,676.06 1336.5,677.13 1337.0,678.29 1337.5,679.48 1338.0,680.67 1338.5,681.81 1339.0,682.85 1339.5,683.74 1340.0,684.52 1340.5,685.23 1341.0,685.93 1341.5,686.67 1342.0,687.51 1342.5,688.49 1343.0,689.66 1343.5,691.08 1344.0,693.34 1344.5,697.07 1345.0,701.73 1345.5,706.75 1346.0,711.57 1346.5,716.32 1347.0,721.28 1347.5,726.19 1348.0,731.05 1348.5,736.00 1349.0,740.45 1349.5,743.83 1350.0,746.49 1350.5,748.78 1351.0,750.91 1351.5,753.10 1352.0,755.46 1352.5,757.75 1353.0,760.05 1353.5,762.51 1354.0,765.26 1354.5,768.87 1355.0,773.80 1355.5,779.20 1356.0,784.16 1356.5,787.79 1357.0,789.20 1357.5,787.89 1358.0,784.40 1358.5,779.42 1359.0,773.61 1359.5,767.65 1360.0,762.03 1360.5,755.66 1361.0,748.82 1361.5,742.17 1362.0,735.44 1362.5,728.83 1363.0,722.96 1363.5,717.96 1364.0,713.45 1364.5,709.38 1365.0,705.54 1365.5,701.89 1366.0,698.93 1366.5,696.91 1367.0,695.17 1367.5,693.77 1368.0,692.89 1368.5,692.56 1369.0,692.35 1369.5,692.19 1370.0,692.06 1370.5,691.97 1371.0,691.90 1371.5,691.83 1372.0,691.75 1372.5,691.64 1373.0,691.51 1373.5,691.38 1374.0,691.25 1374.5,691.10 1375.0,690.93 1375.5,690.74 1376.0,690.52 1376.5,690.25 1377.0,689.82 1377.5,689.27 1378.0,688.65 1378.5,688.00 1379.0,687.38 1379.5,686.79 1380.0,686.18 1380.5,685.56 1381.0,684.95 1381.5,684.35 1382.0,683.77 1382.5,683.24 1383.0,682.73 1383.5,682.23 1384.0,681.75 1384.5,681.29 1385.0,680.83 1385.5,680.40 1386.0,679.97 1386.5,679.55 1387.0,679.09 1387.5,678.63 1388.0,678.22 1388.5,677.94 1389.0,677.82 1389.5,677.76 1390.0,677.71" fill="none" stroke="#F14040" stroke-width="6" stroke-linejoin="round" stroke-linecap="butt"/>
<polyline points="161.0,538.70 161.5,538.70 162.0,538.70 162.5,538.70 163.0,538.70 163.5,538.70 164.0,538.70 164.5,538.70 165.0,538.70 165.5,538.70 166.0,538.70 166.5,538.70 167.0,538.70 167.5,538.70 168.0,538.70 168.5,538.70 169.0,538.70 169.5,538.70 170.0,538.70 170.5,538.70 171.0,538.70 171.5,538.70 172.0,538.70 172.5,538.70 173.0,538.70 173.5,538.70 174.0,538.70 174.5,538.70 175.0,538.70 175.5,538.70 176.0,538.70 176.5,538.70 177.0,538.70 177.5,538.70 178.0,538.70 178.5,538.70 179.0,538.70 179.5,538.70 180.0,538.70 180.5,538.70 181.0,538.70 181.5,538.70 182.0,538.70 182.5,538.70 183.0,538.70 183.5,538.72 184.0,538.79 184.5,538.89 185.0,539.02 185.5,539.17 186.0,539.34 186.5,539.52 187.0,539.71 187.5,539.90 188.0,540.08 188.5,540.25 189.0,540.40 189.5,540.53 190.0,540.63 190.5,540.69 191.0,540.71 191.5,540.73 192.0,540.76 192.5,540.77 193.0,540.79 193.5,540.81 194.0,540.83 194.5,540.84 195.0,540.85 195.5,540.86 196.0,540.87 196.5,540.88 197.0,540.89 197.5,540.89 198.0,540.90 198.5,540.90 199.0,540.90 199.5,540.90 200.0,540.90 200.5,540.90 201.0,540.90 201.5,540.90 202.0,540.90 202.5,540.90 203.0,540.90 203.5,540.89 204.0,540.89 204.5,540.89 205.0,540.89 205.5,540.89 206.0,540.89 206.5,540.89 207.0,540.88 207.5,540.88 208.0,540.88 208.5,540.88 209.0,540.87 209.5,540.87 210.0,540.87 210.5,540.87 211.0,540.86 211.5,540.86 212.0,540.86 212.5,540.85 213.0,540.85 213.5,540.85 214.0,540.84 214.5,540.84 215.0,540.84 215.5,540.83 216.0,540.83 216.5,540.82 217.0,540.82 217.5,540.81 218.0,540.81 218.5,540.80 219.0,540.80 219.5,540.79 220.0,540.79 220.5,540.78 221.0,540.78 221.5,540.77 222.0,540.77 222.5,540.76 223.0,540.75 223.5,540.75 224.0,540.74 224.5,540.73 225.0,540.73 225.5,540.72 226.0,540.71 226.5,540.71 227.0,540.70 227.5,540.69 228.0,540.67 228.5,540.65 229.0,540.62 229.5,540.59 230.0,540.56 230.5,540.51 231.0,540.47 231.5,540.42 232.0,540.37 232.5,540.31 233.0,540.25 233.5,540.18 234.0,540.12 234.5,540.05 235.0,539.98 235.5,539.90 236.0,539.83 236.5,539.75 237.0,539.67 237.5,539.60 238.0,539.52 238.5,539.43 239.0,539.35 239.5,539.27 240.0,539.19 240.5,539.11 241.0,539.03 241.5,538.95 242.0,538.88 242.5,538.80 243.0,538.72 243.5,538.64 244.0,538.56 244.5,538.47 245.0,538.37 245.5,538.28 246.0,538.18 246.5,538.08 247.0,537.97 247.5,537.87 248.0,537.76 248.5,537.65 249.0,537.54 249.5,537.42 250.0,537.31 250.5,537.20 251.0,537.09 251.5,536.98 252.0,536.86 252.5,536.75 253.0,536.65 253.5,536.54 254.0,536.43 254.5,536.33 255.0,536.23 255.5,536.14 256.0,536.04 256.5,535.95 257.0,535.87 257.5,535.79 258.0,535.71 258.5,535.64 259.0,535.57 259.5,535.51 260.0,535.46 260.5,535.40 261.0,535.35 261.5,535.29 262.0,535.24 262.5,535.18 263.0,535.13 263.5,535.07 264.0,535.02 264.5,534.97 265.0,534.91 265.5,534.86 266.0,534.81 266.5,534.76 267.0,534.71 267.5,534.66 268.0,534.61 268.5,534.56 269.0,534.51 269.5,534.46 270.0,534.42 270.5,534.37 271.0,534.33 271.5,534.28 272.0,534.24 272.5,534.20 273.0,534.16 273.5,534.12 274.0,534.08 274.5,534.04 275.0,534.01 275.5,533.97 276.0,533.94 276.5,533.91 277.0,533.88 277.5,533.85 278.0,533.82 278.5,533.80 279.0,533.78 279.5,533.75 280.0,533.73 280.5,533.72 281.0,533.70 281.5,533.69 282.0,533.67 282.5,533.66 283.0,533.65 283.5,533.65 284.0,533.64 284.5,533.64 285.0,533.64 285.5,533.65 286.0,533.65 286.5,533.66 287.0,533.68 287.5,533.69 288.0,533.71 288.5,533.73 289.0,533.75 289.5,533.77 290.0,533.80 290.5,533.82 291.0,533.85 291.5,533.88 292.0,533.90 292.5,533.93 293.0,533.96 293.5,533.99 294.0,534.02 294.5,534.05 295.0,534.08 295.5,534.12 296.0,534.17 296.5,534.22 297.0,534.27 297.5,534.33 298.0,534.39 298.5,534.45 299.0,534.52 299.5,534.59 300.0,534.66 300.5,534.73 301.0,534.81 301.5,534.88 302.0,534.95 302.5,535.03 303.0,535.10 303.5,535.17 304.0,535.24 304.5,535.31 305.0,535.38 305.5,535.44 306.0,535.51 306.5,535.56 307.0,535.62 307.5,535.67 308.0,535.71 308.5,535.76 309.0,535.79 309.5,535.82 310.0,535.85 310.5,535.86 311.0,535.88 311.5,535.88 312.0,535.88 312.5,535.87 313.0,535.86 313.5,535.85 314.0,535.83 314.5,535.81 315.0,535.78 315.5,535.76 316.0,535.73 316.5,535.69 317.0,535.66 317.5,535.62 318.0,535.59 318.5,535.55 319.0,535.51 319.5,535.46 320.0,535.40 320.5,535.32 321.0,535.22 321.5,535.10 322.0,534.97 322.5,534.83 323.0,534.68 323.5,534.51 324.0,534.33 324.5,534.14 325.0,533.95 325.5,533.75 326.0,533.54 326.5,533.33 327.0,533.11 327.5,532.90 328.0,532.68 328.5,532.46 329.0,532.24 329.5,532.03 330.0,531.82 330.5,531.61 331.0,531.41 331.5,531.22 332.0,531.03 332.5,530.85 333.0,530.68 333.5,530.49 334.0,530.29 334.5,530.08 335.0,529.86 335.5,529.65 336.0,529.43 336.5,529.21 337.0,529.01 337.5,528.81 338.0,528.63 338.5,528.46 339.0,528.32 339.5,528.20 340.0,528.10 340.5,528.04 341.0,528.00 341.5,528.00 342.0,528.02 342.5,528.04 343.0,528.06 343.5,528.10 344.0,528.14 344.5,528.19 345.0,528.24 345.5,528.30 346.0,528.37 346.5,528.44 347.0,528.52 347.5,528.60 348.0,528.69 348.5,528.78 349.0,528.87 349.5,528.97 350.0,529.08 350.5,529.25 351.0,529.50 351.5,529.81 352.0,530.16 352.5,530.54 353.0,530.93 353.5,531.30 354.0,531.64 354.5,531.93 355.0,532.15 355.5,532.28 356.0,532.34 356.5,532.39 357.0,532.45 357.5,532.50 358.0,532.54 358.5,532.59 359.0,532.63 359.5,532.67 360.0,532.71 360.5,532.75 361.0,532.78 361.5,532.81 362.0,532.83 362.5,532.86 363.0,532.88 363.5,532.90 364.0,532.92 364.5,532.93 365.0,532.94 365.5,532.95 366.0,532.95 366.5,532.92 367.0,532.74 367.5,532.43 368.0,532.03 368.5,531.57 369.0,531.09 369.5,530.62 370.0,530.21 370.5,529.88 371.0,529.69 371.5,529.57 372.0,529.45 372.5,529.34 373.0,529.24 373.5,529.14 374.0,529.05 374.5,528.97 375.0,528.89 375.5,528.82 376.0,528.77 376.5,528.72 377.0,528.68 377.5,528.65 378.0,528.64 378.5,528.63 379.0,528.64 379.5,528.67 380.0,528.71 380.5,528.77 381.0,528.85 381.5,528.94 382.0,529.04 382.5,529.15 383.0,529.27 383.5,529.39 384.0,529.53 384.5,529.66 385.0,529.81 385.5,529.95 386.0,530.09 386.5,530.24 387.0,530.43 387.5,530.67 388.0,530.94 388.5,531.24 389.0,531.56 389.5,531.90 390.0,532.24 390.5,532.57 391.0,532.89 391.5,533.20 392.0,533.47 392.5,533.71 393.0,533.90 393.5,534.05 394.0,534.13 394.5,534.18 395.0,534.22 395.5,534.27 396.0,534.31 396.5,534.35 397.0,534.40 397.5,534.44 398.0,534.48 398.5,534.51 399.0,534.55 399.5,534.59 400.0,534.62 400.5,534.65 401.0,534.69 401.5,534.72 402.0,534.75 402.5,534.78 403.0,534.80 403.5,534.83 404.0,534.86 404.5,534.88 405.0,534.90 405.5,534.93 406.0,534.95 406.5,534.97 407.0,534.99 407.5,535.00 408.0,535.02 408.5,535.04 409.0,535.05 409.5,535.07 410.0,535.08 410.5,535.09 411.0,535.10 411.5,535.11 412.0,535.12 412.5,535.13 413.0,535.14 413.5,535.14 414.0,535.15 414.5,535.15 415.0,535.16 415.5,535.16 416.0,535.15 416.5,535.13 417.0,535.11 417.5,535.08 418.0,535.05 418.5,535.01 419.0,534.96 419.5,534.92 420.0,534.87 420.5,534.81 421.0,534.76 421.5,534.70 422.0,534.64 422.5,534.58 423.0,534.52 423.5,534.46 424.0,534.40 424.5,534.34 425.0,534.29 425.5,534.23 426.0,534.18 426.5,534.14 427.0,534.09 427.5,534.06 428.0,534.02 428.5,534.00 429.0,533.97 429.5,533.96 430.0,533.95 430.5,533.95 431.0,534.00 431.5,534.09 432.0,534.22 432.5,534.39 433.0,534.59 433.5,534.82 434.0,535.06 434.5,535.32 435.0,535.58 435.5,535.84 436.0,536.10 436.5,536.34 437.0,536.57 437.5,536.77 438.0,536.94 438.5,537.08 439.0,537.17 439.5,537.21 440.0,537.21 440.5,537.18 441.0,537.15 441.5,537.09 442.0,537.02 442.5,536.94 443.0,536.84 443.5,536.73 444.0,536.61 444.5,536.48 445.0,536.34 445.5,536.19 446.0,536.03 446.5,535.87 447.0,535.70 447.5,535.53 448.0,535.35 448.5,535.17 449.0,534.99 449.5,534.81 450.0,534.63 450.5,534.45 451.0,534.28 451.5,534.10 452.0,533.94 452.5,533.77 453.0,533.62 453.5,533.47 454.0,533.33 454.5,533.20 455.0,533.08 455.5,532.98 456.0,532.88 456.5,532.80 457.0,532.73 457.5,532.68 458.0,532.65 458.5,532.63 459.0,532.63 459.5,532.64 460.0,532.65 460.5,532.66 461.0,532.68 461.5,532.70 462.0,532.73 462.5,532.75 463.0,532.79 463.5,532.82 464.0,532.86 464.5,532.90 465.0,532.94 465.5,532.98 466.0,533.03 466.5,533.07 467.0,533.12 467.5,533.17 468.0,533.22 468.5,533.27 469.0,533.33 469.5,533.38 470.0,533.44 470.5,533.49 471.0,533.55 471.5,533.60 472.0,533.66 472.5,533.71 473.0,533.77 473.5,533.82 474.0,533.87 474.5,533.92 475.0,533.98 475.5,534.02 476.0,534.07 476.5,534.12 477.0,534.16 477.5,534.21 478.0,534.25 478.5,534.28 479.0,534.32 479.5,534.36 480.0,534.40 480.5,534.43 481.0,534.47 481.5,534.50 482.0,534.53 482.5,534.57 483.0,534.60 483.5,534.63 484.0,534.66 484.5,534.69 485.0,534.72 485.5,534.75 486.0,534.78 486.5,534.81 487.0,534.84 487.5,534.87 488.0,534.90 488.5,534.93 489.0,534.96 489.5,534.98 490.0,535.01 490.5,535.04 491.0,535.07 491.5,535.10 492.0,535.13 492.5,535.16 493.0,535.19 493.5,535.22 494.0,535.25 494.5,535.28 495.0,535.32 495.5,535.35 496.0,535.38 496.5,535.42 497.0,535.45 497.5,535.49 498.0,535.52 498.5,535.56 499.0,535.60 499.5,535.64 500.0,535.68 500.5,535.72 501.0,535.76 501.5,535.80 502.0,535.85 502.5,535.89 503.0,535.94 503.5,535.99 504.0,536.03 504.5,536.08 505.0,536.14 505.5,536.19 506.0,536.24 506.5,536.30 507.0,536.36 507.5,536.43 508.0,536.52 508.5,536.62 509.0,536.73 509.5,536.85 510.0,536.98 510.5,537.12 511.0,537.26 511.5,537.42 512.0,537.58 512.5,537.74 513.0,537.91 513.5,538.08 514.0,538.25 514.5,538.42 515.0,538.59 515.5,538.76 516.0,538.93 516.5,539.10 517.0,539.26 517.5,539.42 518.0,539.58 518.5,539.72 519.0,539.86 519.5,539.99 520.0,540.11 520.5,540.22 521.0,540.32 521.5,540.41 522.0,540.49 522.5,540.54 523.0,540.59 523.5,540.62 524.0,540.63 524.5,540.62 525.0,540.60 525.5,540.56 526.0,540.50 526.5,540.43 527.0,540.34 527.5,540.24 528.0,540.13 528.5,540.00 529.0,539.86 529.5,539.71 530.0,539.55 530.5,539.38 531.0,539.21 531.5,539.02 532.0,538.83 532.5,538.63 533.0,538.43 533.5,538.22 534.0,538.01 534.5,537.80 535.0,537.59 535.5,537.37 536.0,537.15 536.5,536.94 537.0,536.72 537.5,536.51 538.0,536.30 538.5,536.09 539.0,535.89 539.5,535.69 540.0,535.50 540.5,535.31 541.0,535.13 541.5,534.96 542.0,534.80 542.5,534.65 543.0,534.51 543.5,534.39 544.0,534.27 544.5,534.17 545.0,534.08 545.5,534.00 546.0,533.92 546.5,533.84 547.0,533.76 547.5,533.68 548.0,533.60 548.5,533.53 549.0,533.45 549.5,533.37 550.0,533.30 550.5,533.22 551.0,533.15 551.5,533.07 552.0,533.00 552.5,532.93 553.0,532.86 553.5,532.78 554.0,532.72 554.5,532.65 555.0,532.58 555.5,532.51 556.0,532.45 556.5,532.38 557.0,532.32 557.5,532.26 558.0,532.20 558.5,532.14 559.0,532.09 559.5,532.03 560.0,531.98 560.5,531.93 561.0,531.88 561.5,531.83 562.0,531.78 562.5,531.74 563.0,531.69 563.5,531.65 564.0,531.61 564.5,531.58 565.0,531.54 565.5,531.51 566.0,531.48 566.5,531.46 567.0,531.43 567.5,531.41 568.0,531.39 568.5,531.37 569.0,531.36 569.5,531.34 570.0,531.34 570.5,531.33 571.0,531.33 571.5,531.32 572.0,531.33 572.5,531.33 573.0,531.34 573.5,531.36 574.0,531.38 574.5,531.40 575.0,531.43 575.5,531.46 576.0,531.49 576.5,531.53 577.0,531.57 577.5,531.62 578.0,531.66 578.5,531.71 579.0,531.76 579.5,531.82 580.0,531.88 580.5,531.93 581.0,532.00 581.5,532.06 582.0,532.12 582.5,532.19 583.0,532.26 583.5,532.33 584.0,532.40 584.5,532.47 585.0,532.54 585.5,532.61 586.0,532.69 586.5,532.76 587.0,532.83 587.5,532.91 588.0,532.98 588.5,533.06 589.0,533.13 589.5,533.20 590.0,533.27 590.5,533.34 591.0,533.42 591.5,533.48 592.0,533.55 592.5,533.62 593.0,533.68 593.5,533.75 594.0,533.81 594.5,533.87 595.0,533.92 595.5,533.98 596.0,534.03 596.5,534.08 597.0,534.13 597.5,534.17 598.0,534.21 598.5,534.25 599.0,534.28 599.5,534.31 600.0,534.34 600.5,534.42 601.0,534.49 601.5,534.55 602.0,534.62 602.5,534.68 603.0,534.72 603.5,534.74 604.0,534.73 604.5,534.70 605.0,534.65 605.5,534.57 606.0,534.49 606.5,534.39 607.0,534.28 607.5,534.16 608.0,534.03 608.5,533.91 609.0,533.78 609.5,533.65 610.0,533.53 610.5,533.42 611.0,533.32 611.5,533.23 612.0,533.16 612.5,533.10 613.0,533.07 613.5,533.06 614.0,533.07 614.5,533.12 615.0,533.06 615.5,533.02 616.0,532.99 616.5,532.99 617.0,532.99 617.5,533.02 618.0,533.06 618.5,533.12 619.0,533.20 619.5,533.31 620.0,533.44 620.5,533.59 621.0,533.78 621.5,534.01 622.0,534.28 622.5,534.60 623.0,534.97 623.5,535.40 624.0,535.89 624.5,536.46 625.0,537.10 625.5,537.81 626.0,538.61 626.5,539.50 627.0,540.46 627.5,541.51 628.0,542.63 628.5,543.81 629.0,545.05 629.5,546.32 630.0,547.61 630.5,548.93 631.0,550.23 631.5,551.49 632.0,552.69 632.5,553.79 633.0,554.79 633.5,555.65 634.0,556.35 634.5,556.88 635.0,557.22 635.5,557.36 636.0,557.30 636.5,557.05 637.0,556.62 637.5,556.02 638.0,555.26 638.5,554.36 639.0,553.32 639.5,552.18 640.0,550.95 640.5,549.65 641.0,548.31 641.5,546.94 642.0,545.56 642.5,544.21 643.0,542.88 643.5,541.60 644.0,540.38 644.5,539.22 645.0,538.14 645.5,537.15 646.0,536.24 646.5,535.42 647.0,534.69 647.5,534.05 648.0,533.49 648.5,533.01 649.0,532.60 649.5,532.27 650.0,531.99 650.5,531.78 651.0,531.61 651.5,531.49 652.0,531.41 652.5,531.36 653.0,531.34 653.5,531.35 654.0,531.37 654.5,531.41 655.0,531.46 655.5,531.53 656.0,531.59 656.5,531.75 657.0,531.92 657.5,532.08 658.0,532.24 658.5,532.41 659.0,532.59 659.5,532.79 660.0,533.00 660.5,533.22 661.0,533.45 661.5,533.68 662.0,533.92 662.5,534.15 663.0,534.39 663.5,534.62 664.0,534.84 664.5,535.05 665.0,535.25 665.5,535.44 666.0,535.61 666.5,535.76 667.0,535.89 667.5,535.89 668.0,535.87 668.5,535.82 669.0,535.75 669.5,535.68 670.0,535.60 670.5,535.52 671.0,535.43 671.5,535.33 672.0,535.23 672.5,535.13 673.0,535.03 673.5,534.92 674.0,534.81 674.5,534.70 675.0,534.60 675.5,534.49 676.0,534.38 676.5,534.27 677.0,534.17 677.5,534.07 678.0,533.97 678.5,533.88 679.0,533.79 679.5,533.70 680.0,533.62 680.5,533.55 681.0,533.47 681.5,533.50 682.0,533.53 682.5,533.57 683.0,533.60 683.5,533.63 684.0,533.67 684.5,533.70 685.0,533.74 685.5,533.77 686.0,533.81 686.5,533.85 687.0,533.89 687.5,533.93 688.0,533.97 688.5,534.01 689.0,534.06 689.5,534.10 690.0,534.15 690.5,534.20 691.0,534.26 691.5,534.32 692.0,534.39 692.5,534.47 693.0,534.56 693.5,534.65 694.0,534.74 694.5,534.84 695.0,534.94 695.5,535.05 696.0,535.16 696.5,535.27 697.0,535.39 697.5,535.51 698.0,535.63 698.5,535.70 699.0,535.78 699.5,535.87 700.0,535.97 700.5,536.09 701.0,536.23 701.5,536.39 702.0,536.58 702.5,536.83 703.0,537.19 703.5,537.62 704.0,538.12 704.5,538.66 705.0,539.23 705.5,539.80 706.0,540.40 706.5,541.04 707.0,541.74 707.5,542.49 708.0,543.29 708.5,544.15 709.0,545.06 709.5,546.08 710.0,547.20 710.5,548.41 711.0,549.70 711.5,551.03 712.0,552.40 712.5,553.78 713.0,555.22 713.5,556.73 714.0,558.36 714.5,560.14 715.0,562.09 715.5,564.25 716.0,566.80 716.5,569.95 717.0,573.54 717.5,577.39 718.0,581.32 718.5,585.41 719.0,589.79 719.5,594.39 720.0,599.11 720.5,603.85 721.0,608.59 721.5,613.44 722.0,618.37 722.5,623.31 723.0,628.21 723.5,632.99 724.0,637.72 724.5,642.51 725.0,647.45 725.5,652.88 726.0,658.47 726.5,663.37 727.0,668.11 727.5,670.70 728.0,669.27 728.5,666.15 729.0,662.98 729.5,659.59 730.0,655.78 730.5,651.56 731.0,646.95 731.5,641.72 732.0,635.77 732.5,629.28 733.0,622.44 733.5,615.43 734.0,608.45 734.5,601.58 735.0,594.30 735.5,586.85 736.0,579.73 736.5,573.41 737.0,567.72 737.5,562.35 738.0,557.62 738.5,553.86 739.0,550.86 739.5,548.25 740.0,546.10 740.5,544.48 741.0,543.27 741.5,542.27 742.0,541.43 742.5,540.70 743.0,540.02 743.5,539.39 744.0,538.81 744.5,538.27 745.0,537.79 745.5,537.36 746.0,536.99 746.5,536.65 747.0,536.31 747.5,535.98 748.0,535.66 748.5,535.37 749.0,535.10 749.5,534.87 750.0,534.69 750.5,534.57 751.0,534.51 751.5,534.50 752.0,534.50 752.5,534.50 753.0,534.50 753.5,534.50 754.0,534.50 754.5,534.50 755.0,534.50 755.5,534.50 756.0,534.50 756.5,534.50 757.0,534.50 757.5,534.50 758.0,534.50 758.5,534.50 759.0,534.50 759.5,534.50 760.0,534.52 760.5,534.63 761.0,534.82 761.5,535.08 762.0,535.40 762.5,535.76 763.0,536.17 763.5,536.81 764.0,537.68 764.5,538.74 765.0,540.00 765.5,541.73 766.0,543.90 766.5,546.40 767.0,549.41 767.5,553.05 768.0,557.11 768.5,561.47 769.0,566.39 769.5,571.69 770.0,577.14 770.5,584.04 771.0,591.42 771.5,595.65 772.0,595.48 772.5,594.51 773.0,593.48 773.5,593.01 774.0,593.15 774.5,593.52 775.0,594.00 775.5,594.70 776.0,595.77 776.5,597.19 777.0,598.94 777.5,601.03 778.0,604.22 778.5,608.98 779.0,614.77 779.5,621.10 780.0,628.63 780.5,637.62 781.0,646.90 781.5,656.54 782.0,666.67 782.5,676.27 783.0,684.65 783.5,693.48 784.0,700.06 784.5,700.95 785.0,696.79 785.5,690.49 786.0,684.56 786.5,678.48 787.0,671.92 787.5,664.97 788.0,657.70 788.5,650.21 789.0,642.15 789.5,633.31 790.0,624.83 790.5,617.44 791.0,610.30 791.5,603.99 792.0,599.29 792.5,596.00 793.0,593.29 793.5,590.98 794.0,588.90 794.5,586.86 795.0,584.85 795.5,582.97 796.0,581.20 796.5,579.52 797.0,577.93 797.5,576.41 798.0,574.94 798.5,573.54 799.0,572.19 799.5,570.88 800.0,569.63 800.5,568.42 801.0,567.26 801.5,566.14 802.0,565.07 802.5,564.03 803.0,563.02 803.5,562.02 804.0,561.04 804.5,560.05 805.0,559.06 805.5,558.08 806.0,557.12 806.5,556.19 807.0,555.29 807.5,554.43 808.0,553.63 808.5,552.89 809.0,552.21 809.5,551.57 810.0,550.97 810.5,550.40 811.0,549.85 811.5,549.32 812.0,548.79 812.5,548.26 813.0,547.72 813.5,547.16 814.0,546.58 814.5,545.96 815.0,545.31 815.5,544.65 816.0,544.00 816.5,543.36 817.0,542.76 817.5,542.21 818.0,541.66 818.5,541.07 819.0,540.49 819.5,539.98 820.0,539.58 820.5,539.34 821.0,539.31 821.5,539.45 822.0,539.73 822.5,540.10 823.0,540.56 823.5,541.07 824.0,541.82 824.5,542.95 825.0,544.33 825.5,545.87 826.0,547.44 826.5,549.14 827.0,551.07 827.5,553.14 828.0,555.23 828.5,557.58 829.0,560.18 829.5,562.51 830.0,564.08 830.5,565.07 831.0,565.91 831.5,566.55 832.0,566.80 832.5,566.77 833.0,566.68 833.5,566.55 834.0,566.37 834.5,566.15 835.0,565.63 835.5,564.76 836.0,563.71 836.5,562.65 837.0,561.59 837.5,560.43 838.0,559.12 838.5,557.64 839.0,555.67 839.5,552.92 840.0,550.03 840.5,547.63 841.0,546.35 841.5,545.90 842.0,545.54 842.5,545.26 843.0,545.03 843.5,544.83 844.0,544.66 844.5,544.49 845.0,544.34 845.5,544.23 846.0,544.13 846.5,544.04 847.0,543.93 847.5,543.79 848.0,543.61 848.5,543.26 849.0,542.71 849.5,542.06 850.0,541.41 850.5,540.86 851.0,540.36 851.5,539.82 852.0,539.33 852.5,538.98 853.0,538.85 853.5,538.98 854.0,539.33 854.5,539.82 855.0,540.36 855.5,540.86 856.0,541.45 856.5,542.16 857.0,542.86 857.5,543.40 858.0,543.61 858.5,543.50 859.0,543.22 859.5,542.82 860.0,542.33 860.5,541.81 861.0,541.31 861.5,540.86 862.0,540.43 862.5,539.96 863.0,539.50 863.5,539.11 864.0,538.85 864.5,538.66 865.0,538.49 865.5,538.35 866.0,538.25 866.5,538.20 867.0,538.27 867.5,538.52 868.0,538.90 868.5,539.36 869.0,539.84 869.5,540.34 870.0,540.93 870.5,541.62 871.0,542.44 871.5,543.41 872.0,544.56 872.5,546.32 873.0,548.71 873.5,551.53 874.0,554.57 874.5,557.61 875.0,560.75 875.5,564.18 876.0,567.81 876.5,571.54 877.0,575.29 877.5,579.10 878.0,583.04 878.5,587.05 879.0,591.05 879.5,594.97 880.0,599.22 880.5,603.85 881.0,608.24 881.5,611.80 882.0,613.92 882.5,615.07 883.0,616.09 883.5,616.96 884.0,617.67 884.5,618.19 885.0,618.51 885.5,618.57 886.0,617.72 886.5,616.03 887.0,613.94 887.5,611.92 888.0,609.82 888.5,607.41 889.0,605.01 889.5,602.93 890.0,601.33 890.5,599.76 891.0,598.25 891.5,596.90 892.0,595.82 892.5,595.07 893.0,594.80 893.5,595.46 894.0,597.07 894.5,599.18 895.0,601.33 895.5,603.73 896.0,606.61 896.5,609.63 897.0,612.39 897.5,614.61 898.0,616.61 898.5,618.44 899.0,620.02 899.5,621.27 900.0,622.34 900.5,623.34 901.0,624.11 901.5,624.49 902.0,624.01 902.5,622.48 903.0,620.43 903.5,618.35 904.0,616.29 904.5,613.97 905.0,611.44 905.5,608.73 906.0,605.82 906.5,602.49 907.0,598.83 907.5,595.07 908.0,591.40 908.5,588.03 909.0,584.80 909.5,581.55 910.0,578.49 910.5,575.83 911.0,573.76 911.5,572.13 912.0,570.70 912.5,569.57 913.0,568.86 913.5,568.41 914.0,568.05 914.5,567.79 915.0,567.70 915.5,567.91 916.0,568.48 916.5,569.32 917.0,570.33 917.5,571.41 918.0,572.73 918.5,574.46 919.0,576.56 919.5,578.94 920.0,581.54 920.5,584.43 921.0,588.00 921.5,592.10 922.0,596.54 922.5,601.09 923.0,605.56 923.5,610.05 924.0,614.74 924.5,619.54 925.0,624.36 925.5,629.12 926.0,633.74 926.5,638.14 927.0,642.40 927.5,646.58 928.0,650.69 928.5,654.80 929.0,658.95 929.5,663.15 930.0,667.35 930.5,671.47 931.0,675.46 931.5,679.30 932.0,683.20 932.5,687.01 933.0,690.57 933.5,693.72 934.0,696.37 934.5,699.03 935.0,701.56 935.5,703.62 936.0,704.87 936.5,705.01 937.0,704.08 937.5,702.39 938.0,700.23 938.5,697.90 939.0,695.64 939.5,693.10 940.0,690.21 940.5,687.04 941.0,683.67 941.5,680.15 942.0,676.24 942.5,671.96 943.0,667.46 943.5,662.93 944.0,658.54 944.5,654.29 945.0,650.06 945.5,645.84 946.0,641.61 946.5,637.35 947.0,632.97 947.5,628.47 948.0,624.01 948.5,619.73 949.0,615.78 949.5,611.91 950.0,607.98 950.5,604.31 951.0,601.21 951.5,598.99 952.0,597.60 952.5,596.46 953.0,595.52 953.5,594.75 954.0,594.13 954.5,593.65 955.0,593.27 955.5,592.96 956.0,592.67 956.5,592.35 957.0,592.00 957.5,591.64 958.0,591.28 958.5,590.89 959.0,590.43 959.5,589.90 960.0,589.29 960.5,588.56 961.0,587.68 961.5,586.61 962.0,585.18 962.5,582.55 963.0,579.05 963.5,575.27 964.0,571.83 964.5,569.17 965.0,566.55 965.5,563.99 966.0,561.83 966.5,560.40 967.0,560.01 967.5,560.25 968.0,560.78 968.5,561.52 969.0,562.40 969.5,563.35 970.0,564.50 970.5,566.03 971.0,567.88 971.5,570.02 972.0,572.40 972.5,575.38 973.0,579.12 973.5,583.34 974.0,587.86 974.5,593.23 975.0,598.87 975.5,603.95 976.0,608.64 976.5,613.00 977.0,616.76 977.5,620.20 978.0,623.36 978.5,625.60 979.0,626.56 979.5,627.16 980.0,627.61 980.5,627.98 981.0,628.36 981.5,628.77 982.0,629.10 982.5,629.40 983.0,629.77 983.5,630.35 984.0,631.37 984.5,634.19 985.0,638.27 985.5,642.61 986.0,647.09 986.5,652.16 987.0,657.75 987.5,663.97 988.0,671.31 988.5,679.08 989.0,686.48 989.5,692.97 990.0,699.93 990.5,706.61 991.0,711.62 991.5,713.60 992.0,712.24 992.5,708.78 993.0,704.17 993.5,699.33 994.0,694.60 994.5,689.20 995.0,683.15 995.5,676.54 996.0,669.13 996.5,660.24 997.0,650.99 997.5,642.65 998.0,634.82 998.5,627.45 999.0,621.17 999.5,616.16 1000.0,611.82 1000.5,608.14 1001.0,605.12 1001.5,602.42 1002.0,600.17 1002.5,598.59 1003.0,597.52 1003.5,596.62 1004.0,595.93 1004.5,595.49 1005.0,595.24 1005.5,595.04 1006.0,594.89 1006.5,594.81 1007.0,594.89 1007.5,595.41 1008.0,596.24 1008.5,597.25 1009.0,598.27 1009.5,599.39 1010.0,600.74 1010.5,602.42 1011.0,604.52 1011.5,607.84 1012.0,612.59 1012.5,618.00 1013.0,623.59 1013.5,629.98 1014.0,636.72 1014.5,643.29 1015.0,649.80 1015.5,656.33 1016.0,662.71 1016.5,668.78 1017.0,675.43 1017.5,682.54 1018.0,688.43 1018.5,691.40 1019.0,691.15 1019.5,689.89 1020.0,688.02 1020.5,685.86 1021.0,683.58 1021.5,680.69 1022.0,677.14 1022.5,672.95 1023.0,667.91 1023.5,660.64 1024.0,652.19 1024.5,644.18 1025.0,636.55 1025.5,628.95 1026.0,622.59 1026.5,618.22 1027.0,614.69 1027.5,611.88 1028.0,609.81 1028.5,608.01 1029.0,606.55 1029.5,605.82 1030.0,605.84 1030.5,605.99 1031.0,606.21 1031.5,606.50 1032.0,606.80 1032.5,607.13 1033.0,607.55 1033.5,608.06 1034.0,608.65 1034.5,609.34 1035.0,610.17 1035.5,611.32 1036.0,612.64 1036.5,613.99 1037.0,615.76 1037.5,617.56 1038.0,618.57 1038.5,617.97 1039.0,615.87 1039.5,613.12 1040.0,610.49 1040.5,607.70 1041.0,604.54 1041.5,600.94 1042.0,596.20 1042.5,590.49 1043.0,585.07 1043.5,581.13 1044.0,578.18 1044.5,575.65 1045.0,573.53 1045.5,571.85 1046.0,570.51 1046.5,569.35 1047.0,568.34 1047.5,567.43 1048.0,566.57 1048.5,565.72 1049.0,564.86 1049.5,564.03 1050.0,563.23 1050.5,562.48 1051.0,561.78 1051.5,561.14 1052.0,560.59 1052.5,560.07 1053.0,559.55 1053.5,559.06 1054.0,558.58 1054.5,558.13 1055.0,557.72 1055.5,557.35 1056.0,557.02 1056.5,556.76 1057.0,556.55 1057.5,556.38 1058.0,556.23 1058.5,556.09 1059.0,555.96 1059.5,555.84 1060.0,555.74 1060.5,555.65 1061.0,555.57 1061.5,555.50 1062.0,555.44 1062.5,555.39 1063.0,555.34 1063.5,555.29 1064.0,555.25 1064.5,555.21 1065.0,555.17 1065.5,555.14 1066.0,555.12 1066.5,555.11 1067.0,555.10 1067.5,555.28 1068.0,555.95 1068.5,556.95 1069.0,558.16 1069.5,559.47 1070.0,561.25 1070.5,563.51 1071.0,566.11 1071.5,568.95 1072.0,572.50 1072.5,576.64 1073.0,580.94 1073.5,584.90 1074.0,589.07 1074.5,593.55 1075.0,597.26 1075.5,599.14 1076.0,598.35 1076.5,595.39 1077.0,591.22 1077.5,586.77 1078.0,582.81 1078.5,578.48 1079.0,573.96 1079.5,569.83 1080.0,566.64 1080.5,564.08 1081.0,561.85 1081.5,559.92 1082.0,558.29 1082.5,556.87 1083.0,555.62 1083.5,554.53 1084.0,553.60 1084.5,552.81 1085.0,552.09 1085.5,551.44 1086.0,550.85 1086.5,550.30 1087.0,549.79 1087.5,549.30 1088.0,548.79 1088.5,548.26 1089.0,547.74 1089.5,547.27 1090.0,546.90 1090.5,546.66 1091.0,546.61 1091.5,546.64 1092.0,546.68 1092.5,546.71 1093.0,546.75 1093.5,546.78 1094.0,546.82 1094.5,546.86 1095.0,546.89 1095.5,546.93 1096.0,546.96 1096.5,547.00 1097.0,547.03 1097.5,547.07 1098.0,547.12 1098.5,547.26 1099.0,547.48 1099.5,547.77 1100.0,548.09 1100.5,548.44 1101.0,548.79 1101.5,549.13 1102.0,549.43 1102.5,549.69 1103.0,549.89 1103.5,549.99 1104.0,549.99 1104.5,549.95 1105.0,549.89 1105.5,549.81 1106.0,549.71 1106.5,549.60 1107.0,549.48 1107.5,549.36 1108.0,549.24 1108.5,549.11 1109.0,549.00 1109.5,548.89 1110.0,548.79 1110.5,548.68 1111.0,548.57 1111.5,548.46 1112.0,548.34 1112.5,548.21 1113.0,548.07 1113.5,547.91 1114.0,547.74 1114.5,547.54 1115.0,547.30 1115.5,546.96 1116.0,546.54 1116.5,546.07 1117.0,545.55 1117.5,545.02 1118.0,544.47 1118.5,543.94 1119.0,543.45 1119.5,543.00 1120.0,542.56 1120.5,542.08 1121.0,541.58 1121.5,541.08 1122.0,540.59 1122.5,540.14 1123.0,539.74 1123.5,539.40 1124.0,539.16 1124.5,539.02 1125.0,539.00 1125.5,539.00 1126.0,539.00 1126.5,539.00 1127.0,539.00 1127.5,539.00 1128.0,539.00 1128.5,539.00 1129.0,539.00 1129.5,539.00 1130.0,539.00 1130.5,539.00 1131.0,539.00 1131.5,539.00 1132.0,539.00 1132.5,539.00 1133.0,539.00 1133.5,538.99 1134.0,538.91 1134.5,538.75 1135.0,538.52 1135.5,538.25 1136.0,537.95 1136.5,537.63 1137.0,537.31 1137.5,537.00 1138.0,536.73 1138.5,536.50 1139.0,536.29 1139.5,536.07 1140.0,535.84 1140.5,535.62 1141.0,535.40 1141.5,535.21 1142.0,535.04 1142.5,534.91 1143.0,534.83 1143.5,534.80 1144.0,534.82 1144.5,534.88 1145.0,534.97 1145.5,535.09 1146.0,535.23 1146.5,535.39 1147.0,535.57 1147.5,535.75 1148.0,535.94 1148.5,536.14 1149.0,536.37 1149.5,536.65 1150.0,536.99 1150.5,537.41 1151.0,537.91 1151.5,538.67 1152.0,539.93 1152.5,541.63 1153.0,543.64 1153.5,545.90 1154.0,548.85 1154.5,552.72 1155.0,557.04 1155.5,561.35 1156.0,565.79 1156.5,570.48 1157.0,575.30 1157.5,580.33 1158.0,585.54 1158.5,590.68 1159.0,595.63 1159.5,600.55 1160.0,604.70 1160.5,608.43 1161.0,611.39 1161.5,611.85 1162.0,610.38 1162.5,607.90 1163.0,605.08 1163.5,602.54 1164.0,599.58 1164.5,596.36 1165.0,593.77 1165.5,592.71 1166.0,592.93 1166.5,593.48 1167.0,594.23 1167.5,595.05 1168.0,595.81 1168.5,596.63 1169.0,597.62 1169.5,598.58 1170.0,599.34 1170.5,599.71 1171.0,599.36 1171.5,598.09 1172.0,596.29 1172.5,594.36 1173.0,592.71 1173.5,591.17 1174.0,589.45 1174.5,587.81 1175.0,586.50 1175.5,585.77 1176.0,585.77 1176.5,586.16 1177.0,586.83 1177.5,587.68 1178.0,588.65 1178.5,589.68 1179.0,591.06 1179.5,592.79 1180.0,594.80 1180.5,597.01 1181.0,599.41 1181.5,602.42 1182.0,605.84 1182.5,609.35 1183.0,612.59 1183.5,616.03 1184.0,619.69 1184.5,622.61 1185.0,623.80 1185.5,622.98 1186.0,620.95 1186.5,618.40 1187.0,616.01 1187.5,613.99 1188.0,611.97 1188.5,609.81 1189.0,607.32 1189.5,604.25 1190.0,600.02 1190.5,595.23 1191.0,590.70 1191.5,586.39 1192.0,582.14 1192.5,578.61 1193.0,576.23 1193.5,574.26 1194.0,572.55 1194.5,571.05 1195.0,569.72 1195.5,568.50 1196.0,567.34 1196.5,566.21 1197.0,565.12 1197.5,564.09 1198.0,563.15 1198.5,562.31 1199.0,561.59 1199.5,561.01 1200.0,560.51 1200.5,560.03 1201.0,559.56 1201.5,559.13 1202.0,558.73 1202.5,558.39 1203.0,558.10 1203.5,557.88 1204.0,557.75 1204.5,557.70 1205.0,557.79 1205.5,558.04 1206.0,558.37 1206.5,558.75 1207.0,559.10 1207.5,559.50 1208.0,560.01 1208.5,560.50 1209.0,560.90 1209.5,561.09 1210.0,560.33 1210.5,557.90 1211.0,555.51 1211.5,553.72 1212.0,552.18 1212.5,550.75 1213.0,549.45 1213.5,548.22 1214.0,546.98 1214.5,545.80 1215.0,544.70 1215.5,543.73 1216.0,542.92 1216.5,542.32 1217.0,541.81 1217.5,541.31 1218.0,540.84 1218.5,540.40 1219.0,540.01 1219.5,539.67 1220.0,539.39 1220.5,539.18 1221.0,539.05 1221.5,539.00 1222.0,539.05 1222.5,539.19 1223.0,539.40 1223.5,539.67 1224.0,539.98 1224.5,540.32 1225.0,540.67 1225.5,541.02 1226.0,541.35 1226.5,541.65 1227.0,541.89 1227.5,542.08 1228.0,542.18 1228.5,542.19 1229.0,542.11 1229.5,541.94 1230.0,541.71 1230.5,541.43 1231.0,541.11 1231.5,540.76 1232.0,540.41 1232.5,540.06 1233.0,539.73 1233.5,539.44 1234.0,539.20 1234.5,539.02 1235.0,538.92 1235.5,538.94 1236.0,539.27 1236.5,539.85 1237.0,540.54 1237.5,541.44 1238.0,542.68 1238.5,544.12 1239.0,545.76 1239.5,547.75 1240.0,549.94 1240.5,552.17 1241.0,554.36 1241.5,556.89 1242.0,559.31 1242.5,560.95 1243.0,561.69 1243.5,562.31 1244.0,562.84 1244.5,563.26 1245.0,563.57 1245.5,563.75 1246.0,563.80 1246.5,563.66 1247.0,563.37 1247.5,562.99 1248.0,562.56 1248.5,562.15 1249.0,561.80 1249.5,561.56 1250.0,561.52 1250.5,562.19 1251.0,563.69 1251.5,565.78 1252.0,568.36 1252.5,571.61 1253.0,577.73 1253.5,585.04 1254.0,594.35 1254.5,602.96 1255.0,605.32 1255.5,606.53 1256.0,607.42 1256.5,608.00 1257.0,608.28 1257.5,607.90 1258.0,605.84 1258.5,602.78 1259.0,599.62 1259.5,597.03 1260.0,594.18 1260.5,591.51 1261.0,589.87 1261.5,589.75 1262.0,590.03 1262.5,590.52 1263.0,591.17 1263.5,591.93 1264.0,592.75 1264.5,593.59 1265.0,594.73 1265.5,596.15 1266.0,597.64 1266.5,598.99 1267.0,600.35 1267.5,601.80 1268.0,602.94 1268.5,603.40 1269.0,603.30 1269.5,603.05 1270.0,602.69 1270.5,602.27 1271.0,601.85 1271.5,601.41 1272.0,600.92 1272.5,600.32 1273.0,599.56 1273.5,598.52 1274.0,596.63 1274.5,594.21 1275.0,591.79 1275.5,589.52 1276.0,587.19 1276.5,584.71 1277.0,582.03 1277.5,579.15 1278.0,576.17 1278.5,573.17 1279.0,569.85 1279.5,565.98 1280.0,562.58 1280.5,560.70 1281.0,560.45 1281.5,560.29 1282.0,560.15 1282.5,560.05 1283.0,559.96 1283.5,559.91 1284.0,559.87 1284.5,559.86 1285.0,559.89 1285.5,559.99 1286.0,560.14 1286.5,560.31 1287.0,560.46 1287.5,560.57 1288.0,560.59 1288.5,560.38 1289.0,559.93 1289.5,559.36 1290.0,558.75 1290.5,558.21 1291.0,557.74 1291.5,557.30 1292.0,556.85 1292.5,556.37 1293.0,555.84 1293.5,555.23 1294.0,554.50 1294.5,553.61 1295.0,552.61 1295.5,551.55 1296.0,550.45 1296.5,549.37 1297.0,548.34 1297.5,547.40 1298.0,546.51 1298.5,545.53 1299.0,544.52 1299.5,543.55 1300.0,542.67 1300.5,541.94 1301.0,541.44 1301.5,541.21 1302.0,541.34 1302.5,541.88 1303.0,542.73 1303.5,543.81 1304.0,545.03 1304.5,546.30 1305.0,547.53 1305.5,548.64 1306.0,549.62 1306.5,550.59 1307.0,551.58 1307.5,552.57 1308.0,553.57 1308.5,554.59 1309.0,555.79 1309.5,557.20 1310.0,558.58 1310.5,559.75 1311.0,560.47 1311.5,560.57 1312.0,560.30 1312.5,559.77 1313.0,559.01 1313.5,558.10 1314.0,557.05 1314.5,555.94 1315.0,554.79 1315.5,553.61 1316.0,551.99 1316.5,550.01 1317.0,547.88 1317.5,545.80 1318.0,544.00 1318.5,542.68 1319.0,541.80 1319.5,540.98 1320.0,540.22 1320.5,539.59 1321.0,539.12 1321.5,538.85 1322.0,538.85 1322.5,539.37 1323.0,540.28 1323.5,541.37 1324.0,542.44 1324.5,543.37 1325.0,544.37 1325.5,545.39 1326.0,546.35 1326.5,547.16 1327.0,547.81 1327.5,548.37 1328.0,548.87 1328.5,549.33 1329.0,549.74 1329.5,550.14 1330.0,550.52 1330.5,550.91 1331.0,551.32 1331.5,551.75 1332.0,552.23 1332.5,552.77 1333.0,553.38 1333.5,554.09 1334.0,554.94 1334.5,555.89 1335.0,556.92 1335.5,557.98 1336.0,559.05 1336.5,560.17 1337.0,561.38 1337.5,562.63 1338.0,563.88 1338.5,565.07 1339.0,566.16 1339.5,567.09 1340.0,567.90 1340.5,568.64 1341.0,569.38 1341.5,570.15 1342.0,571.03 1342.5,572.05 1343.0,573.28 1343.5,574.77 1344.0,577.06 1344.5,580.82 1345.0,585.52 1345.5,590.58 1346.0,595.44 1346.5,600.22 1347.0,605.23 1347.5,610.17 1348.0,615.07 1348.5,620.07 1349.0,624.55 1349.5,627.96 1350.0,630.64 1350.5,632.95 1351.0,635.09 1351.5,637.30 1352.0,639.68 1352.5,641.99 1353.0,644.31 1353.5,646.79 1354.0,649.56 1354.5,653.20 1355.0,658.17 1355.5,663.61 1356.0,668.62 1356.5,672.28 1357.0,673.70 1357.5,672.43 1358.0,669.07 1358.5,664.25 1359.0,658.64 1359.5,652.88 1360.0,647.45 1360.5,641.30 1361.0,634.69 1361.5,628.26 1362.0,621.77 1362.5,615.38 1363.0,609.71 1363.5,604.88 1364.0,600.52 1364.5,596.59 1365.0,592.88 1365.5,589.35 1366.0,586.49 1366.5,584.54 1367.0,582.86 1367.5,581.51 1368.0,580.66 1368.5,580.34 1369.0,580.14 1369.5,579.98 1370.0,579.86 1370.5,579.76 1371.0,579.68 1371.5,579.58 1372.0,579.47 1372.5,579.33 1373.0,579.17 1373.5,579.00 1374.0,578.83 1374.5,578.64 1375.0,578.43 1375.5,578.18 1376.0,577.89 1376.5,577.54 1377.0,577.00 1377.5,576.29 1378.0,575.49 1378.5,574.65 1379.0,573.85 1379.5,573.10 1380.0,572.31 1380.5,571.52 1381.0,570.73 1381.5,569.95 1382.0,569.22 1382.5,568.53 1383.0,567.87 1383.5,567.23 1384.0,566.62 1384.5,566.01 1385.0,565.43 1385.5,564.87 1386.0,564.32 1386.5,563.78 1387.0,563.19 1387.5,562.59 1388.0,562.07 1388.5,561.71 1389.0,561.56 1389.5,561.47 1390.0,561.42" fill="none" stroke="#1A6FDF" stroke-width="6" stroke-linejoin="round" stroke-linecap="butt"/>
<polyline points="161.0,416.70 161.5,416.70 162.0,416.70 162.5,416.70 163.0,416.70 163.5,416.70 164.0,416.70 164.5,416.70 165.0,416.70 165.5,416.70 166.0,416.70 166.5,416.70 167.0,416.70 167.5,416.70 168.0,416.70 168.5,416.70 169.0,416.70 169.5,416.70 170.0,416.70 170.5,416.70 171.0,416.70 171.5,416.70 172.0,416.70 172.5,416.70 173.0,416.70 173.5,416.70 174.0,416.70 174.5,416.70 175.0,416.70 175.5,416.70 176.0,416.70 176.5,416.70 177.0,416.70 177.5,416.70 178.0,416.70 178.5,416.70 179.0,416.70 179.5,416.70 180.0,416.70 180.5,416.70 181.0,416.70 181.5,416.70 182.0,416.70 182.5,416.70 183.0,416.70 183.5,416.72 184.0,416.79 184.5,416.89 185.0,417.02 185.5,417.17 186.0,417.34 186.5,417.52 187.0,417.71 187.5,417.90 188.0,418.08 188.5,418.25 189.0,418.40 189.5,418.53 190.0,418.63 190.5,418.69 191.0,418.71 191.5,418.73 192.0,418.76 192.5,418.77 193.0,418.79 193.5,418.81 194.0,418.83 194.5,418.84 195.0,418.85 195.5,418.86 196.0,418.87 196.5,418.88 197.0,418.89 197.5,418.89 198.0,418.90 198.5,418.90 199.0,418.90 199.5,418.90 200.0,418.90 200.5,418.90 201.0,418.90 201.5,418.90 202.0,418.90 202.5,418.90 203.0,418.90 203.5,418.89 204.0,418.89 204.5,418.89 205.0,418.89 205.5,418.89 206.0,418.89 206.5,418.89 207.0,418.88 207.5,418.88 208.0,418.88 208.5,418.88 209.0,418.87 209.5,418.87 210.0,418.87 210.5,418.87 211.0,418.86 211.5,418.86 212.0,418.86 212.5,418.85 213.0,418.85 213.5,418.85 214.0,418.84 214.5,418.84 215.0,418.84 215.5,418.83 216.0,418.83 216.5,418.82 217.0,418.82 217.5,418.81 218.0,418.81 218.5,418.80 219.0,418.80 219.5,418.79 220.0,418.79 220.5,418.78 221.0,418.78 221.5,418.77 222.0,418.77 222.5,418.76 223.0,418.75 223.5,418.75 224.0,418.74 224.5,418.73 225.0,418.73 225.5,418.72 226.0,418.71 226.5,418.71 227.0,418.70 227.5,418.69 228.0,418.67 228.5,418.65 229.0,418.62 229.5,418.59 230.0,418.56 230.5,418.51 231.0,418.47 231.5,418.42 232.0,418.37 232.5,418.31 233.0,418.25 233.5,418.18 234.0,418.12 234.5,418.05 235.0,417.98 235.5,417.90 236.0,417.83 236.5,417.75 237.0,417.67 237.5,417.60 238.0,417.52 238.5,417.43 239.0,417.35 239.5,417.27 240.0,417.19 240.5,417.11 241.0,417.03 241.5,416.95 242.0,416.88 242.5,416.80 243.0,416.72 243.5,416.65 244.0,416.57 244.5,416.49 245.0,416.40 245.5,416.32 246.0,416.23 246.5,416.14 247.0,416.04 247.5,415.94 248.0,415.85 248.5,415.75 249.0,415.65 249.5,415.54 250.0,415.44 250.5,415.34 251.0,415.24 251.5,415.14 252.0,415.04 252.5,414.94 253.0,414.84 253.5,414.74 254.0,414.65 254.5,414.55 255.0,414.46 255.5,414.37 256.0,414.29 256.5,414.21 257.0,414.13 257.5,414.06 258.0,413.99 258.5,413.92 259.0,413.87 259.5,413.81 260.0,413.76 260.5,413.71 261.0,413.66 261.5,413.61 262.0,413.56 262.5,413.51 263.0,413.46 263.5,413.41 264.0,413.37 264.5,413.32 265.0,413.27 265.5,413.22 266.0,413.17 266.5,413.13 267.0,413.08 267.5,413.04 268.0,412.99 268.5,412.95 269.0,412.90 269.5,412.86 270.0,412.82 270.5,412.78 271.0,412.73 271.5,412.70 272.0,412.66 272.5,412.62 273.0,412.58 273.5,412.55 274.0,412.51 274.5,412.48 275.0,412.45 275.5,412.42 276.0,412.39 276.5,412.36 277.0,412.33 277.5,412.30 278.0,412.28 278.5,412.26 279.0,412.24 279.5,412.22 280.0,412.20 280.5,412.18 281.0,412.17 281.5,412.15 282.0,412.14 282.5,412.13 283.0,412.13 283.5,412.12 284.0,412.12 284.5,412.11 285.0,412.12 285.5,412.12 286.0,412.12 286.5,412.13 287.0,412.15 287.5,412.16 288.0,412.17 288.5,412.19 289.0,412.21 289.5,412.23 290.0,412.25 290.5,412.28 291.0,412.30 291.5,412.33 292.0,412.35 292.5,412.38 293.0,412.40 293.5,412.43 294.0,412.46 294.5,412.48 295.0,412.52 295.5,412.55 296.0,412.59 296.5,412.64 297.0,412.69 297.5,412.74 298.0,412.79 298.5,412.85 299.0,412.91 299.5,412.97 300.0,413.04 300.5,413.10 301.0,413.17 301.5,413.24 302.0,413.30 302.5,413.37 303.0,413.44 303.5,413.50 304.0,413.57 304.5,413.63 305.0,413.69 305.5,413.75 306.0,413.80 306.5,413.86 307.0,413.91 307.5,413.95 308.0,413.99 308.5,414.03 309.0,414.06 309.5,414.09 310.0,414.11 310.5,414.13 311.0,414.14 311.5,414.14 312.0,414.14 312.5,414.13 313.0,414.13 313.5,414.11 314.0,414.10 314.5,414.08 315.0,414.06 315.5,414.03 316.0,414.00 316.5,413.98 317.0,413.94 317.5,413.91 318.0,413.88 318.5,413.84 319.0,413.81 319.5,413.76 320.0,413.71 320.5,413.63 321.0,413.54 321.5,413.44 322.0,413.32 322.5,413.19 323.0,413.05 323.5,412.90 324.0,412.74 324.5,412.57 325.0,412.39 325.5,412.21 326.0,412.02 326.5,411.83 327.0,411.64 327.5,411.44 328.0,411.24 328.5,411.04 329.0,410.85 329.5,410.65 330.0,410.46 330.5,410.27 331.0,410.09 331.5,409.92 332.0,409.75 332.5,409.59 333.0,409.43 333.5,409.26 334.0,409.08 334.5,408.89 335.0,408.69 335.5,408.49 336.0,408.29 336.5,408.10 337.0,407.91 337.5,407.74 338.0,407.57 338.5,407.42 339.0,407.29 339.5,407.18 340.0,407.09 340.5,407.03 341.0,407.00 341.5,407.00 342.0,407.02 342.5,407.03 343.0,407.06 343.5,407.09 344.0,407.14 344.5,407.18 345.0,407.24 345.5,407.30 346.0,407.36 346.5,407.43 347.0,407.51 347.5,407.59 348.0,407.68 348.5,407.77 349.0,407.86 349.5,407.96 350.0,408.06 350.5,408.23 351.0,408.48 351.5,408.79 352.0,409.15 352.5,409.52 353.0,409.91 353.5,410.28 354.0,410.62 354.5,410.91 355.0,411.12 355.5,411.25 356.0,411.31 356.5,411.37 357.0,411.42 357.5,411.47 358.0,411.52 358.5,411.56 359.0,411.60 359.5,411.64 360.0,411.68 360.5,411.72 361.0,411.75 361.5,411.78 362.0,411.80 362.5,411.83 363.0,411.85 363.5,411.86 364.0,411.88 364.5,411.89 365.0,411.90 365.5,411.91 366.0,411.92 366.5,411.89 367.0,411.70 367.5,411.39 368.0,410.99 368.5,410.52 369.0,410.04 369.5,409.58 370.0,409.16 370.5,408.84 371.0,408.64 371.5,408.52 372.0,408.40 372.5,408.29 373.0,408.19 373.5,408.09 374.0,408.00 374.5,407.91 375.0,407.84 375.5,407.77 376.0,407.71 376.5,407.66 377.0,407.63 377.5,407.60 378.0,407.58 378.5,407.57 379.0,407.58 379.5,407.61 380.0,407.65 380.5,407.71 381.0,407.79 381.5,407.87 382.0,407.97 382.5,408.08 383.0,408.20 383.5,408.33 384.0,408.46 384.5,408.60 385.0,408.74 385.5,408.88 386.0,409.02 386.5,409.17 387.0,409.36 387.5,409.60 388.0,409.87 388.5,410.17 389.0,410.49 389.5,410.82 390.0,411.16 390.5,411.49 391.0,411.82 391.5,412.12 392.0,412.39 392.5,412.63 393.0,412.82 393.5,412.96 394.0,413.05 394.5,413.09 395.0,413.14 395.5,413.18 396.0,413.23 396.5,413.27 397.0,413.31 397.5,413.35 398.0,413.39 398.5,413.43 399.0,413.46 399.5,413.50 400.0,413.53 400.5,413.56 401.0,413.59 401.5,413.62 402.0,413.65 402.5,413.68 403.0,413.71 403.5,413.73 404.0,413.76 404.5,413.78 405.0,413.81 405.5,413.83 406.0,413.85 406.5,413.87 407.0,413.88 407.5,413.90 408.0,413.92 408.5,413.93 409.0,413.95 409.5,413.96 410.0,413.97 410.5,413.98 411.0,413.99 411.5,414.00 412.0,414.01 412.5,414.02 413.0,414.03 413.5,414.03 414.0,414.04 414.5,414.04 415.0,414.04 415.5,414.04 416.0,414.03 416.5,414.02 417.0,413.99 417.5,413.96 418.0,413.93 418.5,413.89 419.0,413.84 419.5,413.80 420.0,413.74 420.5,413.69 421.0,413.63 421.5,413.57 422.0,413.51 422.5,413.45 423.0,413.39 423.5,413.33 424.0,413.27 424.5,413.21 425.0,413.16 425.5,413.10 426.0,413.05 426.5,413.00 427.0,412.96 427.5,412.92 428.0,412.89 428.5,412.86 429.0,412.84 429.5,412.82 430.0,412.81 430.5,412.82 431.0,412.86 431.5,412.95 432.0,413.08 432.5,413.25 433.0,413.45 433.5,413.67 434.0,413.92 434.5,414.17 435.0,414.44 435.5,414.70 436.0,414.95 436.5,415.20 437.0,415.42 437.5,415.62 438.0,415.79 438.5,415.93 439.0,416.01 439.5,416.06 440.0,416.05 440.5,416.03 441.0,415.99 441.5,415.94 442.0,415.87 442.5,415.78 443.0,415.68 443.5,415.57 444.0,415.45 444.5,415.32 445.0,415.18 445.5,415.03 446.0,414.87 446.5,414.70 447.0,414.53 447.5,414.36 448.0,414.18 448.5,414.00 449.0,413.82 449.5,413.64 450.0,413.46 450.5,413.28 451.0,413.11 451.5,412.93 452.0,412.77 452.5,412.60 453.0,412.45 453.5,412.30 454.0,412.16 454.5,412.03 455.0,411.91 455.5,411.80 456.0,411.70 456.5,411.62 457.0,411.55 457.5,411.50 458.0,411.47 458.5,411.45 459.0,411.45 459.5,411.45 460.0,411.46 460.5,411.48 461.0,411.49 461.5,411.52 462.0,411.54 462.5,411.57 463.0,411.60 463.5,411.63 464.0,411.67 464.5,411.70 465.0,411.75 465.5,411.79 466.0,411.83 466.5,411.88 467.0,411.93 467.5,411.98 468.0,412.03 468.5,412.08 469.0,412.13 469.5,412.18 470.0,412.24 470.5,412.29 471.0,412.35 471.5,412.40 472.0,412.45 472.5,412.51 473.0,412.56 473.5,412.62 474.0,412.67 474.5,412.72 475.0,412.77 475.5,412.82 476.0,412.86 476.5,412.91 477.0,412.95 477.5,413.00 478.0,413.03 478.5,413.07 479.0,413.11 479.5,413.15 480.0,413.18 480.5,413.22 481.0,413.25 481.5,413.28 482.0,413.31 482.5,413.35 483.0,413.38 483.5,413.41 484.0,413.44 484.5,413.47 485.0,413.50 485.5,413.53 486.0,413.56 486.5,413.59 487.0,413.61 487.5,413.64 488.0,413.67 488.5,413.70 489.0,413.73 489.5,413.75 490.0,413.78 490.5,413.81 491.0,413.84 491.5,413.87 492.0,413.90 492.5,413.93 493.0,413.96 493.5,413.99 494.0,414.02 494.5,414.05 495.0,414.08 495.5,414.11 496.0,414.14 496.5,414.18 497.0,414.21 497.5,414.25 498.0,414.28 498.5,414.32 499.0,414.35 499.5,414.39 500.0,414.43 500.5,414.47 501.0,414.51 501.5,414.55 502.0,414.60 502.5,414.64 503.0,414.69 503.5,414.73 504.0,414.78 504.5,414.83 505.0,414.88 505.5,414.94 506.0,414.99 506.5,415.05 507.0,415.10 507.5,415.18 508.0,415.26 508.5,415.36 509.0,415.47 509.5,415.59 510.0,415.72 510.5,415.86 511.0,416.00 511.5,416.15 512.0,416.31 512.5,416.47 513.0,416.64 513.5,416.81 514.0,416.98 514.5,417.15 515.0,417.32 515.5,417.50 516.0,417.66 516.5,417.83 517.0,417.99 517.5,418.15 518.0,418.30 518.5,418.45 519.0,418.59 519.5,418.72 520.0,418.84 520.5,418.95 521.0,419.05 521.5,419.13 522.0,419.21 522.5,419.26 523.0,419.31 523.5,419.34 524.0,419.35 524.5,419.34 525.0,419.32 525.5,419.27 526.0,419.22 526.5,419.14 527.0,419.05 527.5,418.95 528.0,418.84 528.5,418.71 529.0,418.57 529.5,418.42 530.0,418.26 530.5,418.09 531.0,417.91 531.5,417.73 532.0,417.54 532.5,417.34 533.0,417.13 533.5,416.93 534.0,416.72 534.5,416.50 535.0,416.29 535.5,416.07 536.0,415.85 536.5,415.63 537.0,415.42 537.5,415.20 538.0,414.99 538.5,414.78 539.0,414.58 539.5,414.38 540.0,414.19 540.5,414.00 541.0,413.83 541.5,413.66 542.0,413.49 542.5,413.34 543.0,413.20 543.5,413.07 544.0,412.96 544.5,412.85 545.0,412.76 545.5,412.68 546.0,412.60 546.5,412.52 547.0,412.44 547.5,412.36 548.0,412.28 548.5,412.21 549.0,412.13 549.5,412.05 550.0,411.97 550.5,411.90 551.0,411.82 551.5,411.75 552.0,411.67 552.5,411.60 553.0,411.53 553.5,411.46 554.0,411.39 554.5,411.32 555.0,411.25 555.5,411.18 556.0,411.12 556.5,411.05 557.0,410.99 557.5,410.93 558.0,410.87 558.5,410.81 559.0,410.75 559.5,410.69 560.0,410.64 560.5,410.59 561.0,410.54 561.5,410.49 562.0,410.44 562.5,410.39 563.0,410.35 563.5,410.31 564.0,410.27 564.5,410.23 565.0,410.20 565.5,410.17 566.0,410.14 566.5,410.11 567.0,410.08 567.5,410.06 568.0,410.04 568.5,410.02 569.0,410.00 569.5,409.99 570.0,409.98 570.5,409.97 571.0,409.97 571.5,409.97 572.0,409.97 572.5,409.98 573.0,409.99 573.5,410.00 574.0,410.02 574.5,410.04 575.0,410.07 575.5,410.10 576.0,410.13 576.5,410.17 577.0,410.21 577.5,410.25 578.0,410.30 578.5,410.34 579.0,410.40 579.5,410.45 580.0,410.51 580.5,410.56 581.0,410.63 581.5,410.69 582.0,410.75 582.5,410.82 583.0,410.88 583.5,410.95 584.0,411.02 584.5,411.09 585.0,411.16 585.5,411.24 586.0,411.31 586.5,411.38 587.0,411.45 587.5,411.53 588.0,411.60 588.5,411.67 589.0,411.75 589.5,411.82 590.0,411.89 590.5,411.96 591.0,412.03 591.5,412.10 592.0,412.16 592.5,412.23 593.0,412.29 593.5,412.36 594.0,412.42 594.5,412.48 595.0,412.53 595.5,412.59 596.0,412.64 596.5,412.69 597.0,412.73 597.5,412.77 598.0,412.81 598.5,412.85 599.0,412.89 599.5,412.91 600.0,412.94 600.5,413.05 601.0,413.15 601.5,413.25 602.0,413.34 602.5,413.43 603.0,413.51 603.5,413.56 604.0,413.58 604.5,413.58 605.0,413.56 605.5,413.52 606.0,413.46 606.5,413.39 607.0,413.31 607.5,413.22 608.0,413.13 608.5,413.03 609.0,412.94 609.5,412.84 610.0,412.76 610.5,412.67 611.0,412.60 611.5,412.55 612.0,412.50 612.5,412.48 613.0,412.48 613.5,412.50 614.0,412.54 614.5,412.62 615.0,412.60 615.5,412.59 616.0,412.60 616.5,412.63 617.0,412.68 617.5,412.74 618.0,412.83 618.5,412.93 619.0,413.06 619.5,413.22 620.0,413.41 620.5,413.63 621.0,413.90 621.5,414.21 622.0,414.57 622.5,415.00 623.0,415.49 623.5,416.06 624.0,416.71 624.5,417.45 625.0,418.29 625.5,419.23 626.0,420.28 626.5,421.43 627.0,422.69 627.5,424.06 628.0,425.52 628.5,427.07 629.0,428.69 629.5,430.36 630.0,432.05 630.5,433.77 631.0,435.46 631.5,437.11 632.0,438.68 632.5,440.14 633.0,441.45 633.5,442.60 634.0,443.55 634.5,444.29 635.0,444.78 635.5,445.03 636.0,445.01 636.5,444.75 637.0,444.26 637.5,443.56 638.0,442.66 638.5,441.57 639.0,440.31 639.5,438.92 640.0,437.40 640.5,435.80 641.0,434.13 641.5,432.43 642.0,430.72 642.5,429.03 643.0,427.38 643.5,425.77 644.0,424.24 644.5,422.79 645.0,421.44 645.5,420.18 646.0,419.04 646.5,418.01 647.0,417.08 647.5,416.27 648.0,415.56 648.5,414.95 649.0,414.43 649.5,414.00 650.0,413.65 650.5,413.36 651.0,413.15 651.5,412.98 652.0,412.87 652.5,412.80 653.0,412.77 653.5,412.76 654.0,412.78 654.5,412.82 655.0,412.88 655.5,412.94 656.0,413.02 656.5,413.13 657.0,413.25 657.5,413.37 658.0,413.49 658.5,413.61 659.0,413.75 659.5,413.90 660.0,414.07 660.5,414.25 661.0,414.44 661.5,414.63 662.0,414.83 662.5,415.02 663.0,415.22 663.5,415.40 664.0,415.59 664.5,415.76 665.0,415.92 665.5,416.06 666.0,416.19 666.5,416.30 667.0,416.39 667.5,416.41 668.0,416.41 668.5,416.38 669.0,416.34 669.5,416.29 670.0,416.23 670.5,416.17 671.0,416.10 671.5,416.03 672.0,415.96 672.5,415.88 673.0,415.79 673.5,415.71 674.0,415.62 674.5,415.54 675.0,415.45 675.5,415.37 676.0,415.28 676.5,415.20 677.0,415.11 677.5,415.03 678.0,414.96 678.5,414.89 679.0,414.82 679.5,414.76 680.0,414.70 680.5,414.70 681.0,414.70 681.5,414.70 682.0,414.70 682.5,414.70 683.0,414.70 683.5,414.70 684.0,414.70 684.5,414.70 685.0,414.70 685.5,414.70 686.0,414.71 686.5,414.71 687.0,414.72 687.5,414.73 688.0,414.73 688.5,414.74 689.0,414.75 689.5,414.76 690.0,414.78 690.5,414.80 691.0,414.82 691.5,414.85 692.0,414.89 692.5,414.94 693.0,414.99 693.5,415.05 694.0,415.11 694.5,415.17 695.0,415.24 695.5,415.32 696.0,415.39 696.5,415.47 697.0,415.56 697.5,415.64 698.0,415.73 698.5,415.80 699.0,415.88 699.5,415.97 700.0,416.08 700.5,416.21 701.0,416.35 701.5,416.52 702.0,416.71 702.5,416.97 703.0,417.34 703.5,417.79 704.0,418.30 704.5,418.86 705.0,419.45 705.5,420.04 706.0,420.65 706.5,421.32 707.0,422.04 707.5,422.82 708.0,423.65 708.5,424.53 709.0,425.48 709.5,426.53 710.0,427.69 710.5,428.94 711.0,430.26 711.5,431.65 712.0,433.06 712.5,434.49 713.0,435.97 713.5,437.54 714.0,439.22 714.5,441.06 715.0,443.07 715.5,445.31 716.0,447.93 716.5,451.19 717.0,454.90 717.5,458.88 718.0,462.94 718.5,467.16 719.0,471.70 719.5,476.45 720.0,481.32 720.5,486.22 721.0,491.12 721.5,496.14 722.0,501.23 722.5,506.34 723.0,511.39 723.5,516.33 724.0,521.22 724.5,526.17 725.0,531.28 725.5,536.88 726.0,542.66 726.5,547.73 727.0,552.62 727.5,555.30 728.0,553.83 728.5,550.63 729.0,547.37 729.5,543.88 730.0,539.97 730.5,535.63 731.0,530.89 731.5,525.52 732.0,519.40 732.5,512.72 733.0,505.69 733.5,498.49 734.0,491.31 734.5,484.26 735.0,476.77 735.5,469.11 736.0,461.79 736.5,455.30 737.0,449.44 737.5,443.92 738.0,439.06 738.5,435.20 739.0,432.11 739.5,429.43 740.0,427.22 740.5,425.56 741.0,424.32 741.5,423.29 742.0,422.42 742.5,421.67 743.0,420.98 743.5,420.33 744.0,419.73 744.5,419.18 745.0,418.68 745.5,418.24 746.0,417.86 746.5,417.51 747.0,417.16 747.5,416.82 748.0,416.49 748.5,416.19 749.0,415.92 749.5,415.68 750.0,415.50 750.5,415.37 751.0,415.31 751.5,415.30 752.0,415.30 752.5,415.30 753.0,415.30 753.5,415.30 754.0,415.30 754.5,415.30 755.0,415.30 755.5,415.30 756.0,415.30 756.5,415.30 757.0,415.30 757.5,415.30 758.0,415.30 758.5,415.30 759.0,415.30 759.5,415.30 760.0,415.32 760.5,415.43 761.0,415.62 761.5,415.89 762.0,416.22 762.5,416.59 763.0,417.01 763.5,417.66 764.0,418.55 764.5,419.64 765.0,420.92 765.5,422.69 766.0,424.92 766.5,427.47 767.0,430.55 767.5,434.28 768.0,438.43 768.5,442.89 769.0,447.92 769.5,453.34 770.0,458.92 770.5,465.97 771.0,473.52 771.5,477.84 772.0,477.66 772.5,476.68 773.0,475.63 773.5,475.15 774.0,475.30 774.5,475.67 775.0,476.16 775.5,476.87 776.0,477.95 776.5,479.38 777.0,481.16 777.5,483.26 778.0,486.49 778.5,491.30 779.0,497.16 779.5,503.55 780.0,511.16 780.5,520.24 781.0,529.62 781.5,539.36 782.0,549.60 782.5,559.30 783.0,567.78 783.5,576.70 784.0,583.35 784.5,584.24 785.0,580.04 785.5,573.67 786.0,567.67 786.5,561.52 787.0,554.88 787.5,547.84 788.0,540.49 788.5,532.91 789.0,524.76 789.5,515.81 790.0,507.23 790.5,499.76 791.0,492.53 791.5,486.15 792.0,481.39 792.5,478.06 793.0,475.32 793.5,472.99 794.0,470.88 794.5,468.82 795.0,466.79 795.5,464.88 796.0,463.09 796.5,461.40 797.0,459.79 797.5,458.24 798.0,456.76 798.5,455.34 799.0,453.97 799.5,452.65 800.0,451.39 800.5,450.16 801.0,448.99 801.5,447.86 802.0,446.77 802.5,445.72 803.0,444.69 803.5,443.69 804.0,442.69 804.5,441.69 805.0,440.69 805.5,439.70 806.0,438.73 806.5,437.78 807.0,436.87 807.5,436.01 808.0,435.20 808.5,434.45 809.0,433.76 809.5,433.11 810.0,432.51 810.5,431.93 811.0,431.38 811.5,430.84 812.0,430.30 812.5,429.77 813.0,429.22 813.5,428.66 814.0,428.07 814.5,427.44 815.0,426.78 815.5,426.12 816.0,425.45 816.5,424.81 817.0,424.20 817.5,423.65 818.0,423.09 818.5,422.49 819.0,421.91 819.5,421.39 820.0,420.98 820.5,420.74 821.0,420.71 821.5,420.85 822.0,421.13 822.5,421.51 823.0,421.97 823.5,422.48 824.0,423.23 824.5,424.36 825.0,425.75 825.5,427.29 826.0,428.87 826.5,430.58 827.0,432.52 827.5,434.59 828.0,436.69 828.5,439.05 829.0,441.65 829.5,443.99 830.0,445.57 830.5,446.56 831.0,447.41 831.5,448.05 832.0,448.30 832.5,448.27 833.0,448.18 833.5,448.05 834.0,447.87 834.5,447.65 835.0,447.12 835.5,446.24 836.0,445.18 836.5,444.10 837.0,443.03 837.5,441.85 838.0,440.52 838.5,439.02 839.0,437.02 839.5,434.23 840.0,431.30 840.5,428.86 841.0,427.57 841.5,427.11 842.0,426.75 842.5,426.46 843.0,426.22 843.5,426.03 844.0,425.85 844.5,425.68 845.0,425.53 845.5,425.42 846.0,425.32 846.5,425.22 847.0,425.11 847.5,424.97 848.0,424.78 848.5,424.43 849.0,423.87 849.5,423.22 850.0,422.56 850.5,422.00 851.0,421.49 851.5,420.94 852.0,420.45 852.5,420.09 853.0,419.95 853.5,420.09 854.0,420.45 854.5,420.94 855.0,421.49 855.5,422.00 856.0,422.59 856.5,423.32 857.0,424.03 857.5,424.57 858.0,424.78 858.5,424.68 859.0,424.40 859.5,423.98 860.0,423.49 860.5,422.96 861.0,422.45 861.5,422.00 862.0,421.56 862.5,421.08 863.0,420.62 863.5,420.23 864.0,419.95 864.5,419.77 865.0,419.59 865.5,419.45 866.0,419.35 866.5,419.30 867.0,419.37 867.5,419.62 868.0,420.01 868.5,420.47 869.0,420.95 869.5,421.46 870.0,422.05 870.5,422.75 871.0,423.57 871.5,424.55 872.0,425.71 872.5,427.48 873.0,429.89 873.5,432.73 874.0,435.79 874.5,438.85 875.0,442.02 875.5,445.48 876.0,449.13 876.5,452.89 877.0,456.66 877.5,460.51 878.0,464.48 878.5,468.51 879.0,472.54 879.5,476.49 880.0,480.78 880.5,485.44 881.0,489.87 881.5,493.45 882.0,495.59 882.5,496.74 883.0,497.77 883.5,498.65 884.0,499.37 884.5,499.89 885.0,500.21 885.5,500.27 886.0,499.42 886.5,497.73 887.0,495.64 887.5,493.62 888.0,491.52 888.5,489.11 889.0,486.71 889.5,484.63 890.0,483.03 890.5,481.46 891.0,479.95 891.5,478.60 892.0,477.52 892.5,476.77 893.0,476.50 893.5,477.16 894.0,478.77 894.5,480.88 895.0,483.03 895.5,485.43 896.0,488.31 896.5,491.33 897.0,494.09 897.5,496.31 898.0,498.31 898.5,500.14 899.0,501.72 899.5,502.97 900.0,504.04 900.5,505.04 901.0,505.81 901.5,506.19 902.0,505.71 902.5,504.20 903.0,502.18 903.5,500.12 904.0,498.09 904.5,495.81 905.0,493.32 905.5,490.64 906.0,487.78 906.5,484.49 907.0,480.89 907.5,477.18 908.0,473.56 908.5,470.24 909.0,467.06 909.5,463.86 910.0,460.84 910.5,458.21 911.0,456.18 911.5,454.57 912.0,453.16 912.5,452.05 913.0,451.34 913.5,450.90 914.0,450.54 914.5,450.29 915.0,450.20 915.5,450.41 916.0,450.99 916.5,451.83 917.0,452.84 917.5,453.93 918.0,455.26 918.5,457.01 919.0,459.11 919.5,461.51 920.0,464.13 920.5,467.04 921.0,470.63 921.5,474.76 922.0,479.22 922.5,483.81 923.0,488.31 923.5,492.83 924.0,497.55 924.5,502.38 925.0,507.23 925.5,512.03 926.0,516.67 926.5,521.10 927.0,525.39 927.5,529.59 928.0,533.74 928.5,537.88 929.0,542.05 929.5,546.27 930.0,550.50 930.5,554.65 931.0,558.66 931.5,562.53 932.0,566.45 932.5,570.29 933.0,573.88 933.5,577.05 934.0,579.71 934.5,582.39 935.0,584.93 935.5,587.01 936.0,588.27 936.5,588.40 937.0,587.38 937.5,585.52 938.0,583.15 938.5,580.60 939.0,578.12 939.5,575.33 940.0,572.16 940.5,568.68 941.0,564.98 941.5,561.11 942.0,556.83 942.5,552.12 943.0,547.19 943.5,542.22 944.0,537.40 944.5,532.73 945.0,528.09 945.5,523.46 946.0,518.81 946.5,514.14 947.0,509.33 947.5,504.40 948.0,499.50 948.5,494.80 949.0,490.46 949.5,486.22 950.0,481.91 950.5,477.88 951.0,474.47 951.5,472.03 952.0,470.52 952.5,469.26 953.0,468.23 953.5,467.38 954.0,466.71 954.5,466.18 955.0,465.76 955.5,465.42 956.0,465.10 956.5,464.76 957.0,464.46 957.5,464.23 958.0,463.99 958.5,463.73 959.0,463.43 959.5,463.08 960.0,462.67 960.5,462.20 961.0,461.62 961.5,460.91 962.0,459.97 962.5,458.24 963.0,455.94 963.5,453.45 964.0,451.18 964.5,449.44 965.0,447.71 965.5,446.03 966.0,444.60 966.5,443.66 967.0,443.41 967.5,443.65 968.0,444.18 968.5,444.92 969.0,445.80 969.5,446.75 970.0,447.90 970.5,449.43 971.0,451.28 971.5,453.42 972.0,455.80 972.5,458.78 973.0,462.52 973.5,466.74 974.0,471.26 974.5,476.63 975.0,482.27 975.5,487.35 976.0,492.04 976.5,496.40 977.0,500.16 977.5,503.60 978.0,506.76 978.5,509.00 979.0,509.96 979.5,510.56 980.0,511.01 980.5,511.38 981.0,511.76 981.5,512.17 982.0,512.50 982.5,512.80 983.0,513.17 983.5,513.74 984.0,514.75 984.5,517.54 985.0,521.58 985.5,525.88 986.0,530.30 986.5,535.32 987.0,540.85 987.5,547.00 988.0,554.26 988.5,561.95 989.0,569.28 989.5,575.69 990.0,582.58 990.5,589.18 991.0,594.14 991.5,596.10 992.0,594.81 992.5,591.53 993.0,587.15 993.5,582.55 994.0,578.06 994.5,572.93 995.0,567.19 995.5,560.92 996.0,553.88 996.5,545.43 997.0,536.65 997.5,528.73 998.0,521.29 998.5,514.30 999.0,508.33 999.5,503.58 1000.0,499.46 1000.5,495.97 1001.0,493.10 1001.5,490.54 1002.0,488.40 1002.5,486.90 1003.0,485.88 1003.5,485.03 1004.0,484.37 1004.5,483.95 1005.0,483.72 1005.5,483.52 1006.0,483.38 1006.5,483.31 1007.0,483.39 1007.5,483.90 1008.0,484.72 1008.5,485.70 1009.0,486.71 1009.5,487.81 1010.0,489.14 1010.5,490.79 1011.0,492.85 1011.5,496.11 1012.0,500.78 1012.5,506.09 1013.0,511.59 1013.5,517.86 1014.0,524.48 1014.5,530.93 1015.0,537.33 1015.5,543.75 1016.0,550.02 1016.5,555.98 1017.0,562.51 1017.5,569.50 1018.0,575.28 1018.5,578.21 1019.0,577.95 1019.5,576.71 1020.0,574.86 1020.5,572.72 1021.0,570.46 1021.5,567.60 1022.0,564.09 1022.5,559.94 1023.0,554.95 1023.5,547.76 1024.0,539.40 1024.5,531.48 1025.0,523.92 1025.5,516.41 1026.0,510.12 1026.5,505.79 1027.0,502.30 1027.5,499.51 1028.0,497.47 1028.5,495.69 1029.0,494.24 1029.5,493.52 1030.0,493.54 1030.5,493.67 1031.0,493.88 1031.5,494.15 1032.0,494.43 1032.5,494.74 1033.0,495.13 1033.5,495.60 1034.0,496.15 1034.5,496.79 1035.0,497.56 1035.5,498.63 1036.0,499.85 1036.5,501.11 1037.0,502.76 1037.5,504.43 1038.0,505.37 1038.5,504.73 1039.0,502.50 1039.5,499.59 1040.0,496.82 1040.5,493.86 1041.0,490.51 1041.5,486.70 1042.0,481.68 1042.5,475.64 1043.0,469.89 1043.5,465.72 1044.0,462.60 1044.5,459.92 1045.0,457.68 1045.5,455.90 1046.0,454.47 1046.5,453.25 1047.0,452.18 1047.5,451.21 1048.0,450.31 1048.5,449.40 1049.0,448.49 1049.5,447.61 1050.0,446.77 1050.5,445.97 1051.0,445.23 1051.5,444.55 1052.0,443.99 1052.5,443.47 1053.0,442.95 1053.5,442.46 1054.0,441.98 1054.5,441.53 1055.0,441.12 1055.5,440.75 1056.0,440.42 1056.5,440.16 1057.0,439.95 1057.5,439.78 1058.0,439.63 1058.5,439.49 1059.0,439.36 1059.5,439.24 1060.0,439.14 1060.5,439.05 1061.0,438.97 1061.5,438.90 1062.0,438.84 1062.5,438.79 1063.0,438.74 1063.5,438.69 1064.0,438.65 1064.5,438.61 1065.0,438.57 1065.5,438.54 1066.0,438.52 1066.5,438.51 1067.0,438.50 1067.5,438.68 1068.0,439.33 1068.5,440.32 1069.0,441.50 1069.5,442.79 1070.0,444.54 1070.5,446.76 1071.0,449.31 1071.5,452.10 1072.0,455.58 1072.5,459.65 1073.0,463.87 1073.5,467.76 1074.0,471.85 1074.5,476.25 1075.0,479.90 1075.5,481.74 1076.0,480.93 1076.5,477.93 1077.0,473.68 1077.5,469.16 1078.0,465.13 1078.5,460.72 1079.0,456.13 1079.5,451.93 1080.0,448.68 1080.5,446.08 1081.0,443.81 1081.5,441.85 1082.0,440.19 1082.5,438.75 1083.0,437.48 1083.5,436.37 1084.0,435.42 1084.5,434.61 1085.0,433.88 1085.5,433.22 1086.0,432.62 1086.5,432.06 1087.0,431.54 1087.5,431.04 1088.0,430.53 1088.5,429.98 1089.0,429.46 1089.5,428.98 1090.0,428.60 1090.5,428.36 1091.0,428.30 1091.5,428.30 1092.0,428.31 1092.5,428.31 1093.0,428.32 1093.5,428.32 1094.0,428.32 1094.5,428.33 1095.0,428.33 1095.5,428.34 1096.0,428.34 1096.5,428.34 1097.0,428.35 1097.5,428.35 1098.0,428.37 1098.5,428.49 1099.0,428.67 1099.5,428.92 1100.0,429.22 1100.5,429.53 1101.0,429.85 1101.5,430.16 1102.0,430.44 1102.5,430.66 1103.0,430.82 1103.5,430.90 1104.0,430.89 1104.5,430.85 1105.0,430.79 1105.5,430.70 1106.0,430.60 1106.5,430.48 1107.0,430.35 1107.5,430.22 1108.0,430.09 1108.5,429.96 1109.0,429.84 1109.5,429.73 1110.0,429.62 1110.5,429.50 1111.0,429.39 1111.5,429.27 1112.0,429.14 1112.5,429.01 1113.0,428.85 1113.5,428.69 1114.0,428.50 1114.5,428.30 1115.0,428.04 1115.5,427.68 1116.0,427.24 1116.5,426.74 1117.0,426.19 1117.5,425.62 1118.0,425.04 1118.5,424.48 1119.0,423.96 1119.5,423.49 1120.0,423.02 1120.5,422.51 1121.0,421.98 1121.5,421.45 1122.0,420.93 1122.5,420.45 1123.0,420.03 1123.5,419.68 1124.0,419.42 1124.5,419.27 1125.0,419.25 1125.5,419.25 1126.0,419.25 1126.5,419.25 1127.0,419.25 1127.5,419.25 1128.0,419.25 1128.5,419.25 1129.0,419.25 1129.5,419.25 1130.0,419.25 1130.5,419.25 1131.0,419.25 1131.5,419.25 1132.0,419.25 1132.5,419.25 1133.0,419.25 1133.5,419.24 1134.0,419.15 1134.5,418.98 1135.0,418.74 1135.5,418.45 1136.0,418.13 1136.5,417.79 1137.0,417.45 1137.5,417.13 1138.0,416.84 1138.5,416.60 1139.0,416.38 1139.5,416.14 1140.0,415.90 1140.5,415.66 1141.0,415.44 1141.5,415.23 1142.0,415.06 1142.5,414.92 1143.0,414.83 1143.5,414.80 1144.0,414.82 1144.5,414.88 1145.0,414.98 1145.5,415.10 1146.0,415.25 1146.5,415.42 1147.0,415.60 1147.5,415.79 1148.0,415.99 1148.5,416.20 1149.0,416.44 1149.5,416.73 1150.0,417.09 1150.5,417.52 1151.0,418.05 1151.5,418.84 1152.0,420.16 1152.5,421.93 1153.0,424.03 1153.5,426.39 1154.0,429.47 1154.5,433.51 1155.0,438.02 1155.5,442.52 1156.0,447.16 1156.5,452.05 1157.0,457.08 1157.5,462.33 1158.0,467.78 1158.5,473.14 1159.0,478.31 1159.5,483.44 1160.0,487.78 1160.5,491.67 1161.0,494.76 1161.5,495.25 1162.0,493.78 1162.5,491.30 1163.0,488.48 1163.5,485.94 1164.0,482.98 1164.5,479.76 1165.0,477.17 1165.5,476.11 1166.0,476.33 1166.5,476.88 1167.0,477.63 1167.5,478.45 1168.0,479.21 1168.5,480.03 1169.0,481.02 1169.5,481.98 1170.0,482.74 1170.5,483.11 1171.0,482.76 1171.5,481.49 1172.0,479.69 1172.5,477.76 1173.0,476.11 1173.5,474.57 1174.0,472.85 1174.5,471.21 1175.0,469.90 1175.5,469.17 1176.0,469.17 1176.5,469.56 1177.0,470.23 1177.5,471.08 1178.0,472.05 1178.5,473.08 1179.0,474.46 1179.5,476.19 1180.0,478.20 1180.5,480.41 1181.0,482.81 1181.5,485.82 1182.0,489.24 1182.5,492.75 1183.0,495.99 1183.5,499.43 1184.0,503.09 1184.5,506.01 1185.0,507.20 1185.5,506.35 1186.0,504.28 1186.5,501.67 1187.0,499.21 1187.5,497.13 1188.0,495.07 1188.5,492.85 1189.0,490.29 1189.5,487.15 1190.0,482.81 1190.5,477.89 1191.0,473.25 1191.5,468.83 1192.0,464.47 1192.5,460.85 1193.0,458.41 1193.5,456.38 1194.0,454.63 1194.5,453.09 1195.0,451.73 1195.5,450.47 1196.0,449.29 1196.5,448.13 1197.0,447.01 1197.5,445.96 1198.0,444.99 1198.5,444.12 1199.0,443.39 1199.5,442.79 1200.0,442.29 1200.5,441.79 1201.0,441.31 1201.5,440.86 1202.0,440.46 1202.5,440.10 1203.0,439.81 1203.5,439.59 1204.0,439.45 1204.5,439.40 1205.0,439.49 1205.5,439.74 1206.0,440.07 1206.5,440.45 1207.0,440.80 1207.5,441.20 1208.0,441.71 1208.5,442.20 1209.0,442.60 1209.5,442.79 1210.0,442.03 1210.5,439.60 1211.0,436.92 1211.5,434.88 1212.0,433.15 1212.5,431.52 1213.0,430.05 1213.5,428.65 1214.0,427.25 1214.5,425.91 1215.0,424.66 1215.5,423.56 1216.0,422.65 1216.5,421.97 1217.0,421.38 1217.5,420.82 1218.0,420.28 1218.5,419.79 1219.0,419.34 1219.5,418.96 1220.0,418.64 1220.5,418.40 1221.0,418.25 1221.5,418.20 1222.0,418.28 1222.5,418.44 1223.0,418.68 1223.5,418.98 1224.0,419.32 1224.5,419.69 1225.0,420.07 1225.5,420.45 1226.0,420.81 1226.5,421.13 1227.0,421.41 1227.5,421.62 1228.0,421.76 1228.5,421.79 1229.0,421.74 1229.5,421.60 1230.0,421.40 1230.5,421.14 1231.0,420.85 1231.5,420.54 1232.0,420.21 1232.5,419.89 1233.0,419.60 1233.5,419.33 1234.0,419.12 1234.5,418.97 1235.0,418.89 1235.5,418.94 1236.0,419.27 1236.5,419.85 1237.0,420.54 1237.5,421.44 1238.0,422.68 1238.5,424.12 1239.0,425.76 1239.5,427.75 1240.0,429.94 1240.5,432.17 1241.0,434.36 1241.5,436.89 1242.0,439.31 1242.5,440.95 1243.0,441.69 1243.5,442.31 1244.0,442.84 1244.5,443.26 1245.0,443.57 1245.5,443.75 1246.0,443.80 1246.5,443.66 1247.0,443.37 1247.5,442.99 1248.0,442.56 1248.5,442.15 1249.0,441.80 1249.5,441.56 1250.0,441.52 1250.5,442.19 1251.0,443.69 1251.5,445.96 1252.0,448.77 1252.5,452.31 1253.0,458.98 1253.5,466.95 1254.0,477.10 1254.5,486.48 1255.0,489.05 1255.5,490.37 1256.0,491.34 1256.5,491.98 1257.0,492.27 1257.5,491.87 1258.0,489.62 1258.5,486.31 1259.0,482.87 1259.5,480.06 1260.0,476.97 1260.5,474.06 1261.0,472.29 1261.5,472.16 1262.0,472.47 1262.5,473.02 1263.0,473.74 1263.5,474.59 1264.0,475.50 1264.5,476.45 1265.0,477.72 1265.5,479.31 1266.0,480.97 1266.5,482.47 1267.0,484.00 1267.5,485.61 1268.0,486.88 1268.5,487.40 1269.0,487.30 1269.5,487.03 1270.0,486.64 1270.5,486.19 1271.0,485.73 1271.5,485.27 1272.0,484.74 1272.5,484.09 1273.0,483.27 1273.5,482.16 1274.0,480.12 1274.5,477.52 1275.0,474.92 1275.5,472.49 1276.0,469.97 1276.5,467.31 1277.0,464.43 1277.5,461.34 1278.0,458.13 1278.5,454.91 1279.0,451.34 1279.5,447.18 1280.0,443.52 1280.5,441.51 1281.0,441.24 1281.5,441.06 1282.0,440.92 1282.5,440.80 1283.0,440.71 1283.5,440.65 1284.0,440.61 1284.5,440.60 1285.0,440.63 1285.5,440.74 1286.0,440.91 1286.5,441.09 1287.0,441.25 1287.5,441.37 1288.0,441.39 1288.5,441.16 1289.0,440.68 1289.5,440.05 1290.0,439.40 1290.5,438.81 1291.0,438.31 1291.5,437.83 1292.0,437.34 1292.5,436.82 1293.0,436.24 1293.5,435.59 1294.0,434.80 1294.5,433.84 1295.0,432.76 1295.5,431.60 1296.0,430.42 1296.5,429.24 1297.0,428.13 1297.5,427.11 1298.0,426.14 1298.5,425.09 1299.0,424.00 1299.5,422.94 1300.0,421.99 1300.5,421.21 1301.0,420.66 1301.5,420.41 1302.0,420.56 1302.5,421.14 1303.0,422.06 1303.5,423.23 1304.0,424.54 1304.5,425.92 1305.0,427.25 1305.5,428.45 1306.0,429.51 1306.5,430.57 1307.0,431.63 1307.5,432.70 1308.0,433.79 1308.5,434.90 1309.0,436.20 1309.5,437.71 1310.0,439.22 1310.5,440.47 1311.0,441.26 1311.5,441.37 1312.0,441.09 1312.5,440.53 1313.0,439.76 1313.5,438.80 1314.0,437.72 1314.5,436.57 1315.0,435.38 1315.5,434.16 1316.0,432.48 1316.5,430.42 1317.0,428.21 1317.5,426.06 1318.0,424.19 1318.5,422.82 1319.0,421.91 1319.5,421.05 1320.0,420.28 1320.5,419.62 1321.0,419.13 1321.5,418.85 1322.0,418.86 1322.5,419.41 1323.0,420.38 1323.5,421.54 1324.0,422.69 1324.5,423.68 1325.0,424.75 1325.5,425.84 1326.0,426.87 1326.5,427.74 1327.0,428.43 1327.5,429.03 1328.0,429.57 1328.5,430.05 1329.0,430.50 1329.5,430.92 1330.0,431.33 1330.5,431.74 1331.0,432.18 1331.5,432.65 1332.0,433.16 1332.5,433.73 1333.0,434.38 1333.5,435.15 1334.0,436.05 1334.5,437.07 1335.0,438.17 1335.5,439.30 1336.0,440.45 1336.5,441.64 1337.0,442.94 1337.5,444.27 1338.0,445.60 1338.5,446.88 1339.0,448.04 1339.5,449.04 1340.0,449.90 1340.5,450.70 1341.0,451.48 1341.5,452.31 1342.0,453.25 1342.5,454.34 1343.0,455.65 1343.5,457.24 1344.0,459.62 1344.5,463.51 1345.0,468.36 1345.5,473.58 1346.0,478.60 1346.5,483.53 1347.0,488.71 1347.5,493.81 1348.0,498.87 1348.5,504.02 1349.0,508.65 1349.5,512.17 1350.0,514.94 1350.5,517.33 1351.0,519.54 1351.5,521.82 1352.0,524.28 1352.5,526.66 1353.0,529.06 1353.5,531.61 1354.0,534.48 1354.5,538.24 1355.0,543.37 1355.5,548.99 1356.0,554.15 1356.5,557.93 1357.0,559.40 1357.5,558.09 1358.0,554.60 1358.5,549.62 1359.0,543.81 1359.5,537.85 1360.0,532.23 1360.5,525.86 1361.0,519.02 1361.5,512.37 1362.0,505.64 1362.5,499.03 1363.0,493.16 1363.5,488.16 1364.0,483.65 1364.5,479.58 1365.0,475.74 1365.5,472.09 1366.0,469.13 1366.5,467.11 1367.0,465.37 1367.5,463.97 1368.0,463.09 1368.5,462.76 1369.0,462.55 1369.5,462.39 1370.0,462.26 1370.5,462.16 1371.0,462.08 1371.5,461.98 1372.0,461.87 1372.5,461.73 1373.0,461.57 1373.5,461.40 1374.0,461.23 1374.5,461.04 1375.0,460.83 1375.5,460.58 1376.0,460.29 1376.5,459.94 1377.0,459.40 1377.5,458.69 1378.0,457.89 1378.5,457.05 1379.0,456.25 1379.5,455.50 1380.0,454.71 1380.5,453.92 1381.0,453.13 1381.5,452.35 1382.0,451.62 1382.5,450.93 1383.0,450.27 1383.5,449.63 1384.0,449.02 1384.5,448.41 1385.0,447.83 1385.5,447.27 1386.0,446.72 1386.5,446.18 1387.0,445.59 1387.5,444.99 1388.0,444.47 1388.5,444.11 1389.0,443.96 1389.5,443.87 1390.0,443.82" fill="none" stroke="#37AD6B" stroke-width="6" stroke-linejoin="round" stroke-linecap="butt"/>
<polyline points="161.0,299.80 161.5,299.80 162.0,299.80 162.5,299.80 163.0,299.80 163.5,299.80 164.0,299.80 164.5,299.80 165.0,299.80 165.5,299.80 166.0,299.80 166.5,299.80 167.0,299.80 167.5,299.80 168.0,299.80 168.5,299.80 169.0,299.80 169.5,299.80 170.0,299.80 170.5,299.80 171.0,299.80 171.5,299.80 172.0,299.80 172.5,299.80 173.0,299.80 173.5,299.80 174.0,299.80 174.5,299.80 175.0,299.80 175.5,299.80 176.0,299.80 176.5,299.80 177.0,299.80 177.5,299.80 178.0,299.80 178.5,299.80 179.0,299.80 179.5,299.80 180.0,299.80 180.5,299.80 181.0,299.80 181.5,299.80 182.0,299.80 182.5,299.80 183.0,299.80 183.5,299.82 184.0,299.89 184.5,299.99 185.0,300.12 185.5,300.27 186.0,300.44 186.5,300.62 187.0,300.81 187.5,301.00 188.0,301.18 188.5,301.35 189.0,301.50 189.5,301.63 190.0,301.73 190.5,301.79 191.0,301.81 191.5,301.83 192.0,301.86 192.5,301.87 193.0,301.89 193.5,301.91 194.0,301.93 194.5,301.94 195.0,301.95 195.5,301.96 196.0,301.97 196.5,301.98 197.0,301.99 197.5,301.99 198.0,302.00 198.5,302.00 199.0,302.00 199.5,302.00 200.0,302.00 200.5,302.00 201.0,302.00 201.5,302.00 202.0,302.00 202.5,302.00 203.0,302.00 203.5,301.99 204.0,301.99 204.5,301.99 205.0,301.99 205.5,301.99 206.0,301.99 206.5,301.99 207.0,301.98 207.5,301.98 208.0,301.98 208.5,301.98 209.0,301.97 209.5,301.97 210.0,301.97 210.5,301.97 211.0,301.96 211.5,301.96 212.0,301.96 212.5,301.95 213.0,301.95 213.5,301.95 214.0,301.94 214.5,301.94 215.0,301.94 215.5,301.93 216.0,301.93 216.5,301.92 217.0,301.92 217.5,301.91 218.0,301.91 218.5,301.90 219.0,301.90 219.5,301.89 220.0,301.89 220.5,301.88 221.0,301.88 221.5,301.87 222.0,301.87 222.5,301.86 223.0,301.85 223.5,301.85 224.0,301.84 224.5,301.83 225.0,301.83 225.5,301.82 226.0,301.81 226.5,301.81 227.0,301.80 227.5,301.79 228.0,301.77 228.5,301.75 229.0,301.72 229.5,301.69 230.0,301.66 230.5,301.61 231.0,301.57 231.5,301.52 232.0,301.47 232.5,301.41 233.0,301.35 233.5,301.28 234.0,301.22 234.5,301.15 235.0,301.08 235.5,301.00 236.0,300.93 236.5,300.85 237.0,300.77 237.5,300.70 238.0,300.62 238.5,300.53 239.0,300.45 239.5,300.37 240.0,300.29 240.5,300.21 241.0,300.13 241.5,300.05 242.0,299.98 242.5,299.90 243.0,299.82 243.5,299.75 244.0,299.67 244.5,299.59 245.0,299.50 245.5,299.41 246.0,299.32 246.5,299.23 247.0,299.13 247.5,299.04 248.0,298.94 248.5,298.84 249.0,298.73 249.5,298.63 250.0,298.53 250.5,298.43 251.0,298.32 251.5,298.22 252.0,298.12 252.5,298.02 253.0,297.92 253.5,297.82 254.0,297.72 254.5,297.63 255.0,297.54 255.5,297.45 256.0,297.37 256.5,297.28 257.0,297.21 257.5,297.13 258.0,297.06 258.5,297.00 259.0,296.94 259.5,296.88 260.0,296.83 260.5,296.78 261.0,296.73 261.5,296.68 262.0,296.63 262.5,296.58 263.0,296.53 263.5,296.48 264.0,296.43 264.5,296.38 265.0,296.33 265.5,296.29 266.0,296.24 266.5,296.19 267.0,296.14 267.5,296.10 268.0,296.05 268.5,296.01 269.0,295.96 269.5,295.92 270.0,295.88 270.5,295.83 271.0,295.79 271.5,295.75 272.0,295.71 272.5,295.68 273.0,295.64 273.5,295.60 274.0,295.57 274.5,295.54 275.0,295.50 275.5,295.47 276.0,295.44 276.5,295.41 277.0,295.39 277.5,295.36 278.0,295.33 278.5,295.31 279.0,295.29 279.5,295.27 280.0,295.25 280.5,295.24 281.0,295.22 281.5,295.21 282.0,295.20 282.5,295.19 283.0,295.18 283.5,295.17 284.0,295.17 284.5,295.17 285.0,295.17 285.5,295.17 286.0,295.18 286.5,295.19 287.0,295.20 287.5,295.21 288.0,295.23 288.5,295.25 289.0,295.26 289.5,295.29 290.0,295.31 290.5,295.33 291.0,295.36 291.5,295.38 292.0,295.41 292.5,295.43 293.0,295.46 293.5,295.49 294.0,295.51 294.5,295.54 295.0,295.57 295.5,295.61 296.0,295.65 296.5,295.70 297.0,295.74 297.5,295.80 298.0,295.85 298.5,295.91 299.0,295.97 299.5,296.04 300.0,296.10 300.5,296.17 301.0,296.23 301.5,296.30 302.0,296.37 302.5,296.44 303.0,296.50 303.5,296.57 304.0,296.63 304.5,296.70 305.0,296.76 305.5,296.82 306.0,296.87 306.5,296.93 307.0,296.98 307.5,297.02 308.0,297.07 308.5,297.10 309.0,297.14 309.5,297.16 310.0,297.19 310.5,297.20 311.0,297.21 311.5,297.22 312.0,297.21 312.5,297.21 313.0,297.20 313.5,297.19 314.0,297.17 314.5,297.15 315.0,297.13 315.5,297.10 316.0,297.08 316.5,297.05 317.0,297.02 317.5,296.98 318.0,296.95 318.5,296.91 319.0,296.88 319.5,296.83 320.0,296.78 320.5,296.70 321.0,296.61 321.5,296.51 322.0,296.39 322.5,296.26 323.0,296.11 323.5,295.96 324.0,295.80 324.5,295.63 325.0,295.45 325.5,295.26 326.0,295.07 326.5,294.88 327.0,294.68 327.5,294.48 328.0,294.28 328.5,294.08 329.0,293.89 329.5,293.69 330.0,293.50 330.5,293.31 331.0,293.12 331.5,292.95 332.0,292.78 332.5,292.61 333.0,292.46 333.5,292.28 334.0,292.10 334.5,291.91 335.0,291.71 335.5,291.51 336.0,291.31 336.5,291.11 337.0,290.92 337.5,290.74 338.0,290.58 338.5,290.42 339.0,290.29 339.5,290.18 340.0,290.09 340.5,290.03 341.0,290.00 341.5,290.00 342.0,290.01 342.5,290.02 343.0,290.05 343.5,290.08 344.0,290.12 344.5,290.16 345.0,290.21 345.5,290.27 346.0,290.33 346.5,290.40 347.0,290.47 347.5,290.55 348.0,290.63 348.5,290.72 349.0,290.81 349.5,290.91 350.0,291.01 350.5,291.17 351.0,291.42 351.5,291.73 352.0,292.08 352.5,292.45 353.0,292.83 353.5,293.20 354.0,293.54 354.5,293.82 355.0,294.04 355.5,294.16 356.0,294.22 356.5,294.27 357.0,294.32 357.5,294.37 358.0,294.41 358.5,294.45 359.0,294.49 359.5,294.53 360.0,294.56 360.5,294.59 361.0,294.62 361.5,294.65 362.0,294.67 362.5,294.69 363.0,294.71 363.5,294.73 364.0,294.74 364.5,294.75 365.0,294.76 365.5,294.76 366.0,294.76 366.5,294.73 367.0,294.54 367.5,294.23 368.0,293.82 368.5,293.35 369.0,292.87 369.5,292.40 370.0,291.98 370.5,291.66 371.0,291.45 371.5,291.33 372.0,291.21 372.5,291.10 373.0,290.99 373.5,290.89 374.0,290.79 374.5,290.71 375.0,290.63 375.5,290.56 376.0,290.50 376.5,290.45 377.0,290.40 377.5,290.37 378.0,290.35 378.5,290.34 379.0,290.35 379.5,290.37 380.0,290.41 380.5,290.47 381.0,290.54 381.5,290.62 382.0,290.72 382.5,290.83 383.0,290.94 383.5,291.06 384.0,291.19 384.5,291.33 385.0,291.47 385.5,291.61 386.0,291.75 386.5,291.89 387.0,292.08 387.5,292.31 388.0,292.58 388.5,292.87 389.0,293.19 389.5,293.52 390.0,293.86 390.5,294.19 391.0,294.51 391.5,294.81 392.0,295.08 392.5,295.31 393.0,295.50 393.5,295.64 394.0,295.72 394.5,295.76 395.0,295.80 395.5,295.85 396.0,295.89 396.5,295.93 397.0,295.96 397.5,296.00 398.0,296.04 398.5,296.07 399.0,296.10 399.5,296.13 400.0,296.17 400.5,296.20 401.0,296.22 401.5,296.25 402.0,296.28 402.5,296.30 403.0,296.33 403.5,296.35 404.0,296.37 404.5,296.39 405.0,296.41 405.5,296.43 406.0,296.45 406.5,296.46 407.0,296.48 407.5,296.49 408.0,296.50 408.5,296.52 409.0,296.53 409.5,296.54 410.0,296.55 410.5,296.56 411.0,296.56 411.5,296.57 412.0,296.57 412.5,296.58 413.0,296.58 413.5,296.58 414.0,296.59 414.5,296.59 415.0,296.59 415.5,296.58 416.0,296.57 416.5,296.55 417.0,296.52 417.5,296.49 418.0,296.45 418.5,296.41 419.0,296.36 419.5,296.31 420.0,296.26 420.5,296.20 421.0,296.14 421.5,296.08 422.0,296.01 422.5,295.95 423.0,295.89 423.5,295.82 424.0,295.76 424.5,295.70 425.0,295.64 425.5,295.58 426.0,295.53 426.5,295.48 427.0,295.43 427.5,295.39 428.0,295.35 428.5,295.32 429.0,295.29 429.5,295.28 430.0,295.27 430.5,295.26 431.0,295.30 431.5,295.39 432.0,295.52 432.5,295.68 433.0,295.88 433.5,296.10 434.0,296.34 434.5,296.60 435.0,296.85 435.5,297.11 436.0,297.37 436.5,297.61 437.0,297.83 437.5,298.03 438.0,298.19 438.5,298.32 439.0,298.41 439.5,298.45 440.0,298.44 440.5,298.42 441.0,298.37 441.5,298.32 442.0,298.24 442.5,298.15 443.0,298.05 443.5,297.94 444.0,297.81 444.5,297.68 445.0,297.53 445.5,297.38 446.0,297.22 446.5,297.05 447.0,296.88 447.5,296.70 448.0,296.52 448.5,296.34 449.0,296.16 449.5,295.97 450.0,295.79 450.5,295.61 451.0,295.43 451.5,295.25 452.0,295.08 452.5,294.91 453.0,294.75 453.5,294.60 454.0,294.46 454.5,294.33 455.0,294.20 455.5,294.09 456.0,293.99 456.5,293.91 457.0,293.84 457.5,293.78 458.0,293.74 458.5,293.72 459.0,293.72 459.5,293.72 460.0,293.73 460.5,293.74 461.0,293.75 461.5,293.77 462.0,293.79 462.5,293.82 463.0,293.84 463.5,293.87 464.0,293.91 464.5,293.94 465.0,293.98 465.5,294.02 466.0,294.06 466.5,294.10 467.0,294.15 467.5,294.19 468.0,294.24 468.5,294.29 469.0,294.34 469.5,294.39 470.0,294.44 470.5,294.49 471.0,294.54 471.5,294.59 472.0,294.65 472.5,294.70 473.0,294.75 473.5,294.80 474.0,294.85 474.5,294.89 475.0,294.94 475.5,294.99 476.0,295.03 476.5,295.07 477.0,295.11 477.5,295.15 478.0,295.19 478.5,295.22 479.0,295.26 479.5,295.29 480.0,295.32 480.5,295.35 481.0,295.38 481.5,295.41 482.0,295.44 482.5,295.47 483.0,295.50 483.5,295.53 484.0,295.56 484.5,295.58 485.0,295.61 485.5,295.64 486.0,295.66 486.5,295.69 487.0,295.71 487.5,295.74 488.0,295.76 488.5,295.79 489.0,295.81 489.5,295.84 490.0,295.86 490.5,295.89 491.0,295.91 491.5,295.94 492.0,295.96 492.5,295.99 493.0,296.02 493.5,296.04 494.0,296.07 494.5,296.10 495.0,296.13 495.5,296.16 496.0,296.19 496.5,296.22 497.0,296.25 497.5,296.28 498.0,296.31 498.5,296.34 499.0,296.38 499.5,296.41 500.0,296.45 500.5,296.49 501.0,296.52 501.5,296.56 502.0,296.60 502.5,296.64 503.0,296.69 503.5,296.73 504.0,296.78 504.5,296.82 505.0,296.87 505.5,296.92 506.0,296.97 506.5,297.02 507.0,297.08 507.5,297.15 508.0,297.23 508.5,297.33 509.0,297.43 509.5,297.55 510.0,297.68 510.5,297.81 511.0,297.95 511.5,298.10 512.0,298.26 512.5,298.41 513.0,298.58 513.5,298.74 514.0,298.91 514.5,299.08 515.0,299.25 515.5,299.42 516.0,299.58 516.5,299.75 517.0,299.91 517.5,300.06 518.0,300.21 518.5,300.35 519.0,300.49 519.5,300.61 520.0,300.73 520.5,300.84 521.0,300.93 521.5,301.02 522.0,301.09 522.5,301.14 523.0,301.18 523.5,301.21 524.0,301.22 524.5,301.21 525.0,301.18 525.5,301.13 526.0,301.07 526.5,301.00 527.0,300.91 527.5,300.80 528.0,300.68 528.5,300.55 529.0,300.41 529.5,300.25 530.0,300.09 530.5,299.92 531.0,299.74 531.5,299.55 532.0,299.36 532.5,299.15 533.0,298.95 533.5,298.74 534.0,298.52 534.5,298.31 535.0,298.09 535.5,297.87 536.0,297.65 536.5,297.43 537.0,297.21 537.5,296.99 538.0,296.78 538.5,296.56 539.0,296.36 539.5,296.16 540.0,295.96 540.5,295.77 541.0,295.59 541.5,295.42 542.0,295.25 542.5,295.10 543.0,294.95 543.5,294.82 544.0,294.70 544.5,294.59 545.0,294.50 545.5,294.42 546.0,294.34 546.5,294.25 547.0,294.17 547.5,294.09 548.0,294.01 548.5,293.92 549.0,293.84 549.5,293.76 550.0,293.68 550.5,293.60 551.0,293.53 551.5,293.45 552.0,293.37 552.5,293.29 553.0,293.22 553.5,293.14 554.0,293.07 554.5,293.00 555.0,292.93 555.5,292.86 556.0,292.79 556.5,292.72 557.0,292.65 557.5,292.59 558.0,292.52 558.5,292.46 559.0,292.40 559.5,292.34 560.0,292.29 560.5,292.23 561.0,292.18 561.5,292.12 562.0,292.07 562.5,292.03 563.0,291.98 563.5,291.93 564.0,291.89 564.5,291.85 565.0,291.81 565.5,291.78 566.0,291.75 566.5,291.71 567.0,291.69 567.5,291.66 568.0,291.64 568.5,291.61 569.0,291.60 569.5,291.58 570.0,291.57 570.5,291.56 571.0,291.55 571.5,291.54 572.0,291.54 572.5,291.55 573.0,291.55 573.5,291.56 574.0,291.58 574.5,291.60 575.0,291.62 575.5,291.65 576.0,291.68 576.5,291.71 577.0,291.75 577.5,291.79 578.0,291.83 578.5,291.88 579.0,291.93 579.5,291.98 580.0,292.03 580.5,292.09 581.0,292.14 581.5,292.20 582.0,292.26 582.5,292.33 583.0,292.39 583.5,292.45 584.0,292.52 584.5,292.59 585.0,292.66 585.5,292.73 586.0,292.79 586.5,292.86 587.0,292.93 587.5,293.00 588.0,293.07 588.5,293.14 589.0,293.21 589.5,293.28 590.0,293.35 590.5,293.42 591.0,293.48 591.5,293.55 592.0,293.61 592.5,293.68 593.0,293.74 593.5,293.80 594.0,293.85 594.5,293.91 595.0,293.96 595.5,294.01 596.0,294.06 596.5,294.11 597.0,294.15 597.5,294.19 598.0,294.23 598.5,294.26 599.0,294.29 599.5,294.32 600.0,294.34 600.5,294.45 601.0,294.55 601.5,294.65 602.0,294.74 602.5,294.83 603.0,294.91 603.5,294.96 604.0,294.98 604.5,294.98 605.0,294.96 605.5,294.92 606.0,294.86 606.5,294.79 607.0,294.71 607.5,294.62 608.0,294.53 608.5,294.43 609.0,294.34 609.5,294.24 610.0,294.16 610.5,294.07 611.0,294.00 611.5,293.95 612.0,293.90 612.5,293.88 613.0,293.88 613.5,293.90 614.0,293.95 614.5,294.03 615.0,294.03 615.5,294.05 616.0,294.08 616.5,294.14 617.0,294.21 617.5,294.31 618.0,294.43 618.5,294.58 619.0,294.76 619.5,294.97 620.0,295.22 620.5,295.53 621.0,295.88 621.5,296.30 622.0,296.79 622.5,297.36 623.0,298.03 623.5,298.80 624.0,299.69 624.5,300.70 625.0,301.84 625.5,303.13 626.0,304.56 626.5,306.14 627.0,307.88 627.5,309.75 628.0,311.77 628.5,313.90 629.0,316.14 629.5,318.45 630.0,320.81 630.5,323.20 631.0,325.57 631.5,327.88 632.0,330.08 632.5,332.14 633.0,334.01 633.5,335.65 634.0,337.03 634.5,338.11 635.0,338.86 635.5,339.27 636.0,339.33 636.5,339.06 637.0,338.47 637.5,337.60 638.0,336.44 638.5,335.03 639.0,333.39 639.5,331.55 640.0,329.55 640.5,327.42 641.0,325.21 641.5,322.94 642.0,320.65 642.5,318.38 643.0,316.15 643.5,313.99 644.0,311.93 644.5,309.97 645.0,308.14 645.5,306.45 646.0,304.89 646.5,303.49 647.0,302.23 647.5,301.12 648.0,300.15 648.5,299.31 649.0,298.60 649.5,298.00 650.0,297.51 650.5,297.12 651.0,296.80 651.5,296.57 652.0,296.40 652.5,296.29 653.0,296.22 653.5,296.20 654.0,296.21 654.5,296.24 655.0,296.30 655.5,296.38 656.0,296.47 656.5,296.58 657.0,296.71 657.5,296.83 658.0,296.96 658.5,297.09 659.0,297.24 659.5,297.41 660.0,297.59 660.5,297.79 661.0,297.99 661.5,298.19 662.0,298.40 662.5,298.61 663.0,298.82 663.5,299.02 664.0,299.22 664.5,299.41 665.0,299.58 665.5,299.74 666.0,299.88 666.5,300.01 667.0,300.11 667.5,300.19 668.0,300.24 668.5,300.26 669.0,300.27 669.5,300.28 670.0,300.27 670.5,300.26 671.0,300.25 671.5,300.23 672.0,300.21 672.5,300.18 673.0,300.15 673.5,300.12 674.0,300.09 674.5,300.06 675.0,300.02 675.5,299.99 676.0,299.96 676.5,299.92 677.0,299.90 677.5,299.87 678.0,299.85 678.5,299.83 679.0,299.81 679.5,299.80 680.0,299.80 680.5,299.75 681.0,299.71 681.5,299.66 682.0,299.62 682.5,299.57 683.0,299.53 683.5,299.48 684.0,299.44 684.5,299.40 685.0,299.36 685.5,299.31 686.0,299.27 686.5,299.23 687.0,299.20 687.5,299.16 688.0,299.12 688.5,299.09 689.0,299.05 689.5,299.02 690.0,298.99 690.5,298.96 691.0,298.94 691.5,298.93 692.0,298.93 692.5,298.93 693.0,298.93 693.5,298.95 694.0,298.96 694.5,298.98 695.0,299.01 695.5,299.04 696.0,299.07 696.5,299.11 697.0,299.15 697.5,299.19 698.0,299.23 698.5,299.29 699.0,299.37 699.5,299.45 700.0,299.55 700.5,299.66 701.0,299.79 701.5,299.94 702.0,300.11 702.5,300.35 703.0,300.67 703.5,301.08 704.0,301.54 704.5,302.05 705.0,302.57 705.5,303.10 706.0,303.66 706.5,304.26 707.0,304.90 707.5,305.60 708.0,306.35 708.5,307.14 709.0,307.99 709.5,308.94 710.0,309.98 710.5,311.10 711.0,312.30 711.5,313.54 712.0,314.81 712.5,316.09 713.0,317.42 713.5,318.83 714.0,320.35 714.5,322.00 715.0,323.81 715.5,325.82 716.0,328.18 716.5,331.11 717.0,334.44 717.5,338.02 718.0,341.67 718.5,345.47 719.0,349.54 719.5,353.81 720.0,358.19 720.5,362.60 721.0,367.00 721.5,371.51 722.0,376.09 722.5,380.68 723.0,385.23 723.5,389.67 724.0,394.07 724.5,398.51 725.0,403.10 725.5,408.14 726.0,413.34 726.5,417.89 727.0,422.29 727.5,424.70 728.0,423.37 728.5,420.47 729.0,417.52 729.5,414.37 730.0,410.82 730.5,406.90 731.0,402.61 731.5,397.75 732.0,392.21 732.5,386.17 733.0,379.80 733.5,373.29 734.0,366.79 734.5,360.41 735.0,353.63 735.5,346.70 736.0,340.07 736.5,334.20 737.0,328.90 737.5,323.90 738.0,319.51 738.5,316.01 739.0,313.22 739.5,310.79 740.0,308.79 740.5,307.28 741.0,306.16 741.5,305.23 742.0,304.45 742.5,303.76 743.0,303.14 743.5,302.55 744.0,302.01 744.5,301.51 745.0,301.06 745.5,300.66 746.0,300.32 746.5,300.00 747.0,299.69 747.5,299.38 748.0,299.08 748.5,298.80 749.0,298.56 749.5,298.35 750.0,298.18 750.5,298.06 751.0,298.01 751.5,298.00 752.0,298.00 752.5,298.00 753.0,298.00 753.5,298.00 754.0,298.00 754.5,298.00 755.0,298.00 755.5,298.00 756.0,298.00 756.5,298.00 757.0,298.00 757.5,298.00 758.0,298.00 758.5,298.00 759.0,298.00 759.5,298.00 760.0,298.02 760.5,298.12 761.0,298.29 761.5,298.54 762.0,298.83 762.5,299.17 763.0,299.55 763.5,300.14 764.0,300.95 764.5,301.94 765.0,303.10 765.5,304.71 766.0,306.72 766.5,309.04 767.0,311.83 767.5,315.21 768.0,318.97 768.5,323.02 769.0,327.58 769.5,332.50 770.0,337.55 770.5,343.95 771.0,350.80 771.5,354.71 772.0,354.55 772.5,353.66 773.0,352.71 773.5,352.27 774.0,352.41 774.5,352.74 775.0,353.19 775.5,353.83 776.0,354.81 776.5,356.11 777.0,357.72 777.5,359.67 778.0,362.76 778.5,367.36 779.0,372.96 779.5,379.08 780.0,386.36 780.5,395.04 781.0,404.01 781.5,413.33 782.0,423.13 782.5,432.40 783.0,440.51 783.5,449.04 784.0,455.41 784.5,456.27 785.0,452.30 785.5,446.29 786.0,440.63 786.5,434.83 787.0,428.57 787.5,421.93 788.0,414.99 788.5,407.85 789.0,400.16 789.5,391.72 790.0,383.63 790.5,376.58 791.0,369.76 791.5,363.74 792.0,359.25 792.5,356.11 793.0,353.52 793.5,351.32 794.0,349.34 794.5,347.39 795.0,345.47 795.5,343.68 796.0,341.99 796.5,340.39 797.0,338.87 797.5,337.41 798.0,336.02 798.5,334.68 799.0,333.38 799.5,332.14 800.0,330.95 800.5,329.79 801.0,328.68 801.5,327.62 802.0,326.59 802.5,325.60 803.0,324.63 803.5,323.68 804.0,322.74 804.5,321.80 805.0,320.86 805.5,319.92 806.0,319.01 806.5,318.12 807.0,317.26 807.5,316.44 808.0,315.68 808.5,314.97 809.0,314.32 809.5,313.71 810.0,313.14 810.5,312.60 811.0,312.07 811.5,311.56 812.0,311.06 812.5,310.55 813.0,310.04 813.5,309.50 814.0,308.95 814.5,308.36 815.0,307.74 815.5,307.11 816.0,306.48 816.5,305.87 817.0,305.30 817.5,304.78 818.0,304.25 818.5,303.69 819.0,303.14 819.5,302.65 820.0,302.27 820.5,302.04 821.0,302.01 821.5,302.14 822.0,302.39 822.5,302.73 823.0,303.14 823.5,303.61 824.0,304.29 824.5,305.31 825.0,306.56 825.5,307.96 826.0,309.38 826.5,310.93 827.0,312.68 827.5,314.55 828.0,316.45 828.5,318.58 829.0,320.94 829.5,323.05 830.0,324.47 830.5,325.37 831.0,326.14 831.5,326.75 832.0,327.00 832.5,326.97 833.0,326.88 833.5,326.75 834.0,326.57 834.5,326.36 835.0,325.91 835.5,325.15 836.0,324.23 836.5,323.31 837.0,322.39 837.5,321.37 838.0,320.23 838.5,318.94 839.0,317.22 839.5,314.83 840.0,312.31 840.5,310.21 841.0,309.10 841.5,308.71 842.0,308.40 842.5,308.15 843.0,307.95 843.5,307.78 844.0,307.63 844.5,307.48 845.0,307.35 845.5,307.25 846.0,307.17 846.5,307.09 847.0,306.99 847.5,306.87 848.0,306.71 848.5,306.41 849.0,305.93 849.5,305.36 850.0,304.80 850.5,304.32 851.0,303.88 851.5,303.41 852.0,302.99 852.5,302.68 853.0,302.56 853.5,302.68 854.0,302.99 854.5,303.41 855.0,303.88 855.5,304.32 856.0,304.83 856.5,305.45 857.0,306.06 857.5,306.53 858.0,306.71 858.5,306.62 859.0,306.38 859.5,306.03 860.0,305.60 860.5,305.15 861.0,304.71 861.5,304.32 862.0,303.94 862.5,303.53 863.0,303.13 863.5,302.80 864.0,302.56 864.5,302.40 865.0,302.25 865.5,302.13 866.0,302.04 866.5,302.00 867.0,302.06 867.5,302.29 868.0,302.63 868.5,303.05 869.0,303.47 869.5,303.93 870.0,304.45 870.5,305.07 871.0,305.81 871.5,306.68 872.0,307.72 872.5,309.30 873.0,311.45 873.5,313.98 874.0,316.71 874.5,319.45 875.0,322.27 875.5,325.35 876.0,328.61 876.5,331.97 877.0,335.33 877.5,338.76 878.0,342.31 878.5,345.91 879.0,349.50 879.5,353.03 880.0,356.85 880.5,361.00 881.0,364.96 881.5,368.16 882.0,370.06 882.5,371.09 883.0,372.01 883.5,372.79 884.0,373.43 884.5,373.89 885.0,374.21 885.5,374.27 886.0,373.48 886.5,371.98 887.0,370.14 887.5,368.35 888.0,366.48 888.5,364.35 889.0,362.22 889.5,360.38 890.0,358.97 890.5,357.58 891.0,356.24 891.5,355.04 892.0,354.08 892.5,353.37 893.0,353.10 893.5,353.76 894.0,355.22 894.5,357.15 895.0,359.11 895.5,361.29 896.0,363.93 896.5,366.67 897.0,369.19 897.5,371.21 898.0,373.04 898.5,374.71 899.0,376.15 899.5,377.28 900.0,378.26 900.5,379.17 901.0,379.91 901.5,380.29 902.0,379.81 902.5,378.42 903.0,376.62 903.5,374.79 904.0,372.97 904.5,370.94 905.0,368.71 905.5,366.32 906.0,363.76 906.5,360.82 907.0,357.61 907.5,354.29 908.0,351.06 908.5,348.10 909.0,345.26 909.5,342.40 910.0,339.70 910.5,337.35 911.0,335.54 911.5,334.10 912.0,332.84 912.5,331.85 913.0,331.22 913.5,330.83 914.0,330.50 914.5,330.28 915.0,330.20 915.5,330.40 916.0,330.94 916.5,331.73 917.0,332.68 917.5,333.70 918.0,334.95 918.5,336.59 919.0,338.57 919.5,340.82 920.0,343.28 920.5,346.00 921.0,349.38 921.5,353.25 922.0,357.44 922.5,361.74 923.0,365.97 923.5,370.21 924.0,374.64 924.5,379.17 925.0,383.73 925.5,388.23 926.0,392.58 926.5,396.74 927.0,400.77 927.5,404.71 928.0,408.60 928.5,412.49 929.0,416.40 929.5,420.37 930.0,424.33 930.5,428.23 931.0,432.00 931.5,435.63 932.0,439.31 932.5,442.91 933.0,446.27 933.5,449.25 934.0,451.75 934.5,454.26 935.0,456.65 935.5,458.60 936.0,459.78 936.5,459.91 937.0,458.94 937.5,457.19 938.0,454.95 938.5,452.54 939.0,450.20 939.5,447.56 940.0,444.57 940.5,441.29 941.0,437.79 941.5,434.14 942.0,430.09 942.5,425.65 943.0,420.99 943.5,416.29 944.0,411.74 944.5,407.34 945.0,402.96 945.5,398.58 946.0,394.19 946.5,389.78 947.0,385.24 947.5,380.58 948.0,375.95 948.5,371.52 949.0,367.42 949.5,363.41 950.0,359.34 950.5,355.54 951.0,352.32 951.5,350.02 952.0,348.59 952.5,347.40 953.0,346.43 953.5,345.63 954.0,344.99 954.5,344.49 955.0,344.10 955.5,343.77 956.0,343.47 956.5,343.15 957.0,342.89 957.5,342.70 958.0,342.51 958.5,342.30 959.0,342.06 959.5,341.78 960.0,341.46 960.5,341.07 961.0,340.61 961.5,340.04 962.0,339.29 962.5,337.90 963.0,336.05 963.5,334.06 964.0,332.24 964.5,330.84 965.0,329.46 965.5,328.11 966.0,326.97 966.5,326.21 967.0,326.01 967.5,326.22 968.0,326.69 968.5,327.35 969.0,328.14 969.5,328.98 970.0,330.01 970.5,331.36 971.0,333.01 971.5,334.91 972.0,337.03 972.5,339.68 973.0,343.01 973.5,346.76 974.0,350.79 974.5,355.56 975.0,360.58 975.5,365.10 976.0,369.27 976.5,373.15 977.0,376.50 977.5,379.55 978.0,382.37 978.5,384.36 979.0,385.21 979.5,385.75 980.0,386.15 980.5,386.48 981.0,386.81 981.5,387.18 982.0,387.47 982.5,387.74 983.0,388.07 983.5,388.61 984.0,389.57 984.5,392.22 985.0,396.05 985.5,400.13 986.0,404.34 986.5,409.10 987.0,414.35 987.5,420.19 988.0,427.08 988.5,434.38 989.0,441.33 989.5,447.42 990.0,453.96 990.5,460.23 991.0,464.94 991.5,466.80 992.0,465.63 992.5,462.67 993.0,458.72 993.5,454.58 994.0,450.52 994.5,445.89 995.0,440.71 995.5,435.05 996.0,428.70 996.5,421.08 997.0,413.15 997.5,406.00 998.0,399.29 998.5,392.97 999.0,387.59 999.5,383.30 1000.0,379.58 1000.5,376.43 1001.0,373.85 1001.5,371.53 1002.0,369.60 1002.5,368.25 1003.0,367.33 1003.5,366.56 1004.0,365.97 1004.5,365.59 1005.0,365.38 1005.5,365.20 1006.0,365.07 1006.5,365.01 1007.0,365.08 1007.5,365.55 1008.0,366.29 1008.5,367.19 1009.0,368.11 1009.5,369.11 1010.0,370.31 1010.5,371.82 1011.0,373.70 1011.5,376.67 1012.0,380.92 1012.5,385.75 1013.0,390.75 1013.5,396.47 1014.0,402.50 1014.5,408.37 1015.0,414.19 1015.5,420.04 1016.0,425.75 1016.5,431.18 1017.0,437.13 1017.5,443.49 1018.0,448.75 1018.5,451.41 1019.0,451.17 1019.5,450.00 1020.0,448.26 1020.5,446.26 1021.0,444.13 1021.5,441.44 1022.0,438.15 1022.5,434.25 1023.0,429.56 1023.5,422.80 1024.0,414.94 1024.5,407.49 1025.0,400.39 1025.5,393.33 1026.0,387.42 1026.5,383.35 1027.0,380.07 1027.5,377.45 1028.0,375.53 1028.5,373.86 1029.0,372.50 1029.5,371.82 1030.0,371.83 1030.5,371.92 1031.0,372.07 1031.5,372.26 1032.0,372.47 1032.5,372.69 1033.0,372.96 1033.5,373.30 1034.0,373.70 1034.5,374.15 1035.0,374.70 1035.5,375.46 1036.0,376.34 1036.5,377.24 1037.0,378.41 1037.5,379.61 1038.0,380.28 1038.5,379.72 1039.0,377.81 1039.5,375.30 1040.0,372.91 1040.5,370.37 1041.0,367.48 1041.5,364.20 1042.0,359.88 1042.5,354.68 1043.0,349.73 1043.5,346.14 1044.0,343.45 1044.5,341.14 1045.0,339.22 1045.5,337.69 1046.0,336.46 1046.5,335.40 1047.0,334.48 1047.5,333.65 1048.0,332.87 1048.5,332.09 1049.0,331.31 1049.5,330.55 1050.0,329.82 1050.5,329.14 1051.0,328.50 1051.5,327.92 1052.0,327.47 1052.5,327.08 1053.0,326.70 1053.5,326.33 1054.0,325.98 1054.5,325.65 1055.0,325.34 1055.5,325.07 1056.0,324.83 1056.5,324.63 1057.0,324.47 1057.5,324.35 1058.0,324.24 1058.5,324.13 1059.0,324.04 1059.5,323.95 1060.0,323.87 1060.5,323.81 1061.0,323.75 1061.5,323.70 1062.0,323.65 1062.5,323.62 1063.0,323.58 1063.5,323.54 1064.0,323.51 1064.5,323.48 1065.0,323.45 1065.5,323.43 1066.0,323.42 1066.5,323.40 1067.0,323.40 1067.5,323.55 1068.0,324.08 1068.5,324.90 1069.0,325.87 1069.5,326.93 1070.0,328.38 1070.5,330.21 1071.0,332.31 1071.5,334.61 1072.0,337.48 1072.5,340.84 1073.0,344.31 1073.5,347.53 1074.0,350.90 1074.5,354.52 1075.0,357.53 1075.5,359.05 1076.0,358.30 1076.5,355.54 1077.0,351.64 1077.5,347.48 1078.0,343.77 1078.5,339.72 1079.0,335.49 1079.5,331.63 1080.0,328.64 1080.5,326.25 1081.0,324.16 1081.5,322.36 1082.0,320.83 1082.5,319.51 1083.0,318.34 1083.5,317.32 1084.0,316.45 1084.5,315.71 1085.0,315.04 1085.5,314.43 1086.0,313.87 1086.5,313.36 1087.0,312.88 1087.5,312.42 1088.0,311.95 1088.5,311.45 1089.0,310.96 1089.5,310.53 1090.0,310.18 1090.5,309.96 1091.0,309.91 1091.5,309.94 1092.0,309.98 1092.5,310.01 1093.0,310.05 1093.5,310.08 1094.0,310.12 1094.5,310.16 1095.0,310.19 1095.5,310.23 1096.0,310.26 1096.5,310.30 1097.0,310.33 1097.5,310.37 1098.0,310.42 1098.5,310.56 1099.0,310.78 1099.5,311.07 1100.0,311.39 1100.5,311.74 1101.0,312.09 1101.5,312.43 1102.0,312.73 1102.5,312.99 1103.0,313.19 1103.5,313.29 1104.0,313.29 1104.5,313.25 1105.0,313.18 1105.5,313.09 1106.0,312.98 1106.5,312.86 1107.0,312.72 1107.5,312.58 1108.0,312.44 1108.5,312.31 1109.0,312.18 1109.5,312.06 1110.0,311.94 1110.5,311.83 1111.0,311.71 1111.5,311.58 1112.0,311.45 1112.5,311.30 1113.0,311.14 1113.5,310.96 1114.0,310.77 1114.5,310.55 1115.0,310.28 1115.5,309.90 1116.0,309.44 1116.5,308.90 1117.0,308.33 1117.5,307.73 1118.0,307.12 1118.5,306.53 1119.0,305.97 1119.5,305.47 1120.0,304.98 1120.5,304.44 1121.0,303.88 1121.5,303.32 1122.0,302.78 1122.5,302.27 1123.0,301.82 1123.5,301.45 1124.0,301.18 1124.5,301.02 1125.0,301.00 1125.5,301.00 1126.0,301.00 1126.5,301.00 1127.0,301.00 1127.5,301.00 1128.0,301.00 1128.5,301.00 1129.0,301.00 1129.5,301.00 1130.0,301.00 1130.5,301.00 1131.0,301.00 1131.5,301.00 1132.0,301.00 1132.5,301.00 1133.0,301.00 1133.5,300.99 1134.0,300.90 1134.5,300.71 1135.0,300.46 1135.5,300.16 1136.0,299.82 1136.5,299.46 1137.0,299.10 1137.5,298.76 1138.0,298.46 1138.5,298.20 1139.0,297.97 1139.5,297.72 1140.0,297.46 1140.5,297.21 1141.0,296.97 1141.5,296.76 1142.0,296.57 1142.5,296.43 1143.0,296.33 1143.5,296.30 1144.0,296.32 1144.5,296.37 1145.0,296.46 1145.5,296.57 1146.0,296.71 1146.5,296.86 1147.0,297.02 1147.5,297.20 1148.0,297.37 1148.5,297.56 1149.0,297.78 1149.5,298.05 1150.0,298.37 1150.5,298.76 1151.0,299.24 1151.5,299.95 1152.0,301.15 1152.5,302.75 1153.0,304.65 1153.5,306.78 1154.0,309.57 1154.5,313.23 1155.0,317.31 1155.5,321.37 1156.0,325.57 1156.5,329.99 1157.0,334.54 1157.5,339.29 1158.0,344.22 1158.5,349.07 1159.0,353.74 1159.5,358.38 1160.0,362.30 1160.5,365.83 1161.0,368.62 1161.5,369.06 1162.0,367.69 1162.5,365.37 1163.0,362.73 1163.5,360.36 1164.0,357.59 1164.5,354.57 1165.0,352.15 1165.5,351.16 1166.0,351.36 1166.5,351.87 1167.0,352.58 1167.5,353.35 1168.0,354.05 1168.5,354.82 1169.0,355.75 1169.5,356.65 1170.0,357.36 1170.5,357.71 1171.0,357.38 1171.5,356.19 1172.0,354.50 1172.5,352.70 1173.0,351.16 1173.5,349.71 1174.0,348.11 1174.5,346.57 1175.0,345.35 1175.5,344.67 1176.0,344.66 1176.5,345.02 1177.0,345.63 1177.5,346.41 1178.0,347.29 1178.5,348.24 1179.0,349.50 1179.5,351.08 1180.0,352.91 1180.5,354.93 1181.0,357.12 1181.5,359.87 1182.0,363.00 1182.5,366.20 1183.0,369.16 1183.5,372.30 1184.0,375.65 1184.5,378.31 1185.0,379.40 1185.5,378.64 1186.0,376.77 1186.5,374.41 1187.0,372.20 1187.5,370.33 1188.0,368.47 1188.5,366.46 1189.0,364.16 1189.5,361.33 1190.0,357.42 1190.5,352.99 1191.0,348.81 1191.5,344.82 1192.0,340.89 1192.5,337.63 1193.0,335.43 1193.5,333.60 1194.0,332.02 1194.5,330.64 1195.0,329.41 1195.5,328.28 1196.0,327.21 1196.5,326.16 1197.0,325.16 1197.5,324.21 1198.0,323.34 1198.5,322.56 1199.0,321.89 1199.5,321.36 1200.0,320.90 1200.5,320.45 1201.0,320.02 1201.5,319.62 1202.0,319.25 1202.5,318.93 1203.0,318.67 1203.5,318.47 1204.0,318.34 1204.5,318.30 1205.0,318.39 1205.5,318.64 1206.0,318.97 1206.5,319.35 1207.0,319.70 1207.5,320.10 1208.0,320.61 1208.5,321.10 1209.0,321.50 1209.5,321.69 1210.0,320.93 1210.5,318.50 1211.0,316.01 1211.5,314.15 1212.0,312.55 1212.5,311.06 1213.0,309.70 1213.5,308.41 1214.0,307.13 1214.5,305.89 1215.0,304.74 1215.5,303.73 1216.0,302.89 1216.5,302.27 1217.0,301.73 1217.5,301.21 1218.0,300.72 1218.5,300.26 1219.0,299.85 1219.5,299.50 1220.0,299.21 1220.5,298.99 1221.0,298.85 1221.5,298.80 1222.0,298.90 1222.5,299.08 1223.0,299.34 1223.5,299.65 1224.0,300.01 1224.5,300.40 1225.0,300.80 1225.5,301.19 1226.0,301.57 1226.5,301.91 1227.0,302.21 1227.5,302.44 1228.0,302.59 1228.5,302.65 1229.0,302.61 1229.5,302.49 1230.0,302.31 1230.5,302.07 1231.0,301.79 1231.5,301.50 1232.0,301.19 1232.5,300.89 1233.0,300.61 1233.5,300.36 1234.0,300.17 1234.5,300.04 1235.0,299.98 1235.5,300.03 1236.0,300.32 1236.5,300.83 1237.0,301.43 1237.5,302.22 1238.0,303.29 1238.5,304.55 1239.0,305.98 1239.5,307.72 1240.0,309.62 1240.5,311.57 1241.0,313.47 1241.5,315.68 1242.0,317.79 1242.5,319.22 1243.0,319.86 1243.5,320.40 1244.0,320.86 1244.5,321.23 1245.0,321.50 1245.5,321.66 1246.0,321.70 1246.5,321.56 1247.0,321.27 1247.5,320.89 1248.0,320.46 1248.5,320.05 1249.0,319.70 1249.5,319.46 1250.0,319.42 1250.5,320.09 1251.0,321.59 1251.5,323.61 1252.0,326.09 1252.5,329.21 1253.0,335.10 1253.5,342.13 1254.0,351.08 1254.5,359.36 1255.0,361.63 1255.5,362.79 1256.0,363.65 1256.5,364.21 1257.0,364.48 1257.5,364.07 1258.0,361.82 1258.5,358.51 1259.0,355.07 1259.5,352.26 1260.0,349.17 1260.5,346.26 1261.0,344.49 1261.5,344.36 1262.0,344.67 1262.5,345.22 1263.0,345.95 1263.5,346.80 1264.0,347.73 1264.5,348.67 1265.0,349.96 1265.5,351.56 1266.0,353.23 1266.5,354.74 1267.0,356.28 1267.5,357.90 1268.0,359.18 1268.5,359.70 1269.0,359.61 1269.5,359.36 1270.0,359.00 1270.5,358.59 1271.0,358.17 1271.5,357.75 1272.0,357.27 1272.5,356.68 1273.0,355.93 1273.5,354.91 1274.0,353.06 1274.5,350.68 1275.0,348.30 1275.5,346.08 1276.0,343.79 1276.5,341.36 1277.0,338.73 1277.5,335.91 1278.0,332.98 1278.5,330.04 1279.0,326.78 1279.5,322.98 1280.0,319.64 1280.5,317.80 1281.0,317.56 1281.5,317.41 1282.0,317.29 1282.5,317.19 1283.0,317.12 1283.5,317.06 1284.0,317.03 1284.5,317.02 1285.0,317.05 1285.5,317.14 1286.0,317.28 1286.5,317.44 1287.0,317.58 1287.5,317.67 1288.0,317.69 1288.5,317.50 1289.0,317.09 1289.5,316.56 1290.0,316.00 1290.5,315.50 1291.0,315.08 1291.5,314.67 1292.0,314.26 1292.5,313.82 1293.0,313.33 1293.5,312.78 1294.0,312.10 1294.5,311.29 1295.0,310.37 1295.5,309.39 1296.0,308.39 1296.5,307.39 1297.0,306.45 1297.5,305.59 1298.0,304.77 1298.5,303.87 1299.0,302.95 1299.5,302.05 1300.0,301.25 1300.5,300.58 1301.0,300.12 1301.5,299.91 1302.0,300.04 1302.5,300.55 1303.0,301.37 1303.5,302.40 1304.0,303.57 1304.5,304.79 1305.0,305.97 1305.5,307.03 1306.0,307.97 1306.5,308.91 1307.0,309.85 1307.5,310.80 1308.0,311.76 1308.5,312.74 1309.0,313.89 1309.5,315.24 1310.0,316.57 1310.5,317.68 1311.0,318.37 1311.5,318.48 1312.0,318.22 1312.5,317.73 1313.0,317.03 1313.5,316.18 1314.0,315.22 1314.5,314.18 1315.0,313.12 1315.5,312.03 1316.0,310.53 1316.5,308.69 1317.0,306.71 1317.5,304.79 1318.0,303.12 1318.5,301.90 1319.0,301.08 1319.5,300.32 1320.0,299.62 1320.5,299.03 1321.0,298.59 1321.5,298.34 1322.0,298.35 1322.5,298.84 1323.0,299.71 1323.5,300.75 1324.0,301.78 1324.5,302.67 1325.0,303.62 1325.5,304.60 1326.0,305.52 1326.5,306.30 1327.0,306.91 1327.5,307.45 1328.0,307.93 1328.5,308.36 1329.0,308.76 1329.5,309.14 1330.0,309.51 1330.5,309.88 1331.0,310.26 1331.5,310.68 1332.0,311.14 1332.5,311.66 1333.0,312.24 1333.5,312.92 1334.0,313.73 1334.5,314.64 1335.0,315.62 1335.5,316.64 1336.0,317.66 1336.5,318.73 1337.0,319.89 1337.5,321.08 1338.0,322.27 1338.5,323.41 1339.0,324.45 1339.5,325.34 1340.0,326.12 1340.5,326.83 1341.0,327.53 1341.5,328.27 1342.0,329.11 1342.5,330.09 1343.0,331.26 1343.5,332.68 1344.0,334.86 1344.5,338.44 1345.0,342.90 1345.5,347.71 1346.0,352.33 1346.5,356.87 1347.0,361.63 1347.5,366.33 1348.0,370.98 1348.5,375.73 1349.0,379.99 1349.5,383.23 1350.0,385.78 1350.5,387.97 1351.0,390.01 1351.5,392.11 1352.0,394.37 1352.5,396.56 1353.0,398.77 1353.5,401.13 1354.0,403.76 1354.5,407.22 1355.0,411.95 1355.5,417.11 1356.0,421.87 1356.5,425.35 1357.0,426.70 1357.5,425.45 1358.0,422.15 1358.5,417.41 1359.0,411.90 1359.5,406.24 1360.0,400.90 1360.5,394.85 1361.0,388.36 1361.5,382.04 1362.0,375.65 1362.5,369.37 1363.0,363.80 1363.5,359.05 1364.0,354.77 1364.5,350.90 1365.0,347.26 1365.5,343.79 1366.0,340.98 1366.5,339.06 1367.0,337.41 1367.5,336.08 1368.0,335.24 1368.5,334.93 1369.0,334.73 1369.5,334.58 1370.0,334.46 1370.5,334.37 1371.0,334.30 1371.5,334.23 1372.0,334.15 1372.5,334.04 1373.0,333.91 1373.5,333.78 1374.0,333.65 1374.5,333.50 1375.0,333.33 1375.5,333.14 1376.0,332.92 1376.5,332.65 1377.0,332.22 1377.5,331.67 1378.0,331.05 1378.5,330.40 1379.0,329.78 1379.5,329.19 1380.0,328.58 1380.5,327.96 1381.0,327.35 1381.5,326.75 1382.0,326.17 1382.5,325.64 1383.0,325.13 1383.5,324.63 1384.0,324.15 1384.5,323.69 1385.0,323.23 1385.5,322.80 1386.0,322.37 1386.5,321.95 1387.0,321.49 1387.5,321.03 1388.0,320.62 1388.5,320.34 1389.0,320.22 1389.5,320.16 1390.0,320.11" fill="none" stroke="#B177DE" stroke-width="6" stroke-linejoin="round" stroke-linecap="butt"/>
<line x1="637" y1="223.1" x2="639" y2="862" stroke="#000" stroke-width="6" stroke-dasharray="25.5 21.67"/>
<line x1="786" y1="209.1" x2="786" y2="990" stroke="#000" stroke-width="6" stroke-dasharray="25.5 21.67"/>
<line x1="991" y1="261" x2="991.2" y2="994" stroke="#000" stroke-width="6" stroke-dasharray="25.5 21.67"/>
<line x1="438.8" y1="864.9" x2="557.6" y2="836.0" stroke="#000" stroke-width="3.6" stroke-linecap="butt"/><polygon points="582.9,829.8 557.4,843.6 553.9,829.2" fill="#000"/>
<line x1="766.3" y1="144.6" x2="774.2" y2="163.6" stroke="#000" stroke-width="3.6" stroke-linecap="butt"/><polygon points="784.1,187.6 766.6,164.6 780.2,158.9" fill="#000"/>
<line x1="1087.9" y1="977.9" x2="1030.0" y2="974.4" stroke="#000" stroke-width="3.6" stroke-linecap="butt"/><polygon points="1004.0,972.9 1032.4,967.2 1031.5,982.0" fill="#000"/>
<text x="160.50" y="1096" font-size="62" text-anchor="middle">2500</text>
<text x="467.62" y="1096" font-size="62" text-anchor="middle">2000</text>
<text x="774.75" y="1096" font-size="62" text-anchor="middle">1500</text>
<text x="1081.88" y="1096" font-size="62" text-anchor="middle">1000</text>
<text x="1389.00" y="1096" font-size="62" text-anchor="middle">500</text>
<text x="698.4" y="117.6" font-size="50">1483</text>
<text x="338.6" y="920.7" font-size="50">1726</text>
<text x="1099" y="993.8" font-size="50">1151</text>
<line x1="1206" y1="70.85" x2="1292" y2="70.85" stroke="#515151" stroke-width="6"/>
<text x="1298.9" y="83.80" font-size="37.8">M00</text>
<line x1="1206" y1="117.85" x2="1292" y2="117.85" stroke="#F14040" stroke-width="6"/>
<text x="1298.9" y="130.00" font-size="37.8">M05</text>
<line x1="1206" y1="164.10" x2="1292" y2="164.10" stroke="#1A6FDF" stroke-width="6"/>
<text x="1298.9" y="176.20" font-size="37.8">M10</text>
<line x1="1206" y1="209.95" x2="1292" y2="209.95" stroke="#37AD6B" stroke-width="6"/>
<text x="1298.9" y="222.40" font-size="37.8">M15</text>
<line x1="1206" y1="256.80" x2="1292" y2="256.80" stroke="#B177DE" stroke-width="6"/>
<text x="1298.9" y="268.60" font-size="37.8">M20</text>
<text x="506.8" y="1199.2" font-size="65">Wavenumber (cm</text>
<text x="974.8" y="1171.9" font-size="45">&#8722;1</text>
<text x="1021.9" y="1199.2" font-size="65">)</text>
<text transform="translate(77,777.2) rotate(-90)" x="0" y="0" font-size="65">Transmittance (%)</text>
</svg>
</body></html>
